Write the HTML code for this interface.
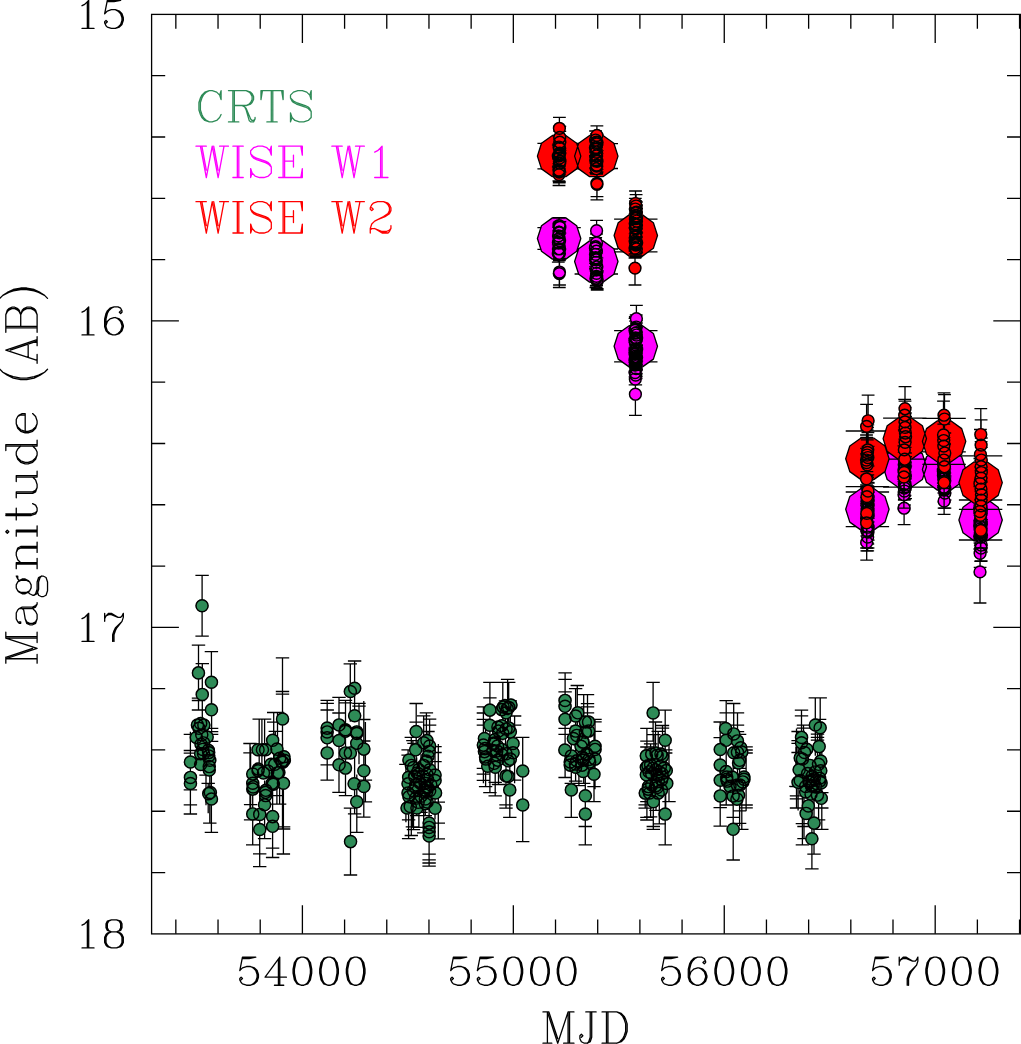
<!DOCTYPE html>
<html><head><meta charset="utf-8"><title>Light curve</title>
<style>html,body{margin:0;padding:0;background:#fff;font-family:"Liberation Sans",sans-serif}svg{display:block}</style></head>
<body>
<svg width="1021" height="1044" viewBox="0 0 1021 1044">
<rect x="0" y="0" width="1021" height="1044" fill="#fff"/>
<path d="M202.1 575.4L202.1 636.2M195.4 575.4L208.8 575.4M198.5 645.2L198.5 703.2M191.8 645.2L205.2 645.2M211.4 651.6L211.4 709.6M204.7 651.6L218.1 651.6M202.3 663.7L202.3 721.7M195.6 663.7L209.0 663.7M190.4 734.3L190.4 792.3M183.7 734.3L197.1 734.3M190.4 750.5L190.4 808.5M183.7 750.5L197.1 750.5M190.4 753.2L190.4 811.2M183.7 753.2L197.1 753.2M206.0 775.2L206.0 805.2M199.3 775.2L212.7 775.2M208.2 783.3L208.2 813.3M201.5 783.3L214.9 783.3M261.9 719.2L261.9 777.2M255.2 719.2L268.6 719.2M259.2 719.2L259.2 777.2M252.5 719.2L265.9 719.2M264.6 719.2L264.6 777.2M257.9 719.2L271.3 719.2M273.7 712.5L273.7 770.5M267.0 712.5L280.4 712.5M277.5 712.5L277.5 770.5M270.8 712.5L284.2 712.5M250.0 743.5L250.0 801.5M243.3 743.5L256.7 743.5M250.0 752.9L250.0 810.9M243.3 752.9L256.7 752.9M273.7 722.2L273.7 780.2M267.0 722.2L280.4 722.2M275.3 731.3L275.3 789.3M268.6 731.3L282.0 731.3M282.5 657.8L282.5 779.8M275.8 657.8L289.2 657.8M282.5 691.5L282.5 821.5M275.8 691.5L289.2 691.5M282.5 694.2L282.5 828.2M275.8 694.2L289.2 694.2M354.6 661.0L354.6 719.0M347.9 661.0L361.3 661.0M350.3 663.8L350.3 721.8M343.6 663.8L357.0 663.8M327.2 700.4L327.2 758.4M320.5 700.4L333.9 700.4M327.2 703.3L327.2 761.3M320.5 703.3L333.9 703.3M327.2 710.0L327.2 768.0M320.5 710.0L333.9 710.0M339.0 697.4L339.0 755.4M332.3 697.4L345.7 697.4M339.0 713.0L339.0 771.0M332.3 713.0L345.7 713.0M345.5 700.4L345.5 758.4M338.8 700.4L352.2 700.4M345.5 702.8L345.5 760.8M338.8 702.8L352.2 702.8M359.0 703.3L359.0 761.3M352.3 703.3L365.7 703.3M359.0 706.2L359.0 764.2M352.3 706.2L365.7 706.2M363.8 719.5L363.8 777.5M357.1 719.5L370.5 719.5M350.5 808.2L350.5 843.2M343.8 808.2L357.2 808.2M416.2 703.5L416.2 761.5M409.5 703.5L422.9 703.5M416.2 722.1L416.2 780.1M409.5 722.1L422.9 722.1M426.4 712.8L426.4 770.8M419.7 712.8L433.1 712.8M423.7 715.9L423.7 773.9M417.0 715.9L430.4 715.9M429.6 719.1L429.6 777.1M422.9 719.1L436.3 719.1M429.6 725.2L429.6 783.2M422.9 725.2L436.3 725.2M428.0 731.5L428.0 789.5M421.3 731.5L434.7 731.5M411.3 737.4L411.3 795.4M404.6 737.4L418.0 737.4M412.9 740.6L412.9 798.6M406.2 740.6L419.6 740.6M414.0 743.3L414.0 801.3M407.3 743.3L420.7 743.3M408.1 749.8L408.1 807.8M401.4 749.8L414.8 749.8M408.1 755.2L408.1 813.2M401.4 755.2L414.8 755.2M435.0 746.6L435.0 804.6M428.3 746.6L441.7 746.6M435.0 752.5L435.0 810.5M428.3 752.5L441.7 752.5M435.0 761.6L435.0 819.6M428.3 761.6L441.7 761.6M405.9 764.3L405.9 822.3M399.2 764.3L412.6 764.3M489.9 682.4L489.9 740.4M483.2 682.4L496.6 682.4M489.9 697.9L489.9 755.9M483.2 697.9L496.6 697.9M507.6 679.4L507.6 737.4M500.9 679.4L514.3 679.4M502.8 682.4L502.8 740.4M496.1 682.4L509.5 682.4M508.7 682.4L508.7 740.4M502.0 682.4L515.4 682.4M505.5 700.9L505.5 758.9M498.8 700.9L512.2 700.9M510.3 700.9L510.3 758.9M503.6 700.9L517.0 700.9M514.6 716.0L514.6 774.0M507.9 716.0L521.3 716.0M514.6 725.2L514.6 783.2M507.9 725.2L521.3 725.2M483.4 706.9L483.4 764.9M476.7 706.9L490.1 706.9M483.4 713.0L483.4 771.0M476.7 713.0L490.1 713.0M483.4 719.3L483.4 777.3M476.7 719.3L490.1 719.3M483.4 725.2L483.4 783.2M476.7 725.2L490.1 725.2M522.7 737.4L522.7 795.4M516.0 737.4L529.4 737.4M565.1 672.9L565.1 730.9M558.4 672.9L571.8 672.9M565.1 679.4L565.1 737.4M558.4 679.4L571.8 679.4M565.1 691.8L565.1 749.8M558.4 691.8L571.8 691.8M577.3 685.5L577.3 743.5M570.6 685.5L584.0 685.5M575.6 688.6L575.6 746.6M568.9 688.6L582.3 688.6M583.7 694.7L583.7 752.7M577.0 694.7L590.4 694.7M587.5 694.7L587.5 752.7M580.8 694.7L594.2 694.7M587.5 703.6L587.5 761.6M580.8 703.6L594.2 703.6M587.5 706.9L587.5 764.9M580.8 706.9L594.2 706.9M587.5 712.8L587.5 770.8M580.8 712.8L594.2 712.8M595.0 719.3L595.0 777.3M588.3 719.3L601.7 719.3M595.0 721.9L595.0 779.9M588.3 721.9L601.7 721.9M595.0 731.3L595.0 789.3M588.3 731.3L601.7 731.3M653.1 682.4L653.1 740.4M646.4 682.4L659.8 682.4M665.2 710.1L665.2 768.1M658.5 710.1L671.9 710.1M646.9 728.4L646.9 786.4M640.2 728.4L653.6 728.4M646.9 741.1L646.9 799.1M640.2 741.1L653.6 741.1M646.9 747.0L646.9 805.0M640.2 747.0L653.6 747.0M655.5 722.0L655.5 780.0M648.8 722.0L662.2 722.0M662.5 725.5L662.5 783.5M655.8 725.5L669.2 725.5M662.5 728.2L662.5 786.2M655.8 728.2L669.2 728.2M650.6 743.8L650.6 801.8M643.9 743.8L657.3 743.8M665.7 749.9L665.7 807.9M659.0 749.9L672.4 749.9M665.7 753.0L665.7 811.0M659.0 753.0L672.4 753.0M653.9 734.6L653.9 792.6M647.2 734.6L660.6 734.6M658.2 731.4L658.2 789.4M651.5 731.4L664.9 731.4M726.2 700.7L726.2 758.7M719.5 700.7L732.9 700.7M726.2 712.9L726.2 770.9M719.5 712.9L732.9 712.9M733.7 703.5L733.7 761.5M727.0 703.5L740.4 703.5M737.5 712.9L737.5 770.9M730.8 712.9L744.2 712.9M737.5 725.2L737.5 783.2M730.8 725.2L744.2 725.2M737.5 731.7L737.5 789.7M730.8 731.7L744.2 731.7M739.6 734.4L739.6 792.4M732.9 734.4L746.3 734.4M720.2 722.0L720.2 780.0M713.5 722.0L726.9 722.0M720.2 737.6L720.2 795.6M713.5 737.6L726.9 737.6M746.1 746.8L746.1 804.8M739.4 746.8L752.8 746.8M746.1 750.0L746.1 808.0M739.4 750.0L752.8 750.0M746.1 753.0L746.1 811.0M739.4 753.0L752.8 753.0M739.6 768.3L739.6 826.3M732.9 768.3L746.3 768.3M815.3 697.8L815.3 755.8M808.6 697.8L822.0 697.8M820.2 697.8L820.2 755.8M813.5 697.8L826.9 697.8M801.5 710.1L801.5 768.1M794.8 710.1L808.2 710.1M801.5 715.9L801.5 773.9M794.8 715.9L808.2 715.9M803.5 725.2L803.5 783.2M796.8 725.2L810.2 725.2M803.5 728.2L803.5 786.2M796.8 728.2L810.2 728.2M798.1 731.5L798.1 789.5M791.4 731.5L804.8 731.5M798.1 740.6L798.1 798.6M791.4 740.6L804.8 740.6M798.1 743.3L798.1 801.3M791.4 743.3L804.8 743.3M798.1 752.5L798.1 810.5M791.4 752.5L804.8 752.5M817.5 734.2L817.5 792.2M810.8 734.2L824.2 734.2M817.5 737.4L817.5 795.4M810.8 737.4L824.2 737.4M817.5 740.1L817.5 798.1M810.8 740.1L824.2 740.1M819.6 719.3L819.6 777.3M812.9 719.3L826.3 719.3M202.1 636.2L202.1 636.2M195.4 636.2L208.8 636.2M198.5 658.2L198.5 698.2M191.8 698.2L205.2 698.2M198.5 660.5L198.5 700.5M191.8 700.5L205.2 700.5M198.5 670.0L198.5 710.0M191.8 710.0L205.2 710.0M211.6 688.3L211.6 728.3M204.9 728.3L218.3 728.3M211.6 691.6L211.6 731.6M204.9 731.6L218.3 731.6M211.6 694.3L211.6 734.3M204.9 734.3L218.3 734.3M211.6 701.3L211.6 741.3M204.9 741.3L218.3 741.3M190.4 756.0L190.4 814.0M183.7 814.0L197.1 814.0M190.4 746.9L190.4 804.9M183.7 804.9L197.1 804.9M190.4 731.8L190.4 789.8M183.7 789.8L197.1 789.8M211.4 774.4L211.4 832.4M204.7 832.4L218.1 832.4M209.8 765.2L209.8 823.2M203.1 823.2L216.5 823.2M252.7 786.9L252.7 844.9M246.0 844.9L259.4 844.9M259.7 808.7L259.7 866.7M253.0 866.7L266.4 866.7M259.7 795.9L259.7 853.9M253.0 853.9L266.4 853.9M264.6 780.6L264.6 838.6M257.9 838.6L271.3 838.6M272.6 799.5L272.6 857.5M265.9 857.5L279.3 857.5M272.6 790.1L272.6 848.1M265.9 848.1L279.3 848.1M276.9 746.2L276.9 804.2M270.2 804.2L283.6 804.2M276.9 737.6L276.9 795.6M270.2 795.6L283.6 795.6M279.6 746.2L279.6 804.2M272.9 804.2L286.3 804.2M250.6 746.7L250.6 804.7M243.9 804.7L257.3 804.7M250.6 761.8L250.6 819.8M243.9 819.8L257.3 819.8M283.4 779.0L283.4 854.0M276.7 854.0L290.1 854.0M283.6 826.8L283.6 826.8M276.9 826.8L290.3 826.8M283.6 829.0L283.6 829.0M276.9 829.0L290.3 829.0M363.8 701.0L363.8 741.0M357.1 741.0L370.5 741.0M327.2 706.8L327.2 764.8M320.5 764.8L333.9 764.8M327.2 722.1L327.2 780.1M320.5 780.1L333.9 780.1M339.0 734.3L339.0 792.3M332.3 792.3L345.7 792.3M345.5 737.6L345.5 795.6M338.8 795.6L352.2 795.6M354.6 755.9L354.6 813.9M347.9 813.9L361.3 813.9M356.8 774.4L356.8 832.4M350.1 832.4L363.5 832.4M363.8 759.1L363.8 817.1M357.1 817.1L370.5 817.1M365.4 743.8L365.4 801.8M358.7 801.8L372.1 801.8M365.4 722.1L365.4 780.1M358.7 780.1L372.1 780.1M350.5 817.0L350.5 875.0M343.8 875.0L357.2 875.0M408.6 761.9L408.6 819.9M401.9 819.9L415.3 819.9M412.4 768.9L412.4 826.9M405.7 826.9L419.1 826.9M411.3 777.5L411.3 835.5M404.6 835.5L418.0 835.5M408.6 780.7L408.6 838.7M401.9 838.7L415.3 838.7M413.5 771.6L413.5 829.6M406.8 829.6L420.2 829.6M418.9 769.4L418.9 827.4M412.2 827.4L425.6 827.4M429.1 796.1L429.1 854.1M422.4 854.1L435.8 854.1M429.1 801.9L429.1 859.9M422.4 859.9L435.8 859.9M429.1 805.0L429.1 863.0M422.4 863.0L435.8 863.0M429.1 808.2L429.1 866.2M422.4 866.2L435.8 866.2M438.3 744.1L438.3 802.1M431.6 802.1L445.0 802.1M438.3 765.1L438.3 823.1M431.6 823.1L445.0 823.1M438.3 780.9L438.3 838.9M431.6 838.9L445.0 838.9M421.0 754.3L421.0 812.3M414.3 812.3L427.7 812.3M425.3 757.6L425.3 815.6M418.6 815.6L432.0 815.6M416.7 757.6L416.7 815.6M410.0 815.6L423.4 815.6M423.7 774.8L423.7 832.8M417.0 832.8L430.4 832.8M483.4 710.3L483.4 768.3M476.7 768.3L490.1 768.3M483.4 716.2L483.4 774.2M476.7 774.2L490.1 774.2M483.4 722.4L483.4 780.4M476.7 780.4L490.1 780.4M485.6 728.6L485.6 786.6M478.9 786.6L492.3 786.6M489.9 734.6L489.9 792.6M483.2 792.6L496.6 792.6M495.2 737.8L495.2 795.8M488.5 795.8L501.9 795.8M506.0 746.9L506.0 804.9M499.3 804.9L512.7 804.9M506.0 750.2L506.0 808.2M499.3 808.2L512.7 808.2M509.8 759.3L509.8 817.3M503.1 817.3L516.5 817.3M522.7 783.6L522.7 841.6M516.0 841.6L529.4 841.6M514.6 722.2L514.6 780.2M507.9 780.2L521.3 780.2M495.2 724.3L495.2 782.3M488.5 782.3L501.9 782.3M498.5 726.5L498.5 784.5M491.8 784.5L505.2 784.5M565.1 688.4L565.1 728.4M558.4 728.4L571.8 728.4M565.1 694.3L565.1 734.3M558.4 734.3L571.8 734.3M565.1 719.5L565.1 777.5M558.4 777.5L571.8 777.5M571.3 725.4L571.3 783.4M564.6 783.4L578.0 783.4M571.3 759.3L571.3 817.3M564.6 817.3L578.0 817.3M585.3 768.5L585.3 826.5M578.6 826.5L592.0 826.5M585.3 786.8L585.3 844.8M578.6 844.8L592.0 844.8M594.0 728.6L594.0 786.6M587.3 786.6L600.7 786.6M594.0 743.7L594.0 801.7M587.3 801.7L600.7 801.7M583.7 725.4L583.7 783.4M577.0 783.4L590.4 783.4M575.6 723.2L575.6 781.2M568.9 781.2L582.3 781.2M578.9 727.6L578.9 785.6M572.2 785.6L585.6 785.6M646.9 743.7L646.9 801.7M640.2 801.7L653.6 801.7M646.9 759.3L646.9 817.3M640.2 817.3L653.6 817.3M646.9 762.0L646.9 820.0M640.2 820.0L653.6 820.0M653.3 768.5L653.3 826.5M646.6 826.5L660.0 826.5M653.3 771.4L653.3 829.4M646.6 829.4L660.0 829.4M659.3 765.8L659.3 823.8M652.6 823.8L666.0 823.8M665.2 786.8L665.2 844.8M658.5 844.8L671.9 844.8M669.0 743.7L669.0 801.7M662.3 801.7L675.7 801.7M645.2 746.9L645.2 804.9M638.5 804.9L651.9 804.9M645.2 750.2L645.2 808.2M638.5 808.2L651.9 808.2M650.6 758.8L650.6 816.8M643.9 816.8L657.3 816.8M656.0 752.3L656.0 810.3M649.3 810.3L662.7 810.3M720.2 749.7L720.2 807.7M713.5 807.7L726.9 807.7M720.2 768.2L720.2 826.2M713.5 826.2L726.9 826.2M726.2 747.0L726.2 805.0M719.5 805.0L732.9 805.0M733.2 759.4L733.2 817.4M726.5 817.4L739.9 817.4M733.2 802.0L733.2 860.0M726.5 860.0L739.9 860.0M739.6 752.9L739.6 810.9M732.9 810.9L746.3 810.9M739.6 765.3L739.6 823.3M732.9 823.3L746.3 823.3M746.1 747.0L746.1 805.0M739.4 805.0L752.8 805.0M746.1 749.9L746.1 807.9M739.4 807.9L752.8 807.9M741.8 771.3L741.8 829.3M735.1 829.3L748.5 829.3M795.9 746.4L795.9 786.4M789.2 786.4L802.6 786.4M796.5 728.5L796.5 786.5M789.8 786.5L803.2 786.5M796.5 737.9L796.5 795.9M789.8 795.9L803.2 795.9M796.5 740.9L796.5 798.9M789.8 798.9L803.2 798.9M796.5 750.0L796.5 808.0M789.8 808.0L803.2 808.0M802.4 765.6L802.4 823.6M795.7 823.6L809.1 823.6M804.0 768.5L804.0 826.5M797.3 826.5L810.7 826.5M804.0 780.7L804.0 838.7M797.3 838.7L810.7 838.7M802.4 786.9L802.4 844.9M795.7 844.9L809.1 844.9M814.0 796.1L814.0 854.1M807.3 854.1L820.7 854.1M811.9 810.9L811.9 868.9M805.2 868.9L818.6 868.9M821.8 734.7L821.8 792.7M815.1 792.7L828.5 792.7M821.8 750.0L821.8 808.0M815.1 808.0L828.5 808.0M821.8 771.3L821.8 829.3M815.1 829.3L828.5 829.3M818.6 761.9L818.6 819.9M811.9 819.9L825.3 819.9" stroke="#000" stroke-width="1.30" fill="none"/>
<path d="M259.8 790.3a6.0 6.0 0 1 0 12.1 0a6.0 6.0 0 1 0 -12.1 0ZM720.1 771.6a6.0 6.0 0 1 0 12.1 0a6.0 6.0 0 1 0 -12.1 0ZM409.6 787.7a6.0 6.0 0 1 0 12.1 0a6.0 6.0 0 1 0 -12.1 0ZM333.0 764.8a6.0 6.0 0 1 0 12.1 0a6.0 6.0 0 1 0 -12.1 0ZM502.1 776.4a6.0 6.0 0 1 0 12.1 0a6.0 6.0 0 1 0 -12.1 0ZM204.3 792.5a6.0 6.0 0 1 0 12.1 0a6.0 6.0 0 1 0 -12.1 0ZM640.3 755.7a6.0 6.0 0 1 0 12.1 0a6.0 6.0 0 1 0 -12.1 0ZM407.4 790.8a6.0 6.0 0 1 0 12.1 0a6.0 6.0 0 1 0 -12.1 0ZM645.7 773.7a6.0 6.0 0 1 0 12.1 0a6.0 6.0 0 1 0 -12.1 0ZM477.3 745.1a6.0 6.0 0 1 0 12.1 0a6.0 6.0 0 1 0 -12.1 0ZM658.2 768.1a6.0 6.0 0 1 0 12.1 0a6.0 6.0 0 1 0 -12.1 0ZM727.1 829.3a6.0 6.0 0 1 0 12.1 0a6.0 6.0 0 1 0 -12.1 0ZM419.3 803.7a6.0 6.0 0 1 0 12.1 0a6.0 6.0 0 1 0 -12.1 0ZM344.3 752.9a6.0 6.0 0 1 0 12.1 0a6.0 6.0 0 1 0 -12.1 0ZM478.4 751.6a6.0 6.0 0 1 0 12.1 0a6.0 6.0 0 1 0 -12.1 0ZM650.0 753.0a6.0 6.0 0 1 0 12.1 0a6.0 6.0 0 1 0 -12.1 0ZM429.0 775.1a6.0 6.0 0 1 0 12.1 0a6.0 6.0 0 1 0 -12.1 0ZM645.7 754.3a6.0 6.0 0 1 0 12.1 0a6.0 6.0 0 1 0 -12.1 0ZM579.3 795.8a6.0 6.0 0 1 0 12.1 0a6.0 6.0 0 1 0 -12.1 0ZM417.1 776.2a6.0 6.0 0 1 0 12.1 0a6.0 6.0 0 1 0 -12.1 0ZM202.7 793.6a6.0 6.0 0 1 0 12.1 0a6.0 6.0 0 1 0 -12.1 0ZM253.7 814.4a6.0 6.0 0 1 0 12.1 0a6.0 6.0 0 1 0 -12.1 0ZM502.1 760.8a6.0 6.0 0 1 0 12.1 0a6.0 6.0 0 1 0 -12.1 0ZM404.2 806.4a6.0 6.0 0 1 0 12.1 0a6.0 6.0 0 1 0 -12.1 0ZM733.6 760.3a6.0 6.0 0 1 0 12.1 0a6.0 6.0 0 1 0 -12.1 0ZM478.4 738.6a6.0 6.0 0 1 0 12.1 0a6.0 6.0 0 1 0 -12.1 0ZM652.1 793.1a6.0 6.0 0 1 0 12.1 0a6.0 6.0 0 1 0 -12.1 0ZM190.3 737.5a6.0 6.0 0 1 0 12.1 0a6.0 6.0 0 1 0 -12.1 0ZM194.6 723.5a6.0 6.0 0 1 0 12.1 0a6.0 6.0 0 1 0 -12.1 0ZM429.0 780.5a6.0 6.0 0 1 0 12.1 0a6.0 6.0 0 1 0 -12.1 0ZM348.1 783.7a6.0 6.0 0 1 0 12.1 0a6.0 6.0 0 1 0 -12.1 0ZM421.1 802.0a6.0 6.0 0 1 0 12.1 0a6.0 6.0 0 1 0 -12.1 0ZM417.7 742.8a6.0 6.0 0 1 0 12.1 0a6.0 6.0 0 1 0 -12.1 0ZM350.7 731.9a6.0 6.0 0 1 0 12.1 0a6.0 6.0 0 1 0 -12.1 0ZM815.0 782.9a6.0 6.0 0 1 0 12.1 0a6.0 6.0 0 1 0 -12.1 0ZM415.0 783.7a6.0 6.0 0 1 0 12.1 0a6.0 6.0 0 1 0 -12.1 0ZM798.5 752.5a6.0 6.0 0 1 0 12.1 0a6.0 6.0 0 1 0 -12.1 0ZM500.0 729.0a6.0 6.0 0 1 0 12.1 0a6.0 6.0 0 1 0 -12.1 0ZM649.5 785.9a6.0 6.0 0 1 0 12.1 0a6.0 6.0 0 1 0 -12.1 0ZM730.9 799.1a6.0 6.0 0 1 0 12.1 0a6.0 6.0 0 1 0 -12.1 0ZM423.6 769.7a6.0 6.0 0 1 0 12.1 0a6.0 6.0 0 1 0 -12.1 0ZM420.0 761.7a6.0 6.0 0 1 0 12.1 0a6.0 6.0 0 1 0 -12.1 0ZM197.5 753.7a6.0 6.0 0 1 0 12.1 0a6.0 6.0 0 1 0 -12.1 0ZM564.2 761.9a6.0 6.0 0 1 0 12.1 0a6.0 6.0 0 1 0 -12.1 0ZM649.7 769.9a6.0 6.0 0 1 0 12.1 0a6.0 6.0 0 1 0 -12.1 0ZM794.2 780.5a6.0 6.0 0 1 0 12.1 0a6.0 6.0 0 1 0 -12.1 0ZM656.0 773.8a6.0 6.0 0 1 0 12.1 0a6.0 6.0 0 1 0 -12.1 0ZM422.0 756.3a6.0 6.0 0 1 0 12.1 0a6.0 6.0 0 1 0 -12.1 0ZM644.6 765.1a6.0 6.0 0 1 0 12.1 0a6.0 6.0 0 1 0 -12.1 0ZM420.7 791.5a6.0 6.0 0 1 0 12.1 0a6.0 6.0 0 1 0 -12.1 0ZM357.8 786.4a6.0 6.0 0 1 0 12.1 0a6.0 6.0 0 1 0 -12.1 0ZM559.0 700.4a6.0 6.0 0 1 0 12.1 0a6.0 6.0 0 1 0 -12.1 0ZM655.5 780.0a6.0 6.0 0 1 0 12.1 0a6.0 6.0 0 1 0 -12.1 0ZM424.7 784.8a6.0 6.0 0 1 0 12.1 0a6.0 6.0 0 1 0 -12.1 0ZM720.7 779.2a6.0 6.0 0 1 0 12.1 0a6.0 6.0 0 1 0 -12.1 0ZM502.7 707.4a6.0 6.0 0 1 0 12.1 0a6.0 6.0 0 1 0 -12.1 0ZM491.4 746.0a6.0 6.0 0 1 0 12.1 0a6.0 6.0 0 1 0 -12.1 0ZM333.0 724.9a6.0 6.0 0 1 0 12.1 0a6.0 6.0 0 1 0 -12.1 0ZM807.1 785.4a6.0 6.0 0 1 0 12.1 0a6.0 6.0 0 1 0 -12.1 0ZM726.1 777.0a6.0 6.0 0 1 0 12.1 0a6.0 6.0 0 1 0 -12.1 0ZM640.3 767.2a6.0 6.0 0 1 0 12.1 0a6.0 6.0 0 1 0 -12.1 0ZM339.4 768.1a6.0 6.0 0 1 0 12.1 0a6.0 6.0 0 1 0 -12.1 0ZM419.1 789.9a6.0 6.0 0 1 0 12.1 0a6.0 6.0 0 1 0 -12.1 0ZM268.8 764.3a6.0 6.0 0 1 0 12.1 0a6.0 6.0 0 1 0 -12.1 0ZM419.3 787.0a6.0 6.0 0 1 0 12.1 0a6.0 6.0 0 1 0 -12.1 0ZM642.1 789.1a6.0 6.0 0 1 0 12.1 0a6.0 6.0 0 1 0 -12.1 0ZM559.0 706.3a6.0 6.0 0 1 0 12.1 0a6.0 6.0 0 1 0 -12.1 0ZM803.9 765.4a6.0 6.0 0 1 0 12.1 0a6.0 6.0 0 1 0 -12.1 0ZM194.6 764.5a6.0 6.0 0 1 0 12.1 0a6.0 6.0 0 1 0 -12.1 0ZM423.6 790.8a6.0 6.0 0 1 0 12.1 0a6.0 6.0 0 1 0 -12.1 0ZM559.0 719.3a6.0 6.0 0 1 0 12.1 0a6.0 6.0 0 1 0 -12.1 0ZM731.4 752.2a6.0 6.0 0 1 0 12.1 0a6.0 6.0 0 1 0 -12.1 0ZM645.7 754.0a6.0 6.0 0 1 0 12.1 0a6.0 6.0 0 1 0 -12.1 0ZM409.6 749.8a6.0 6.0 0 1 0 12.1 0a6.0 6.0 0 1 0 -12.1 0ZM205.4 799.0a6.0 6.0 0 1 0 12.1 0a6.0 6.0 0 1 0 -12.1 0ZM814.1 727.7a6.0 6.0 0 1 0 12.1 0a6.0 6.0 0 1 0 -12.1 0ZM252.0 770.8a6.0 6.0 0 1 0 12.1 0a6.0 6.0 0 1 0 -12.1 0ZM650.0 785.6a6.0 6.0 0 1 0 12.1 0a6.0 6.0 0 1 0 -12.1 0ZM589.0 759.1a6.0 6.0 0 1 0 12.1 0a6.0 6.0 0 1 0 -12.1 0ZM577.5 758.5a6.0 6.0 0 1 0 12.1 0a6.0 6.0 0 1 0 -12.1 0ZM256.4 749.7a6.0 6.0 0 1 0 12.1 0a6.0 6.0 0 1 0 -12.1 0ZM794.2 757.9a6.0 6.0 0 1 0 12.1 0a6.0 6.0 0 1 0 -12.1 0ZM193.0 728.3a6.0 6.0 0 1 0 12.1 0a6.0 6.0 0 1 0 -12.1 0ZM195.0 744.2a6.0 6.0 0 1 0 12.1 0a6.0 6.0 0 1 0 -12.1 0ZM419.8 786.8a6.0 6.0 0 1 0 12.1 0a6.0 6.0 0 1 0 -12.1 0ZM423.6 746.0a6.0 6.0 0 1 0 12.1 0a6.0 6.0 0 1 0 -12.1 0ZM516.7 804.9a6.0 6.0 0 1 0 12.1 0a6.0 6.0 0 1 0 -12.1 0ZM277.4 783.2a6.0 6.0 0 1 0 12.1 0a6.0 6.0 0 1 0 -12.1 0ZM723.9 786.2a6.0 6.0 0 1 0 12.1 0a6.0 6.0 0 1 0 -12.1 0ZM421.4 779.4a6.0 6.0 0 1 0 12.1 0a6.0 6.0 0 1 0 -12.1 0ZM321.1 737.8a6.0 6.0 0 1 0 12.1 0a6.0 6.0 0 1 0 -12.1 0ZM339.4 729.7a6.0 6.0 0 1 0 12.1 0a6.0 6.0 0 1 0 -12.1 0ZM802.8 781.1a6.0 6.0 0 1 0 12.1 0a6.0 6.0 0 1 0 -12.1 0ZM252.2 769.1a6.0 6.0 0 1 0 12.1 0a6.0 6.0 0 1 0 -12.1 0ZM205.4 682.2a6.0 6.0 0 1 0 12.1 0a6.0 6.0 0 1 0 -12.1 0ZM571.7 712.8a6.0 6.0 0 1 0 12.1 0a6.0 6.0 0 1 0 -12.1 0ZM412.8 774.0a6.0 6.0 0 1 0 12.1 0a6.0 6.0 0 1 0 -12.1 0ZM643.5 793.0a6.0 6.0 0 1 0 12.1 0a6.0 6.0 0 1 0 -12.1 0ZM815.2 798.3a6.0 6.0 0 1 0 12.1 0a6.0 6.0 0 1 0 -12.1 0ZM258.5 804.7a6.0 6.0 0 1 0 12.1 0a6.0 6.0 0 1 0 -12.1 0ZM580.4 754.8a6.0 6.0 0 1 0 12.1 0a6.0 6.0 0 1 0 -12.1 0ZM348.6 715.7a6.0 6.0 0 1 0 12.1 0a6.0 6.0 0 1 0 -12.1 0ZM733.9 785.0a6.0 6.0 0 1 0 12.1 0a6.0 6.0 0 1 0 -12.1 0ZM497.1 707.0a6.0 6.0 0 1 0 12.1 0a6.0 6.0 0 1 0 -12.1 0ZM321.1 752.9a6.0 6.0 0 1 0 12.1 0a6.0 6.0 0 1 0 -12.1 0ZM321.1 731.9a6.0 6.0 0 1 0 12.1 0a6.0 6.0 0 1 0 -12.1 0ZM651.1 755.4a6.0 6.0 0 1 0 12.1 0a6.0 6.0 0 1 0 -12.1 0ZM731.4 785.1a6.0 6.0 0 1 0 12.1 0a6.0 6.0 0 1 0 -12.1 0ZM402.9 796.8a6.0 6.0 0 1 0 12.1 0a6.0 6.0 0 1 0 -12.1 0ZM808.0 823.1a6.0 6.0 0 1 0 12.1 0a6.0 6.0 0 1 0 -12.1 0ZM504.3 731.8a6.0 6.0 0 1 0 12.1 0a6.0 6.0 0 1 0 -12.1 0ZM203.2 766.6a6.0 6.0 0 1 0 12.1 0a6.0 6.0 0 1 0 -12.1 0ZM805.5 786.2a6.0 6.0 0 1 0 12.1 0a6.0 6.0 0 1 0 -12.1 0ZM253.7 829.5a6.0 6.0 0 1 0 12.1 0a6.0 6.0 0 1 0 -12.1 0ZM184.4 762.0a6.0 6.0 0 1 0 12.1 0a6.0 6.0 0 1 0 -12.1 0ZM409.6 784.8a6.0 6.0 0 1 0 12.1 0a6.0 6.0 0 1 0 -12.1 0ZM252.0 749.7a6.0 6.0 0 1 0 12.1 0a6.0 6.0 0 1 0 -12.1 0ZM806.7 780.4a6.0 6.0 0 1 0 12.1 0a6.0 6.0 0 1 0 -12.1 0ZM202.7 755.9a6.0 6.0 0 1 0 12.1 0a6.0 6.0 0 1 0 -12.1 0ZM653.4 771.7a6.0 6.0 0 1 0 12.1 0a6.0 6.0 0 1 0 -12.1 0ZM805.0 794.0a6.0 6.0 0 1 0 12.1 0a6.0 6.0 0 1 0 -12.1 0ZM579.3 732.2a6.0 6.0 0 1 0 12.1 0a6.0 6.0 0 1 0 -12.1 0ZM491.9 727.0a6.0 6.0 0 1 0 12.1 0a6.0 6.0 0 1 0 -12.1 0ZM407.4 767.6a6.0 6.0 0 1 0 12.1 0a6.0 6.0 0 1 0 -12.1 0ZM652.2 781.4a6.0 6.0 0 1 0 12.1 0a6.0 6.0 0 1 0 -12.1 0ZM275.6 761.5a6.0 6.0 0 1 0 12.1 0a6.0 6.0 0 1 0 -12.1 0ZM483.8 725.2a6.0 6.0 0 1 0 12.1 0a6.0 6.0 0 1 0 -12.1 0ZM800.7 749.3a6.0 6.0 0 1 0 12.1 0a6.0 6.0 0 1 0 -12.1 0ZM481.7 766.2a6.0 6.0 0 1 0 12.1 0a6.0 6.0 0 1 0 -12.1 0ZM420.9 740.6a6.0 6.0 0 1 0 12.1 0a6.0 6.0 0 1 0 -12.1 0ZM720.7 777.0a6.0 6.0 0 1 0 12.1 0a6.0 6.0 0 1 0 -12.1 0ZM278.3 760.2a6.0 6.0 0 1 0 12.1 0a6.0 6.0 0 1 0 -12.1 0ZM429.0 808.2a6.0 6.0 0 1 0 12.1 0a6.0 6.0 0 1 0 -12.1 0ZM736.8 781.9a6.0 6.0 0 1 0 12.1 0a6.0 6.0 0 1 0 -12.1 0ZM203.7 760.2a6.0 6.0 0 1 0 12.1 0a6.0 6.0 0 1 0 -12.1 0ZM423.1 751.4a6.0 6.0 0 1 0 12.1 0a6.0 6.0 0 1 0 -12.1 0ZM577.1 741.9a6.0 6.0 0 1 0 12.1 0a6.0 6.0 0 1 0 -12.1 0ZM202.3 750.3a6.0 6.0 0 1 0 12.1 0a6.0 6.0 0 1 0 -12.1 0ZM277.9 756.7a6.0 6.0 0 1 0 12.1 0a6.0 6.0 0 1 0 -12.1 0ZM415.0 796.2a6.0 6.0 0 1 0 12.1 0a6.0 6.0 0 1 0 -12.1 0ZM714.2 795.9a6.0 6.0 0 1 0 12.1 0a6.0 6.0 0 1 0 -12.1 0ZM496.1 754.8a6.0 6.0 0 1 0 12.1 0a6.0 6.0 0 1 0 -12.1 0ZM570.7 735.4a6.0 6.0 0 1 0 12.1 0a6.0 6.0 0 1 0 -12.1 0ZM589.0 749.4a6.0 6.0 0 1 0 12.1 0a6.0 6.0 0 1 0 -12.1 0ZM714.2 749.5a6.0 6.0 0 1 0 12.1 0a6.0 6.0 0 1 0 -12.1 0ZM569.4 764.0a6.0 6.0 0 1 0 12.1 0a6.0 6.0 0 1 0 -12.1 0ZM413.5 782.4a6.0 6.0 0 1 0 12.1 0a6.0 6.0 0 1 0 -12.1 0ZM419.0 783.3a6.0 6.0 0 1 0 12.1 0a6.0 6.0 0 1 0 -12.1 0ZM479.7 759.0a6.0 6.0 0 1 0 12.1 0a6.0 6.0 0 1 0 -12.1 0ZM639.2 793.1a6.0 6.0 0 1 0 12.1 0a6.0 6.0 0 1 0 -12.1 0ZM805.8 838.7a6.0 6.0 0 1 0 12.1 0a6.0 6.0 0 1 0 -12.1 0ZM558.8 750.0a6.0 6.0 0 1 0 12.1 0a6.0 6.0 0 1 0 -12.1 0ZM564.2 765.1a6.0 6.0 0 1 0 12.1 0a6.0 6.0 0 1 0 -12.1 0ZM348.6 688.2a6.0 6.0 0 1 0 12.1 0a6.0 6.0 0 1 0 -12.1 0ZM490.3 754.8a6.0 6.0 0 1 0 12.1 0a6.0 6.0 0 1 0 -12.1 0ZM565.3 755.9a6.0 6.0 0 1 0 12.1 0a6.0 6.0 0 1 0 -12.1 0ZM267.3 784.2a6.0 6.0 0 1 0 12.1 0a6.0 6.0 0 1 0 -12.1 0ZM423.1 831.7a6.0 6.0 0 1 0 12.1 0a6.0 6.0 0 1 0 -12.1 0ZM194.6 753.7a6.0 6.0 0 1 0 12.1 0a6.0 6.0 0 1 0 -12.1 0ZM737.9 777.0a6.0 6.0 0 1 0 12.1 0a6.0 6.0 0 1 0 -12.1 0ZM640.3 755.9a6.0 6.0 0 1 0 12.1 0a6.0 6.0 0 1 0 -12.1 0ZM483.8 710.1a6.0 6.0 0 1 0 12.1 0a6.0 6.0 0 1 0 -12.1 0ZM801.6 773.5a6.0 6.0 0 1 0 12.1 0a6.0 6.0 0 1 0 -12.1 0ZM276.5 719.0a6.0 6.0 0 1 0 12.1 0a6.0 6.0 0 1 0 -12.1 0ZM201.1 737.0a6.0 6.0 0 1 0 12.1 0a6.0 6.0 0 1 0 -12.1 0ZM357.8 770.8a6.0 6.0 0 1 0 12.1 0a6.0 6.0 0 1 0 -12.1 0ZM266.6 816.6a6.0 6.0 0 1 0 12.1 0a6.0 6.0 0 1 0 -12.1 0ZM350.7 743.2a6.0 6.0 0 1 0 12.1 0a6.0 6.0 0 1 0 -12.1 0ZM412.7 769.6a6.0 6.0 0 1 0 12.1 0a6.0 6.0 0 1 0 -12.1 0ZM421.8 787.7a6.0 6.0 0 1 0 12.1 0a6.0 6.0 0 1 0 -12.1 0ZM270.9 749.1a6.0 6.0 0 1 0 12.1 0a6.0 6.0 0 1 0 -12.1 0ZM496.7 733.3a6.0 6.0 0 1 0 12.1 0a6.0 6.0 0 1 0 -12.1 0ZM420.8 774.4a6.0 6.0 0 1 0 12.1 0a6.0 6.0 0 1 0 -12.1 0ZM646.9 768.4a6.0 6.0 0 1 0 12.1 0a6.0 6.0 0 1 0 -12.1 0ZM647.3 801.7a6.0 6.0 0 1 0 12.1 0a6.0 6.0 0 1 0 -12.1 0ZM570.7 760.8a6.0 6.0 0 1 0 12.1 0a6.0 6.0 0 1 0 -12.1 0ZM727.7 752.7a6.0 6.0 0 1 0 12.1 0a6.0 6.0 0 1 0 -12.1 0ZM719.6 728.5a6.0 6.0 0 1 0 12.1 0a6.0 6.0 0 1 0 -12.1 0ZM516.7 771.0a6.0 6.0 0 1 0 12.1 0a6.0 6.0 0 1 0 -12.1 0ZM259.6 749.7a6.0 6.0 0 1 0 12.1 0a6.0 6.0 0 1 0 -12.1 0ZM575.0 746.2a6.0 6.0 0 1 0 12.1 0a6.0 6.0 0 1 0 -12.1 0ZM796.4 759.0a6.0 6.0 0 1 0 12.1 0a6.0 6.0 0 1 0 -12.1 0ZM265.0 764.3a6.0 6.0 0 1 0 12.1 0a6.0 6.0 0 1 0 -12.1 0ZM799.6 786.5a6.0 6.0 0 1 0 12.1 0a6.0 6.0 0 1 0 -12.1 0ZM642.4 786.6a6.0 6.0 0 1 0 12.1 0a6.0 6.0 0 1 0 -12.1 0ZM192.4 672.9a6.0 6.0 0 1 0 12.1 0a6.0 6.0 0 1 0 -12.1 0ZM582.5 731.1a6.0 6.0 0 1 0 12.1 0a6.0 6.0 0 1 0 -12.1 0ZM809.5 786.1a6.0 6.0 0 1 0 12.1 0a6.0 6.0 0 1 0 -12.1 0ZM498.9 705.6a6.0 6.0 0 1 0 12.1 0a6.0 6.0 0 1 0 -12.1 0ZM205.4 709.8a6.0 6.0 0 1 0 12.1 0a6.0 6.0 0 1 0 -12.1 0ZM487.0 750.5a6.0 6.0 0 1 0 12.1 0a6.0 6.0 0 1 0 -12.1 0ZM732.5 795.3a6.0 6.0 0 1 0 12.1 0a6.0 6.0 0 1 0 -12.1 0ZM809.3 787.0a6.0 6.0 0 1 0 12.1 0a6.0 6.0 0 1 0 -12.1 0ZM504.3 759.1a6.0 6.0 0 1 0 12.1 0a6.0 6.0 0 1 0 -12.1 0ZM737.9 779.2a6.0 6.0 0 1 0 12.1 0a6.0 6.0 0 1 0 -12.1 0ZM714.2 765.1a6.0 6.0 0 1 0 12.1 0a6.0 6.0 0 1 0 -12.1 0ZM792.0 782.2a6.0 6.0 0 1 0 12.1 0a6.0 6.0 0 1 0 -12.1 0ZM411.2 772.9a6.0 6.0 0 1 0 12.1 0a6.0 6.0 0 1 0 -12.1 0ZM569.6 716.0a6.0 6.0 0 1 0 12.1 0a6.0 6.0 0 1 0 -12.1 0ZM587.9 774.2a6.0 6.0 0 1 0 12.1 0a6.0 6.0 0 1 0 -12.1 0ZM501.1 708.5a6.0 6.0 0 1 0 12.1 0a6.0 6.0 0 1 0 -12.1 0ZM402.0 783.7a6.0 6.0 0 1 0 12.1 0a6.0 6.0 0 1 0 -12.1 0ZM651.1 774.8a6.0 6.0 0 1 0 12.1 0a6.0 6.0 0 1 0 -12.1 0ZM196.7 749.4a6.0 6.0 0 1 0 12.1 0a6.0 6.0 0 1 0 -12.1 0ZM795.5 737.4a6.0 6.0 0 1 0 12.1 0a6.0 6.0 0 1 0 -12.1 0ZM401.0 808.0a6.0 6.0 0 1 0 12.1 0a6.0 6.0 0 1 0 -12.1 0ZM489.2 767.2a6.0 6.0 0 1 0 12.1 0a6.0 6.0 0 1 0 -12.1 0ZM339.4 752.9a6.0 6.0 0 1 0 12.1 0a6.0 6.0 0 1 0 -12.1 0ZM405.3 765.4a6.0 6.0 0 1 0 12.1 0a6.0 6.0 0 1 0 -12.1 0ZM579.3 721.9a6.0 6.0 0 1 0 12.1 0a6.0 6.0 0 1 0 -12.1 0ZM655.4 789.9a6.0 6.0 0 1 0 12.1 0a6.0 6.0 0 1 0 -12.1 0ZM488.2 763.3a6.0 6.0 0 1 0 12.1 0a6.0 6.0 0 1 0 -12.1 0ZM479.5 757.0a6.0 6.0 0 1 0 12.1 0a6.0 6.0 0 1 0 -12.1 0ZM344.5 841.6a6.0 6.0 0 1 0 12.1 0a6.0 6.0 0 1 0 -12.1 0ZM714.2 780.2a6.0 6.0 0 1 0 12.1 0a6.0 6.0 0 1 0 -12.1 0ZM357.8 749.1a6.0 6.0 0 1 0 12.1 0a6.0 6.0 0 1 0 -12.1 0ZM582.9 759.4a6.0 6.0 0 1 0 12.1 0a6.0 6.0 0 1 0 -12.1 0ZM321.1 728.1a6.0 6.0 0 1 0 12.1 0a6.0 6.0 0 1 0 -12.1 0ZM721.3 781.1a6.0 6.0 0 1 0 12.1 0a6.0 6.0 0 1 0 -12.1 0ZM266.6 826.3a6.0 6.0 0 1 0 12.1 0a6.0 6.0 0 1 0 -12.1 0ZM423.1 823.1a6.0 6.0 0 1 0 12.1 0a6.0 6.0 0 1 0 -12.1 0ZM257.4 772.9a6.0 6.0 0 1 0 12.1 0a6.0 6.0 0 1 0 -12.1 0ZM660.7 783.4a6.0 6.0 0 1 0 12.1 0a6.0 6.0 0 1 0 -12.1 0ZM507.0 743.5a6.0 6.0 0 1 0 12.1 0a6.0 6.0 0 1 0 -12.1 0ZM266.6 740.3a6.0 6.0 0 1 0 12.1 0a6.0 6.0 0 1 0 -12.1 0ZM569.6 767.2a6.0 6.0 0 1 0 12.1 0a6.0 6.0 0 1 0 -12.1 0ZM802.3 805.9a6.0 6.0 0 1 0 12.1 0a6.0 6.0 0 1 0 -12.1 0ZM727.7 733.9a6.0 6.0 0 1 0 12.1 0a6.0 6.0 0 1 0 -12.1 0ZM196.2 694.4a6.0 6.0 0 1 0 12.1 0a6.0 6.0 0 1 0 -12.1 0ZM191.4 725.1a6.0 6.0 0 1 0 12.1 0a6.0 6.0 0 1 0 -12.1 0ZM246.7 774.0a6.0 6.0 0 1 0 12.1 0a6.0 6.0 0 1 0 -12.1 0ZM813.1 746.6a6.0 6.0 0 1 0 12.1 0a6.0 6.0 0 1 0 -12.1 0ZM500.0 775.9a6.0 6.0 0 1 0 12.1 0a6.0 6.0 0 1 0 -12.1 0ZM246.7 783.2a6.0 6.0 0 1 0 12.1 0a6.0 6.0 0 1 0 -12.1 0ZM402.6 777.3a6.0 6.0 0 1 0 12.1 0a6.0 6.0 0 1 0 -12.1 0ZM488.6 739.7a6.0 6.0 0 1 0 12.1 0a6.0 6.0 0 1 0 -12.1 0ZM495.7 725.7a6.0 6.0 0 1 0 12.1 0a6.0 6.0 0 1 0 -12.1 0ZM576.2 757.1a6.0 6.0 0 1 0 12.1 0a6.0 6.0 0 1 0 -12.1 0ZM732.5 763.0a6.0 6.0 0 1 0 12.1 0a6.0 6.0 0 1 0 -12.1 0ZM567.4 738.6a6.0 6.0 0 1 0 12.1 0a6.0 6.0 0 1 0 -12.1 0ZM276.8 762.2a6.0 6.0 0 1 0 12.1 0a6.0 6.0 0 1 0 -12.1 0ZM576.1 765.1a6.0 6.0 0 1 0 12.1 0a6.0 6.0 0 1 0 -12.1 0ZM731.4 740.9a6.0 6.0 0 1 0 12.1 0a6.0 6.0 0 1 0 -12.1 0ZM500.0 712.8a6.0 6.0 0 1 0 12.1 0a6.0 6.0 0 1 0 -12.1 0ZM795.5 742.8a6.0 6.0 0 1 0 12.1 0a6.0 6.0 0 1 0 -12.1 0ZM582.5 721.9a6.0 6.0 0 1 0 12.1 0a6.0 6.0 0 1 0 -12.1 0ZM271.4 772.9a6.0 6.0 0 1 0 12.1 0a6.0 6.0 0 1 0 -12.1 0ZM197.8 725.1a6.0 6.0 0 1 0 12.1 0a6.0 6.0 0 1 0 -12.1 0ZM273.6 758.3a6.0 6.0 0 1 0 12.1 0a6.0 6.0 0 1 0 -12.1 0ZM247.1 786.9a6.0 6.0 0 1 0 12.1 0a6.0 6.0 0 1 0 -12.1 0ZM246.7 789.1a6.0 6.0 0 1 0 12.1 0a6.0 6.0 0 1 0 -12.1 0ZM642.0 765.8a6.0 6.0 0 1 0 12.1 0a6.0 6.0 0 1 0 -12.1 0ZM203.2 769.9a6.0 6.0 0 1 0 12.1 0a6.0 6.0 0 1 0 -12.1 0ZM803.3 782.2a6.0 6.0 0 1 0 12.1 0a6.0 6.0 0 1 0 -12.1 0ZM656.4 776.9a6.0 6.0 0 1 0 12.1 0a6.0 6.0 0 1 0 -12.1 0ZM490.7 750.9a6.0 6.0 0 1 0 12.1 0a6.0 6.0 0 1 0 -12.1 0ZM814.7 761.1a6.0 6.0 0 1 0 12.1 0a6.0 6.0 0 1 0 -12.1 0ZM656.4 756.5a6.0 6.0 0 1 0 12.1 0a6.0 6.0 0 1 0 -12.1 0ZM259.6 795.6a6.0 6.0 0 1 0 12.1 0a6.0 6.0 0 1 0 -12.1 0ZM565.3 789.9a6.0 6.0 0 1 0 12.1 0a6.0 6.0 0 1 0 -12.1 0ZM727.1 795.9a6.0 6.0 0 1 0 12.1 0a6.0 6.0 0 1 0 -12.1 0ZM408.5 776.2a6.0 6.0 0 1 0 12.1 0a6.0 6.0 0 1 0 -12.1 0ZM806.1 776.2a6.0 6.0 0 1 0 12.1 0a6.0 6.0 0 1 0 -12.1 0ZM478.9 748.6a6.0 6.0 0 1 0 12.1 0a6.0 6.0 0 1 0 -12.1 0ZM659.1 814.1a6.0 6.0 0 1 0 12.1 0a6.0 6.0 0 1 0 -12.1 0ZM350.7 733.5a6.0 6.0 0 1 0 12.1 0a6.0 6.0 0 1 0 -12.1 0ZM643.1 771.9a6.0 6.0 0 1 0 12.1 0a6.0 6.0 0 1 0 -12.1 0ZM410.9 808.0a6.0 6.0 0 1 0 12.1 0a6.0 6.0 0 1 0 -12.1 0ZM651.1 787.5a6.0 6.0 0 1 0 12.1 0a6.0 6.0 0 1 0 -12.1 0ZM196.0 605.7a6.0 6.0 0 1 0 12.1 0a6.0 6.0 0 1 0 -12.1 0ZM735.7 752.0a6.0 6.0 0 1 0 12.1 0a6.0 6.0 0 1 0 -12.1 0ZM409.6 798.3a6.0 6.0 0 1 0 12.1 0a6.0 6.0 0 1 0 -12.1 0ZM579.3 814.1a6.0 6.0 0 1 0 12.1 0a6.0 6.0 0 1 0 -12.1 0ZM429.5 792.9a6.0 6.0 0 1 0 12.1 0a6.0 6.0 0 1 0 -12.1 0ZM793.1 769.7a6.0 6.0 0 1 0 12.1 0a6.0 6.0 0 1 0 -12.1 0ZM487.4 744.1a6.0 6.0 0 1 0 12.1 0a6.0 6.0 0 1 0 -12.1 0ZM645.8 785.0a6.0 6.0 0 1 0 12.1 0a6.0 6.0 0 1 0 -12.1 0ZM423.1 827.4a6.0 6.0 0 1 0 12.1 0a6.0 6.0 0 1 0 -12.1 0ZM266.1 783.2a6.0 6.0 0 1 0 12.1 0a6.0 6.0 0 1 0 -12.1 0ZM808.2 778.5a6.0 6.0 0 1 0 12.1 0a6.0 6.0 0 1 0 -12.1 0ZM659.1 740.2a6.0 6.0 0 1 0 12.1 0a6.0 6.0 0 1 0 -12.1 0ZM809.3 725.0a6.0 6.0 0 1 0 12.1 0a6.0 6.0 0 1 0 -12.1 0ZM583.6 761.9a6.0 6.0 0 1 0 12.1 0a6.0 6.0 0 1 0 -12.1 0ZM491.7 760.1a6.0 6.0 0 1 0 12.1 0a6.0 6.0 0 1 0 -12.1 0ZM495.7 749.4a6.0 6.0 0 1 0 12.1 0a6.0 6.0 0 1 0 -12.1 0ZM809.3 771.9a6.0 6.0 0 1 0 12.1 0a6.0 6.0 0 1 0 -12.1 0ZM503.7 789.9a6.0 6.0 0 1 0 12.1 0a6.0 6.0 0 1 0 -12.1 0ZM412.1 802.3a6.0 6.0 0 1 0 12.1 0a6.0 6.0 0 1 0 -12.1 0ZM184.4 783.5a6.0 6.0 0 1 0 12.1 0a6.0 6.0 0 1 0 -12.1 0ZM492.5 731.0a6.0 6.0 0 1 0 12.1 0a6.0 6.0 0 1 0 -12.1 0ZM800.1 813.4a6.0 6.0 0 1 0 12.1 0a6.0 6.0 0 1 0 -12.1 0ZM576.7 742.1a6.0 6.0 0 1 0 12.1 0a6.0 6.0 0 1 0 -12.1 0ZM418.2 791.9a6.0 6.0 0 1 0 12.1 0a6.0 6.0 0 1 0 -12.1 0ZM495.7 709.6a6.0 6.0 0 1 0 12.1 0a6.0 6.0 0 1 0 -12.1 0ZM720.1 740.3a6.0 6.0 0 1 0 12.1 0a6.0 6.0 0 1 0 -12.1 0ZM502.7 727.9a6.0 6.0 0 1 0 12.1 0a6.0 6.0 0 1 0 -12.1 0ZM402.0 792.9a6.0 6.0 0 1 0 12.1 0a6.0 6.0 0 1 0 -12.1 0ZM504.9 705.0a6.0 6.0 0 1 0 12.1 0a6.0 6.0 0 1 0 -12.1 0ZM577.1 771.5a6.0 6.0 0 1 0 12.1 0a6.0 6.0 0 1 0 -12.1 0ZM813.6 781.1a6.0 6.0 0 1 0 12.1 0a6.0 6.0 0 1 0 -12.1 0ZM402.9 760.0a6.0 6.0 0 1 0 12.1 0a6.0 6.0 0 1 0 -12.1 0ZM202.6 752.6a6.0 6.0 0 1 0 12.1 0a6.0 6.0 0 1 0 -12.1 0ZM423.1 836.0a6.0 6.0 0 1 0 12.1 0a6.0 6.0 0 1 0 -12.1 0ZM656.4 756.2a6.0 6.0 0 1 0 12.1 0a6.0 6.0 0 1 0 -12.1 0ZM417.7 765.4a6.0 6.0 0 1 0 12.1 0a6.0 6.0 0 1 0 -12.1 0ZM640.3 774.8a6.0 6.0 0 1 0 12.1 0a6.0 6.0 0 1 0 -12.1 0ZM272.8 772.5a6.0 6.0 0 1 0 12.1 0a6.0 6.0 0 1 0 -12.1 0ZM500.0 753.7a6.0 6.0 0 1 0 12.1 0a6.0 6.0 0 1 0 -12.1 0ZM246.7 813.9a6.0 6.0 0 1 0 12.1 0a6.0 6.0 0 1 0 -12.1 0ZM569.6 731.1a6.0 6.0 0 1 0 12.1 0a6.0 6.0 0 1 0 -12.1 0ZM654.9 754.0a6.0 6.0 0 1 0 12.1 0a6.0 6.0 0 1 0 -12.1 0ZM184.4 777.4a6.0 6.0 0 1 0 12.1 0a6.0 6.0 0 1 0 -12.1 0ZM408.9 777.0a6.0 6.0 0 1 0 12.1 0a6.0 6.0 0 1 0 -12.1 0ZM410.1 731.5a6.0 6.0 0 1 0 12.1 0a6.0 6.0 0 1 0 -12.1 0ZM654.3 766.2a6.0 6.0 0 1 0 12.1 0a6.0 6.0 0 1 0 -12.1 0ZM197.6 742.9a6.0 6.0 0 1 0 12.1 0a6.0 6.0 0 1 0 -12.1 0ZM419.3 798.9a6.0 6.0 0 1 0 12.1 0a6.0 6.0 0 1 0 -12.1 0ZM195.7 734.8a6.0 6.0 0 1 0 12.1 0a6.0 6.0 0 1 0 -12.1 0ZM261.8 771.1a6.0 6.0 0 1 0 12.1 0a6.0 6.0 0 1 0 -12.1 0ZM420.4 761.1a6.0 6.0 0 1 0 12.1 0a6.0 6.0 0 1 0 -12.1 0ZM734.7 747.8a6.0 6.0 0 1 0 12.1 0a6.0 6.0 0 1 0 -12.1 0ZM507.0 752.7a6.0 6.0 0 1 0 12.1 0a6.0 6.0 0 1 0 -12.1 0ZM577.1 760.2a6.0 6.0 0 1 0 12.1 0a6.0 6.0 0 1 0 -12.1 0ZM344.3 691.5a6.0 6.0 0 1 0 12.1 0a6.0 6.0 0 1 0 -12.1 0ZM350.7 801.8a6.0 6.0 0 1 0 12.1 0a6.0 6.0 0 1 0 -12.1 0ZM259.6 792.3a6.0 6.0 0 1 0 12.1 0a6.0 6.0 0 1 0 -12.1 0ZM589.0 746.2a6.0 6.0 0 1 0 12.1 0a6.0 6.0 0 1 0 -12.1 0ZM799.6 791.9a6.0 6.0 0 1 0 12.1 0a6.0 6.0 0 1 0 -12.1 0ZM813.6 778.3a6.0 6.0 0 1 0 12.1 0a6.0 6.0 0 1 0 -12.1 0ZM812.5 764.3a6.0 6.0 0 1 0 12.1 0a6.0 6.0 0 1 0 -12.1 0ZM811.4 795.1a6.0 6.0 0 1 0 12.1 0a6.0 6.0 0 1 0 -12.1 0ZM339.4 731.3a6.0 6.0 0 1 0 12.1 0a6.0 6.0 0 1 0 -12.1 0ZM333.0 740.5a6.0 6.0 0 1 0 12.1 0a6.0 6.0 0 1 0 -12.1 0ZM814.7 770.8a6.0 6.0 0 1 0 12.1 0a6.0 6.0 0 1 0 -12.1 0ZM660.2 770.5a6.0 6.0 0 1 0 12.1 0a6.0 6.0 0 1 0 -12.1 0ZM580.5 753.5a6.0 6.0 0 1 0 12.1 0a6.0 6.0 0 1 0 -12.1 0ZM647.1 712.9a6.0 6.0 0 1 0 12.1 0a6.0 6.0 0 1 0 -12.1 0ZM488.1 743.0a6.0 6.0 0 1 0 12.1 0a6.0 6.0 0 1 0 -12.1 0Z" fill="#2e8b57" stroke="#2e8b57" stroke-width="0.6"/>
<path d="M259.8 790.3a6.0 6.0 0 1 0 12.1 0a6.0 6.0 0 1 0 -12.1 0ZM720.1 771.6a6.0 6.0 0 1 0 12.1 0a6.0 6.0 0 1 0 -12.1 0ZM409.6 787.7a6.0 6.0 0 1 0 12.1 0a6.0 6.0 0 1 0 -12.1 0ZM333.0 764.8a6.0 6.0 0 1 0 12.1 0a6.0 6.0 0 1 0 -12.1 0ZM502.1 776.4a6.0 6.0 0 1 0 12.1 0a6.0 6.0 0 1 0 -12.1 0ZM204.3 792.5a6.0 6.0 0 1 0 12.1 0a6.0 6.0 0 1 0 -12.1 0ZM640.3 755.7a6.0 6.0 0 1 0 12.1 0a6.0 6.0 0 1 0 -12.1 0ZM407.4 790.8a6.0 6.0 0 1 0 12.1 0a6.0 6.0 0 1 0 -12.1 0ZM645.7 773.7a6.0 6.0 0 1 0 12.1 0a6.0 6.0 0 1 0 -12.1 0ZM477.3 745.1a6.0 6.0 0 1 0 12.1 0a6.0 6.0 0 1 0 -12.1 0ZM658.2 768.1a6.0 6.0 0 1 0 12.1 0a6.0 6.0 0 1 0 -12.1 0ZM727.1 829.3a6.0 6.0 0 1 0 12.1 0a6.0 6.0 0 1 0 -12.1 0ZM419.3 803.7a6.0 6.0 0 1 0 12.1 0a6.0 6.0 0 1 0 -12.1 0ZM344.3 752.9a6.0 6.0 0 1 0 12.1 0a6.0 6.0 0 1 0 -12.1 0ZM478.4 751.6a6.0 6.0 0 1 0 12.1 0a6.0 6.0 0 1 0 -12.1 0ZM650.0 753.0a6.0 6.0 0 1 0 12.1 0a6.0 6.0 0 1 0 -12.1 0ZM429.0 775.1a6.0 6.0 0 1 0 12.1 0a6.0 6.0 0 1 0 -12.1 0ZM645.7 754.3a6.0 6.0 0 1 0 12.1 0a6.0 6.0 0 1 0 -12.1 0ZM579.3 795.8a6.0 6.0 0 1 0 12.1 0a6.0 6.0 0 1 0 -12.1 0ZM417.1 776.2a6.0 6.0 0 1 0 12.1 0a6.0 6.0 0 1 0 -12.1 0ZM202.7 793.6a6.0 6.0 0 1 0 12.1 0a6.0 6.0 0 1 0 -12.1 0ZM253.7 814.4a6.0 6.0 0 1 0 12.1 0a6.0 6.0 0 1 0 -12.1 0ZM502.1 760.8a6.0 6.0 0 1 0 12.1 0a6.0 6.0 0 1 0 -12.1 0ZM404.2 806.4a6.0 6.0 0 1 0 12.1 0a6.0 6.0 0 1 0 -12.1 0ZM733.6 760.3a6.0 6.0 0 1 0 12.1 0a6.0 6.0 0 1 0 -12.1 0ZM478.4 738.6a6.0 6.0 0 1 0 12.1 0a6.0 6.0 0 1 0 -12.1 0ZM652.1 793.1a6.0 6.0 0 1 0 12.1 0a6.0 6.0 0 1 0 -12.1 0ZM190.3 737.5a6.0 6.0 0 1 0 12.1 0a6.0 6.0 0 1 0 -12.1 0ZM194.6 723.5a6.0 6.0 0 1 0 12.1 0a6.0 6.0 0 1 0 -12.1 0ZM429.0 780.5a6.0 6.0 0 1 0 12.1 0a6.0 6.0 0 1 0 -12.1 0ZM348.1 783.7a6.0 6.0 0 1 0 12.1 0a6.0 6.0 0 1 0 -12.1 0ZM421.1 802.0a6.0 6.0 0 1 0 12.1 0a6.0 6.0 0 1 0 -12.1 0ZM417.7 742.8a6.0 6.0 0 1 0 12.1 0a6.0 6.0 0 1 0 -12.1 0ZM350.7 731.9a6.0 6.0 0 1 0 12.1 0a6.0 6.0 0 1 0 -12.1 0ZM815.0 782.9a6.0 6.0 0 1 0 12.1 0a6.0 6.0 0 1 0 -12.1 0ZM415.0 783.7a6.0 6.0 0 1 0 12.1 0a6.0 6.0 0 1 0 -12.1 0ZM798.5 752.5a6.0 6.0 0 1 0 12.1 0a6.0 6.0 0 1 0 -12.1 0ZM500.0 729.0a6.0 6.0 0 1 0 12.1 0a6.0 6.0 0 1 0 -12.1 0ZM649.5 785.9a6.0 6.0 0 1 0 12.1 0a6.0 6.0 0 1 0 -12.1 0ZM730.9 799.1a6.0 6.0 0 1 0 12.1 0a6.0 6.0 0 1 0 -12.1 0ZM423.6 769.7a6.0 6.0 0 1 0 12.1 0a6.0 6.0 0 1 0 -12.1 0ZM420.0 761.7a6.0 6.0 0 1 0 12.1 0a6.0 6.0 0 1 0 -12.1 0ZM197.5 753.7a6.0 6.0 0 1 0 12.1 0a6.0 6.0 0 1 0 -12.1 0ZM564.2 761.9a6.0 6.0 0 1 0 12.1 0a6.0 6.0 0 1 0 -12.1 0ZM649.7 769.9a6.0 6.0 0 1 0 12.1 0a6.0 6.0 0 1 0 -12.1 0ZM794.2 780.5a6.0 6.0 0 1 0 12.1 0a6.0 6.0 0 1 0 -12.1 0ZM656.0 773.8a6.0 6.0 0 1 0 12.1 0a6.0 6.0 0 1 0 -12.1 0ZM422.0 756.3a6.0 6.0 0 1 0 12.1 0a6.0 6.0 0 1 0 -12.1 0ZM644.6 765.1a6.0 6.0 0 1 0 12.1 0a6.0 6.0 0 1 0 -12.1 0ZM420.7 791.5a6.0 6.0 0 1 0 12.1 0a6.0 6.0 0 1 0 -12.1 0ZM357.8 786.4a6.0 6.0 0 1 0 12.1 0a6.0 6.0 0 1 0 -12.1 0ZM559.0 700.4a6.0 6.0 0 1 0 12.1 0a6.0 6.0 0 1 0 -12.1 0ZM655.5 780.0a6.0 6.0 0 1 0 12.1 0a6.0 6.0 0 1 0 -12.1 0ZM424.7 784.8a6.0 6.0 0 1 0 12.1 0a6.0 6.0 0 1 0 -12.1 0ZM720.7 779.2a6.0 6.0 0 1 0 12.1 0a6.0 6.0 0 1 0 -12.1 0ZM502.7 707.4a6.0 6.0 0 1 0 12.1 0a6.0 6.0 0 1 0 -12.1 0ZM491.4 746.0a6.0 6.0 0 1 0 12.1 0a6.0 6.0 0 1 0 -12.1 0ZM333.0 724.9a6.0 6.0 0 1 0 12.1 0a6.0 6.0 0 1 0 -12.1 0ZM807.1 785.4a6.0 6.0 0 1 0 12.1 0a6.0 6.0 0 1 0 -12.1 0ZM726.1 777.0a6.0 6.0 0 1 0 12.1 0a6.0 6.0 0 1 0 -12.1 0ZM640.3 767.2a6.0 6.0 0 1 0 12.1 0a6.0 6.0 0 1 0 -12.1 0ZM339.4 768.1a6.0 6.0 0 1 0 12.1 0a6.0 6.0 0 1 0 -12.1 0ZM419.1 789.9a6.0 6.0 0 1 0 12.1 0a6.0 6.0 0 1 0 -12.1 0ZM268.8 764.3a6.0 6.0 0 1 0 12.1 0a6.0 6.0 0 1 0 -12.1 0ZM419.3 787.0a6.0 6.0 0 1 0 12.1 0a6.0 6.0 0 1 0 -12.1 0ZM642.1 789.1a6.0 6.0 0 1 0 12.1 0a6.0 6.0 0 1 0 -12.1 0ZM559.0 706.3a6.0 6.0 0 1 0 12.1 0a6.0 6.0 0 1 0 -12.1 0ZM803.9 765.4a6.0 6.0 0 1 0 12.1 0a6.0 6.0 0 1 0 -12.1 0ZM194.6 764.5a6.0 6.0 0 1 0 12.1 0a6.0 6.0 0 1 0 -12.1 0ZM423.6 790.8a6.0 6.0 0 1 0 12.1 0a6.0 6.0 0 1 0 -12.1 0ZM559.0 719.3a6.0 6.0 0 1 0 12.1 0a6.0 6.0 0 1 0 -12.1 0ZM731.4 752.2a6.0 6.0 0 1 0 12.1 0a6.0 6.0 0 1 0 -12.1 0ZM645.7 754.0a6.0 6.0 0 1 0 12.1 0a6.0 6.0 0 1 0 -12.1 0ZM409.6 749.8a6.0 6.0 0 1 0 12.1 0a6.0 6.0 0 1 0 -12.1 0ZM205.4 799.0a6.0 6.0 0 1 0 12.1 0a6.0 6.0 0 1 0 -12.1 0ZM814.1 727.7a6.0 6.0 0 1 0 12.1 0a6.0 6.0 0 1 0 -12.1 0ZM252.0 770.8a6.0 6.0 0 1 0 12.1 0a6.0 6.0 0 1 0 -12.1 0ZM650.0 785.6a6.0 6.0 0 1 0 12.1 0a6.0 6.0 0 1 0 -12.1 0ZM589.0 759.1a6.0 6.0 0 1 0 12.1 0a6.0 6.0 0 1 0 -12.1 0ZM577.5 758.5a6.0 6.0 0 1 0 12.1 0a6.0 6.0 0 1 0 -12.1 0ZM256.4 749.7a6.0 6.0 0 1 0 12.1 0a6.0 6.0 0 1 0 -12.1 0ZM794.2 757.9a6.0 6.0 0 1 0 12.1 0a6.0 6.0 0 1 0 -12.1 0ZM193.0 728.3a6.0 6.0 0 1 0 12.1 0a6.0 6.0 0 1 0 -12.1 0ZM195.0 744.2a6.0 6.0 0 1 0 12.1 0a6.0 6.0 0 1 0 -12.1 0ZM419.8 786.8a6.0 6.0 0 1 0 12.1 0a6.0 6.0 0 1 0 -12.1 0ZM423.6 746.0a6.0 6.0 0 1 0 12.1 0a6.0 6.0 0 1 0 -12.1 0ZM516.7 804.9a6.0 6.0 0 1 0 12.1 0a6.0 6.0 0 1 0 -12.1 0ZM277.4 783.2a6.0 6.0 0 1 0 12.1 0a6.0 6.0 0 1 0 -12.1 0ZM723.9 786.2a6.0 6.0 0 1 0 12.1 0a6.0 6.0 0 1 0 -12.1 0ZM421.4 779.4a6.0 6.0 0 1 0 12.1 0a6.0 6.0 0 1 0 -12.1 0ZM321.1 737.8a6.0 6.0 0 1 0 12.1 0a6.0 6.0 0 1 0 -12.1 0ZM339.4 729.7a6.0 6.0 0 1 0 12.1 0a6.0 6.0 0 1 0 -12.1 0ZM802.8 781.1a6.0 6.0 0 1 0 12.1 0a6.0 6.0 0 1 0 -12.1 0ZM252.2 769.1a6.0 6.0 0 1 0 12.1 0a6.0 6.0 0 1 0 -12.1 0ZM205.4 682.2a6.0 6.0 0 1 0 12.1 0a6.0 6.0 0 1 0 -12.1 0ZM571.7 712.8a6.0 6.0 0 1 0 12.1 0a6.0 6.0 0 1 0 -12.1 0ZM412.8 774.0a6.0 6.0 0 1 0 12.1 0a6.0 6.0 0 1 0 -12.1 0ZM643.5 793.0a6.0 6.0 0 1 0 12.1 0a6.0 6.0 0 1 0 -12.1 0ZM815.2 798.3a6.0 6.0 0 1 0 12.1 0a6.0 6.0 0 1 0 -12.1 0ZM258.5 804.7a6.0 6.0 0 1 0 12.1 0a6.0 6.0 0 1 0 -12.1 0ZM580.4 754.8a6.0 6.0 0 1 0 12.1 0a6.0 6.0 0 1 0 -12.1 0ZM348.6 715.7a6.0 6.0 0 1 0 12.1 0a6.0 6.0 0 1 0 -12.1 0ZM733.9 785.0a6.0 6.0 0 1 0 12.1 0a6.0 6.0 0 1 0 -12.1 0ZM497.1 707.0a6.0 6.0 0 1 0 12.1 0a6.0 6.0 0 1 0 -12.1 0ZM321.1 752.9a6.0 6.0 0 1 0 12.1 0a6.0 6.0 0 1 0 -12.1 0ZM321.1 731.9a6.0 6.0 0 1 0 12.1 0a6.0 6.0 0 1 0 -12.1 0ZM651.1 755.4a6.0 6.0 0 1 0 12.1 0a6.0 6.0 0 1 0 -12.1 0ZM731.4 785.1a6.0 6.0 0 1 0 12.1 0a6.0 6.0 0 1 0 -12.1 0ZM402.9 796.8a6.0 6.0 0 1 0 12.1 0a6.0 6.0 0 1 0 -12.1 0ZM808.0 823.1a6.0 6.0 0 1 0 12.1 0a6.0 6.0 0 1 0 -12.1 0ZM504.3 731.8a6.0 6.0 0 1 0 12.1 0a6.0 6.0 0 1 0 -12.1 0ZM203.2 766.6a6.0 6.0 0 1 0 12.1 0a6.0 6.0 0 1 0 -12.1 0ZM805.5 786.2a6.0 6.0 0 1 0 12.1 0a6.0 6.0 0 1 0 -12.1 0ZM253.7 829.5a6.0 6.0 0 1 0 12.1 0a6.0 6.0 0 1 0 -12.1 0ZM184.4 762.0a6.0 6.0 0 1 0 12.1 0a6.0 6.0 0 1 0 -12.1 0ZM409.6 784.8a6.0 6.0 0 1 0 12.1 0a6.0 6.0 0 1 0 -12.1 0ZM252.0 749.7a6.0 6.0 0 1 0 12.1 0a6.0 6.0 0 1 0 -12.1 0ZM806.7 780.4a6.0 6.0 0 1 0 12.1 0a6.0 6.0 0 1 0 -12.1 0ZM202.7 755.9a6.0 6.0 0 1 0 12.1 0a6.0 6.0 0 1 0 -12.1 0ZM653.4 771.7a6.0 6.0 0 1 0 12.1 0a6.0 6.0 0 1 0 -12.1 0ZM805.0 794.0a6.0 6.0 0 1 0 12.1 0a6.0 6.0 0 1 0 -12.1 0ZM579.3 732.2a6.0 6.0 0 1 0 12.1 0a6.0 6.0 0 1 0 -12.1 0ZM491.9 727.0a6.0 6.0 0 1 0 12.1 0a6.0 6.0 0 1 0 -12.1 0ZM407.4 767.6a6.0 6.0 0 1 0 12.1 0a6.0 6.0 0 1 0 -12.1 0ZM652.2 781.4a6.0 6.0 0 1 0 12.1 0a6.0 6.0 0 1 0 -12.1 0ZM275.6 761.5a6.0 6.0 0 1 0 12.1 0a6.0 6.0 0 1 0 -12.1 0ZM483.8 725.2a6.0 6.0 0 1 0 12.1 0a6.0 6.0 0 1 0 -12.1 0ZM800.7 749.3a6.0 6.0 0 1 0 12.1 0a6.0 6.0 0 1 0 -12.1 0ZM481.7 766.2a6.0 6.0 0 1 0 12.1 0a6.0 6.0 0 1 0 -12.1 0ZM420.9 740.6a6.0 6.0 0 1 0 12.1 0a6.0 6.0 0 1 0 -12.1 0ZM720.7 777.0a6.0 6.0 0 1 0 12.1 0a6.0 6.0 0 1 0 -12.1 0ZM278.3 760.2a6.0 6.0 0 1 0 12.1 0a6.0 6.0 0 1 0 -12.1 0ZM429.0 808.2a6.0 6.0 0 1 0 12.1 0a6.0 6.0 0 1 0 -12.1 0ZM736.8 781.9a6.0 6.0 0 1 0 12.1 0a6.0 6.0 0 1 0 -12.1 0ZM203.7 760.2a6.0 6.0 0 1 0 12.1 0a6.0 6.0 0 1 0 -12.1 0ZM423.1 751.4a6.0 6.0 0 1 0 12.1 0a6.0 6.0 0 1 0 -12.1 0ZM577.1 741.9a6.0 6.0 0 1 0 12.1 0a6.0 6.0 0 1 0 -12.1 0ZM202.3 750.3a6.0 6.0 0 1 0 12.1 0a6.0 6.0 0 1 0 -12.1 0ZM277.9 756.7a6.0 6.0 0 1 0 12.1 0a6.0 6.0 0 1 0 -12.1 0ZM415.0 796.2a6.0 6.0 0 1 0 12.1 0a6.0 6.0 0 1 0 -12.1 0ZM714.2 795.9a6.0 6.0 0 1 0 12.1 0a6.0 6.0 0 1 0 -12.1 0ZM496.1 754.8a6.0 6.0 0 1 0 12.1 0a6.0 6.0 0 1 0 -12.1 0ZM570.7 735.4a6.0 6.0 0 1 0 12.1 0a6.0 6.0 0 1 0 -12.1 0ZM589.0 749.4a6.0 6.0 0 1 0 12.1 0a6.0 6.0 0 1 0 -12.1 0ZM714.2 749.5a6.0 6.0 0 1 0 12.1 0a6.0 6.0 0 1 0 -12.1 0ZM569.4 764.0a6.0 6.0 0 1 0 12.1 0a6.0 6.0 0 1 0 -12.1 0ZM413.5 782.4a6.0 6.0 0 1 0 12.1 0a6.0 6.0 0 1 0 -12.1 0ZM419.0 783.3a6.0 6.0 0 1 0 12.1 0a6.0 6.0 0 1 0 -12.1 0ZM479.7 759.0a6.0 6.0 0 1 0 12.1 0a6.0 6.0 0 1 0 -12.1 0ZM639.2 793.1a6.0 6.0 0 1 0 12.1 0a6.0 6.0 0 1 0 -12.1 0ZM805.8 838.7a6.0 6.0 0 1 0 12.1 0a6.0 6.0 0 1 0 -12.1 0ZM558.8 750.0a6.0 6.0 0 1 0 12.1 0a6.0 6.0 0 1 0 -12.1 0ZM564.2 765.1a6.0 6.0 0 1 0 12.1 0a6.0 6.0 0 1 0 -12.1 0ZM348.6 688.2a6.0 6.0 0 1 0 12.1 0a6.0 6.0 0 1 0 -12.1 0ZM490.3 754.8a6.0 6.0 0 1 0 12.1 0a6.0 6.0 0 1 0 -12.1 0ZM565.3 755.9a6.0 6.0 0 1 0 12.1 0a6.0 6.0 0 1 0 -12.1 0ZM267.3 784.2a6.0 6.0 0 1 0 12.1 0a6.0 6.0 0 1 0 -12.1 0ZM423.1 831.7a6.0 6.0 0 1 0 12.1 0a6.0 6.0 0 1 0 -12.1 0ZM194.6 753.7a6.0 6.0 0 1 0 12.1 0a6.0 6.0 0 1 0 -12.1 0ZM737.9 777.0a6.0 6.0 0 1 0 12.1 0a6.0 6.0 0 1 0 -12.1 0ZM640.3 755.9a6.0 6.0 0 1 0 12.1 0a6.0 6.0 0 1 0 -12.1 0ZM483.8 710.1a6.0 6.0 0 1 0 12.1 0a6.0 6.0 0 1 0 -12.1 0ZM801.6 773.5a6.0 6.0 0 1 0 12.1 0a6.0 6.0 0 1 0 -12.1 0ZM276.5 719.0a6.0 6.0 0 1 0 12.1 0a6.0 6.0 0 1 0 -12.1 0ZM201.1 737.0a6.0 6.0 0 1 0 12.1 0a6.0 6.0 0 1 0 -12.1 0ZM357.8 770.8a6.0 6.0 0 1 0 12.1 0a6.0 6.0 0 1 0 -12.1 0ZM266.6 816.6a6.0 6.0 0 1 0 12.1 0a6.0 6.0 0 1 0 -12.1 0ZM350.7 743.2a6.0 6.0 0 1 0 12.1 0a6.0 6.0 0 1 0 -12.1 0ZM412.7 769.6a6.0 6.0 0 1 0 12.1 0a6.0 6.0 0 1 0 -12.1 0ZM421.8 787.7a6.0 6.0 0 1 0 12.1 0a6.0 6.0 0 1 0 -12.1 0ZM270.9 749.1a6.0 6.0 0 1 0 12.1 0a6.0 6.0 0 1 0 -12.1 0ZM496.7 733.3a6.0 6.0 0 1 0 12.1 0a6.0 6.0 0 1 0 -12.1 0ZM420.8 774.4a6.0 6.0 0 1 0 12.1 0a6.0 6.0 0 1 0 -12.1 0ZM646.9 768.4a6.0 6.0 0 1 0 12.1 0a6.0 6.0 0 1 0 -12.1 0ZM647.3 801.7a6.0 6.0 0 1 0 12.1 0a6.0 6.0 0 1 0 -12.1 0ZM570.7 760.8a6.0 6.0 0 1 0 12.1 0a6.0 6.0 0 1 0 -12.1 0ZM727.7 752.7a6.0 6.0 0 1 0 12.1 0a6.0 6.0 0 1 0 -12.1 0ZM719.6 728.5a6.0 6.0 0 1 0 12.1 0a6.0 6.0 0 1 0 -12.1 0ZM516.7 771.0a6.0 6.0 0 1 0 12.1 0a6.0 6.0 0 1 0 -12.1 0ZM259.6 749.7a6.0 6.0 0 1 0 12.1 0a6.0 6.0 0 1 0 -12.1 0ZM575.0 746.2a6.0 6.0 0 1 0 12.1 0a6.0 6.0 0 1 0 -12.1 0ZM796.4 759.0a6.0 6.0 0 1 0 12.1 0a6.0 6.0 0 1 0 -12.1 0ZM265.0 764.3a6.0 6.0 0 1 0 12.1 0a6.0 6.0 0 1 0 -12.1 0ZM799.6 786.5a6.0 6.0 0 1 0 12.1 0a6.0 6.0 0 1 0 -12.1 0ZM642.4 786.6a6.0 6.0 0 1 0 12.1 0a6.0 6.0 0 1 0 -12.1 0ZM192.4 672.9a6.0 6.0 0 1 0 12.1 0a6.0 6.0 0 1 0 -12.1 0ZM582.5 731.1a6.0 6.0 0 1 0 12.1 0a6.0 6.0 0 1 0 -12.1 0ZM809.5 786.1a6.0 6.0 0 1 0 12.1 0a6.0 6.0 0 1 0 -12.1 0ZM498.9 705.6a6.0 6.0 0 1 0 12.1 0a6.0 6.0 0 1 0 -12.1 0ZM205.4 709.8a6.0 6.0 0 1 0 12.1 0a6.0 6.0 0 1 0 -12.1 0ZM487.0 750.5a6.0 6.0 0 1 0 12.1 0a6.0 6.0 0 1 0 -12.1 0ZM732.5 795.3a6.0 6.0 0 1 0 12.1 0a6.0 6.0 0 1 0 -12.1 0ZM809.3 787.0a6.0 6.0 0 1 0 12.1 0a6.0 6.0 0 1 0 -12.1 0ZM504.3 759.1a6.0 6.0 0 1 0 12.1 0a6.0 6.0 0 1 0 -12.1 0ZM737.9 779.2a6.0 6.0 0 1 0 12.1 0a6.0 6.0 0 1 0 -12.1 0ZM714.2 765.1a6.0 6.0 0 1 0 12.1 0a6.0 6.0 0 1 0 -12.1 0ZM792.0 782.2a6.0 6.0 0 1 0 12.1 0a6.0 6.0 0 1 0 -12.1 0ZM411.2 772.9a6.0 6.0 0 1 0 12.1 0a6.0 6.0 0 1 0 -12.1 0ZM569.6 716.0a6.0 6.0 0 1 0 12.1 0a6.0 6.0 0 1 0 -12.1 0ZM587.9 774.2a6.0 6.0 0 1 0 12.1 0a6.0 6.0 0 1 0 -12.1 0ZM501.1 708.5a6.0 6.0 0 1 0 12.1 0a6.0 6.0 0 1 0 -12.1 0ZM402.0 783.7a6.0 6.0 0 1 0 12.1 0a6.0 6.0 0 1 0 -12.1 0ZM651.1 774.8a6.0 6.0 0 1 0 12.1 0a6.0 6.0 0 1 0 -12.1 0ZM196.7 749.4a6.0 6.0 0 1 0 12.1 0a6.0 6.0 0 1 0 -12.1 0ZM795.5 737.4a6.0 6.0 0 1 0 12.1 0a6.0 6.0 0 1 0 -12.1 0ZM401.0 808.0a6.0 6.0 0 1 0 12.1 0a6.0 6.0 0 1 0 -12.1 0ZM489.2 767.2a6.0 6.0 0 1 0 12.1 0a6.0 6.0 0 1 0 -12.1 0ZM339.4 752.9a6.0 6.0 0 1 0 12.1 0a6.0 6.0 0 1 0 -12.1 0ZM405.3 765.4a6.0 6.0 0 1 0 12.1 0a6.0 6.0 0 1 0 -12.1 0ZM579.3 721.9a6.0 6.0 0 1 0 12.1 0a6.0 6.0 0 1 0 -12.1 0ZM655.4 789.9a6.0 6.0 0 1 0 12.1 0a6.0 6.0 0 1 0 -12.1 0ZM488.2 763.3a6.0 6.0 0 1 0 12.1 0a6.0 6.0 0 1 0 -12.1 0ZM479.5 757.0a6.0 6.0 0 1 0 12.1 0a6.0 6.0 0 1 0 -12.1 0ZM344.5 841.6a6.0 6.0 0 1 0 12.1 0a6.0 6.0 0 1 0 -12.1 0ZM714.2 780.2a6.0 6.0 0 1 0 12.1 0a6.0 6.0 0 1 0 -12.1 0ZM357.8 749.1a6.0 6.0 0 1 0 12.1 0a6.0 6.0 0 1 0 -12.1 0ZM582.9 759.4a6.0 6.0 0 1 0 12.1 0a6.0 6.0 0 1 0 -12.1 0ZM321.1 728.1a6.0 6.0 0 1 0 12.1 0a6.0 6.0 0 1 0 -12.1 0ZM721.3 781.1a6.0 6.0 0 1 0 12.1 0a6.0 6.0 0 1 0 -12.1 0ZM266.6 826.3a6.0 6.0 0 1 0 12.1 0a6.0 6.0 0 1 0 -12.1 0ZM423.1 823.1a6.0 6.0 0 1 0 12.1 0a6.0 6.0 0 1 0 -12.1 0ZM257.4 772.9a6.0 6.0 0 1 0 12.1 0a6.0 6.0 0 1 0 -12.1 0ZM660.7 783.4a6.0 6.0 0 1 0 12.1 0a6.0 6.0 0 1 0 -12.1 0ZM507.0 743.5a6.0 6.0 0 1 0 12.1 0a6.0 6.0 0 1 0 -12.1 0ZM266.6 740.3a6.0 6.0 0 1 0 12.1 0a6.0 6.0 0 1 0 -12.1 0ZM569.6 767.2a6.0 6.0 0 1 0 12.1 0a6.0 6.0 0 1 0 -12.1 0ZM802.3 805.9a6.0 6.0 0 1 0 12.1 0a6.0 6.0 0 1 0 -12.1 0ZM727.7 733.9a6.0 6.0 0 1 0 12.1 0a6.0 6.0 0 1 0 -12.1 0ZM196.2 694.4a6.0 6.0 0 1 0 12.1 0a6.0 6.0 0 1 0 -12.1 0ZM191.4 725.1a6.0 6.0 0 1 0 12.1 0a6.0 6.0 0 1 0 -12.1 0ZM246.7 774.0a6.0 6.0 0 1 0 12.1 0a6.0 6.0 0 1 0 -12.1 0ZM813.1 746.6a6.0 6.0 0 1 0 12.1 0a6.0 6.0 0 1 0 -12.1 0ZM500.0 775.9a6.0 6.0 0 1 0 12.1 0a6.0 6.0 0 1 0 -12.1 0ZM246.7 783.2a6.0 6.0 0 1 0 12.1 0a6.0 6.0 0 1 0 -12.1 0ZM402.6 777.3a6.0 6.0 0 1 0 12.1 0a6.0 6.0 0 1 0 -12.1 0ZM488.6 739.7a6.0 6.0 0 1 0 12.1 0a6.0 6.0 0 1 0 -12.1 0ZM495.7 725.7a6.0 6.0 0 1 0 12.1 0a6.0 6.0 0 1 0 -12.1 0ZM576.2 757.1a6.0 6.0 0 1 0 12.1 0a6.0 6.0 0 1 0 -12.1 0ZM732.5 763.0a6.0 6.0 0 1 0 12.1 0a6.0 6.0 0 1 0 -12.1 0ZM567.4 738.6a6.0 6.0 0 1 0 12.1 0a6.0 6.0 0 1 0 -12.1 0ZM276.8 762.2a6.0 6.0 0 1 0 12.1 0a6.0 6.0 0 1 0 -12.1 0ZM576.1 765.1a6.0 6.0 0 1 0 12.1 0a6.0 6.0 0 1 0 -12.1 0ZM731.4 740.9a6.0 6.0 0 1 0 12.1 0a6.0 6.0 0 1 0 -12.1 0ZM500.0 712.8a6.0 6.0 0 1 0 12.1 0a6.0 6.0 0 1 0 -12.1 0ZM795.5 742.8a6.0 6.0 0 1 0 12.1 0a6.0 6.0 0 1 0 -12.1 0ZM582.5 721.9a6.0 6.0 0 1 0 12.1 0a6.0 6.0 0 1 0 -12.1 0ZM271.4 772.9a6.0 6.0 0 1 0 12.1 0a6.0 6.0 0 1 0 -12.1 0ZM197.8 725.1a6.0 6.0 0 1 0 12.1 0a6.0 6.0 0 1 0 -12.1 0ZM273.6 758.3a6.0 6.0 0 1 0 12.1 0a6.0 6.0 0 1 0 -12.1 0ZM247.1 786.9a6.0 6.0 0 1 0 12.1 0a6.0 6.0 0 1 0 -12.1 0ZM246.7 789.1a6.0 6.0 0 1 0 12.1 0a6.0 6.0 0 1 0 -12.1 0ZM642.0 765.8a6.0 6.0 0 1 0 12.1 0a6.0 6.0 0 1 0 -12.1 0ZM203.2 769.9a6.0 6.0 0 1 0 12.1 0a6.0 6.0 0 1 0 -12.1 0ZM803.3 782.2a6.0 6.0 0 1 0 12.1 0a6.0 6.0 0 1 0 -12.1 0ZM656.4 776.9a6.0 6.0 0 1 0 12.1 0a6.0 6.0 0 1 0 -12.1 0ZM490.7 750.9a6.0 6.0 0 1 0 12.1 0a6.0 6.0 0 1 0 -12.1 0ZM814.7 761.1a6.0 6.0 0 1 0 12.1 0a6.0 6.0 0 1 0 -12.1 0ZM656.4 756.5a6.0 6.0 0 1 0 12.1 0a6.0 6.0 0 1 0 -12.1 0ZM259.6 795.6a6.0 6.0 0 1 0 12.1 0a6.0 6.0 0 1 0 -12.1 0ZM565.3 789.9a6.0 6.0 0 1 0 12.1 0a6.0 6.0 0 1 0 -12.1 0ZM727.1 795.9a6.0 6.0 0 1 0 12.1 0a6.0 6.0 0 1 0 -12.1 0ZM408.5 776.2a6.0 6.0 0 1 0 12.1 0a6.0 6.0 0 1 0 -12.1 0ZM806.1 776.2a6.0 6.0 0 1 0 12.1 0a6.0 6.0 0 1 0 -12.1 0ZM478.9 748.6a6.0 6.0 0 1 0 12.1 0a6.0 6.0 0 1 0 -12.1 0ZM659.1 814.1a6.0 6.0 0 1 0 12.1 0a6.0 6.0 0 1 0 -12.1 0ZM350.7 733.5a6.0 6.0 0 1 0 12.1 0a6.0 6.0 0 1 0 -12.1 0ZM643.1 771.9a6.0 6.0 0 1 0 12.1 0a6.0 6.0 0 1 0 -12.1 0ZM410.9 808.0a6.0 6.0 0 1 0 12.1 0a6.0 6.0 0 1 0 -12.1 0ZM651.1 787.5a6.0 6.0 0 1 0 12.1 0a6.0 6.0 0 1 0 -12.1 0ZM196.0 605.7a6.0 6.0 0 1 0 12.1 0a6.0 6.0 0 1 0 -12.1 0ZM735.7 752.0a6.0 6.0 0 1 0 12.1 0a6.0 6.0 0 1 0 -12.1 0ZM409.6 798.3a6.0 6.0 0 1 0 12.1 0a6.0 6.0 0 1 0 -12.1 0ZM579.3 814.1a6.0 6.0 0 1 0 12.1 0a6.0 6.0 0 1 0 -12.1 0ZM429.5 792.9a6.0 6.0 0 1 0 12.1 0a6.0 6.0 0 1 0 -12.1 0ZM793.1 769.7a6.0 6.0 0 1 0 12.1 0a6.0 6.0 0 1 0 -12.1 0ZM487.4 744.1a6.0 6.0 0 1 0 12.1 0a6.0 6.0 0 1 0 -12.1 0ZM645.8 785.0a6.0 6.0 0 1 0 12.1 0a6.0 6.0 0 1 0 -12.1 0ZM423.1 827.4a6.0 6.0 0 1 0 12.1 0a6.0 6.0 0 1 0 -12.1 0ZM266.1 783.2a6.0 6.0 0 1 0 12.1 0a6.0 6.0 0 1 0 -12.1 0ZM808.2 778.5a6.0 6.0 0 1 0 12.1 0a6.0 6.0 0 1 0 -12.1 0ZM659.1 740.2a6.0 6.0 0 1 0 12.1 0a6.0 6.0 0 1 0 -12.1 0ZM809.3 725.0a6.0 6.0 0 1 0 12.1 0a6.0 6.0 0 1 0 -12.1 0ZM583.6 761.9a6.0 6.0 0 1 0 12.1 0a6.0 6.0 0 1 0 -12.1 0ZM491.7 760.1a6.0 6.0 0 1 0 12.1 0a6.0 6.0 0 1 0 -12.1 0ZM495.7 749.4a6.0 6.0 0 1 0 12.1 0a6.0 6.0 0 1 0 -12.1 0ZM809.3 771.9a6.0 6.0 0 1 0 12.1 0a6.0 6.0 0 1 0 -12.1 0ZM503.7 789.9a6.0 6.0 0 1 0 12.1 0a6.0 6.0 0 1 0 -12.1 0ZM412.1 802.3a6.0 6.0 0 1 0 12.1 0a6.0 6.0 0 1 0 -12.1 0ZM184.4 783.5a6.0 6.0 0 1 0 12.1 0a6.0 6.0 0 1 0 -12.1 0ZM492.5 731.0a6.0 6.0 0 1 0 12.1 0a6.0 6.0 0 1 0 -12.1 0ZM800.1 813.4a6.0 6.0 0 1 0 12.1 0a6.0 6.0 0 1 0 -12.1 0ZM576.7 742.1a6.0 6.0 0 1 0 12.1 0a6.0 6.0 0 1 0 -12.1 0ZM418.2 791.9a6.0 6.0 0 1 0 12.1 0a6.0 6.0 0 1 0 -12.1 0ZM495.7 709.6a6.0 6.0 0 1 0 12.1 0a6.0 6.0 0 1 0 -12.1 0ZM720.1 740.3a6.0 6.0 0 1 0 12.1 0a6.0 6.0 0 1 0 -12.1 0ZM502.7 727.9a6.0 6.0 0 1 0 12.1 0a6.0 6.0 0 1 0 -12.1 0ZM402.0 792.9a6.0 6.0 0 1 0 12.1 0a6.0 6.0 0 1 0 -12.1 0ZM504.9 705.0a6.0 6.0 0 1 0 12.1 0a6.0 6.0 0 1 0 -12.1 0ZM577.1 771.5a6.0 6.0 0 1 0 12.1 0a6.0 6.0 0 1 0 -12.1 0ZM813.6 781.1a6.0 6.0 0 1 0 12.1 0a6.0 6.0 0 1 0 -12.1 0ZM402.9 760.0a6.0 6.0 0 1 0 12.1 0a6.0 6.0 0 1 0 -12.1 0ZM202.6 752.6a6.0 6.0 0 1 0 12.1 0a6.0 6.0 0 1 0 -12.1 0ZM423.1 836.0a6.0 6.0 0 1 0 12.1 0a6.0 6.0 0 1 0 -12.1 0ZM656.4 756.2a6.0 6.0 0 1 0 12.1 0a6.0 6.0 0 1 0 -12.1 0ZM417.7 765.4a6.0 6.0 0 1 0 12.1 0a6.0 6.0 0 1 0 -12.1 0ZM640.3 774.8a6.0 6.0 0 1 0 12.1 0a6.0 6.0 0 1 0 -12.1 0ZM272.8 772.5a6.0 6.0 0 1 0 12.1 0a6.0 6.0 0 1 0 -12.1 0ZM500.0 753.7a6.0 6.0 0 1 0 12.1 0a6.0 6.0 0 1 0 -12.1 0ZM246.7 813.9a6.0 6.0 0 1 0 12.1 0a6.0 6.0 0 1 0 -12.1 0ZM569.6 731.1a6.0 6.0 0 1 0 12.1 0a6.0 6.0 0 1 0 -12.1 0ZM654.9 754.0a6.0 6.0 0 1 0 12.1 0a6.0 6.0 0 1 0 -12.1 0ZM184.4 777.4a6.0 6.0 0 1 0 12.1 0a6.0 6.0 0 1 0 -12.1 0ZM408.9 777.0a6.0 6.0 0 1 0 12.1 0a6.0 6.0 0 1 0 -12.1 0ZM410.1 731.5a6.0 6.0 0 1 0 12.1 0a6.0 6.0 0 1 0 -12.1 0ZM654.3 766.2a6.0 6.0 0 1 0 12.1 0a6.0 6.0 0 1 0 -12.1 0ZM197.6 742.9a6.0 6.0 0 1 0 12.1 0a6.0 6.0 0 1 0 -12.1 0ZM419.3 798.9a6.0 6.0 0 1 0 12.1 0a6.0 6.0 0 1 0 -12.1 0ZM195.7 734.8a6.0 6.0 0 1 0 12.1 0a6.0 6.0 0 1 0 -12.1 0ZM261.8 771.1a6.0 6.0 0 1 0 12.1 0a6.0 6.0 0 1 0 -12.1 0ZM420.4 761.1a6.0 6.0 0 1 0 12.1 0a6.0 6.0 0 1 0 -12.1 0ZM734.7 747.8a6.0 6.0 0 1 0 12.1 0a6.0 6.0 0 1 0 -12.1 0ZM507.0 752.7a6.0 6.0 0 1 0 12.1 0a6.0 6.0 0 1 0 -12.1 0ZM577.1 760.2a6.0 6.0 0 1 0 12.1 0a6.0 6.0 0 1 0 -12.1 0ZM344.3 691.5a6.0 6.0 0 1 0 12.1 0a6.0 6.0 0 1 0 -12.1 0ZM350.7 801.8a6.0 6.0 0 1 0 12.1 0a6.0 6.0 0 1 0 -12.1 0ZM259.6 792.3a6.0 6.0 0 1 0 12.1 0a6.0 6.0 0 1 0 -12.1 0ZM589.0 746.2a6.0 6.0 0 1 0 12.1 0a6.0 6.0 0 1 0 -12.1 0ZM799.6 791.9a6.0 6.0 0 1 0 12.1 0a6.0 6.0 0 1 0 -12.1 0ZM813.6 778.3a6.0 6.0 0 1 0 12.1 0a6.0 6.0 0 1 0 -12.1 0ZM812.5 764.3a6.0 6.0 0 1 0 12.1 0a6.0 6.0 0 1 0 -12.1 0ZM811.4 795.1a6.0 6.0 0 1 0 12.1 0a6.0 6.0 0 1 0 -12.1 0ZM339.4 731.3a6.0 6.0 0 1 0 12.1 0a6.0 6.0 0 1 0 -12.1 0ZM333.0 740.5a6.0 6.0 0 1 0 12.1 0a6.0 6.0 0 1 0 -12.1 0ZM814.7 770.8a6.0 6.0 0 1 0 12.1 0a6.0 6.0 0 1 0 -12.1 0ZM660.2 770.5a6.0 6.0 0 1 0 12.1 0a6.0 6.0 0 1 0 -12.1 0ZM580.5 753.5a6.0 6.0 0 1 0 12.1 0a6.0 6.0 0 1 0 -12.1 0ZM647.1 712.9a6.0 6.0 0 1 0 12.1 0a6.0 6.0 0 1 0 -12.1 0ZM488.1 743.0a6.0 6.0 0 1 0 12.1 0a6.0 6.0 0 1 0 -12.1 0Z" fill="none" stroke="#000" stroke-width="1.45"/>
<path d="M559.1 227.6L559.1 249.4M537.4 227.6L580.8 227.6M537.4 249.4L580.8 249.4M596.3 249.0L596.3 274.0M574.6 249.0L618.0 249.0M574.6 274.0L618.0 274.0M635.8 330.7L635.8 361.9M614.1 330.7L657.5 330.7M614.1 361.9L657.5 361.9M867.4 492.0L867.4 526.6M845.7 492.0L889.1 492.0M845.7 526.6L889.1 526.6M904.8 446.2L904.8 487.2M883.1 446.2L926.5 446.2M883.1 487.2L926.5 487.2M944.1 451.8L944.1 487.2M922.4 451.8L965.8 451.8M922.4 487.2L965.8 487.2M980.6 500.0L980.6 540.0M958.9 500.0L1002.3 500.0M958.9 540.0L1002.3 540.0" stroke="#000" stroke-width="1.30" fill="none"/>
<path d="M580.8 238.5L576.7 251.3L565.8 259.1L552.4 259.1L541.5 251.3L537.4 238.5L541.5 225.7L552.4 217.9L565.8 217.9L576.7 225.7ZM618.0 261.5L613.9 274.3L603.0 282.1L589.6 282.1L578.7 274.3L574.6 261.5L578.7 248.7L589.6 240.9L603.0 240.9L613.9 248.7ZM657.5 346.3L653.4 359.1L642.5 366.9L629.1 366.9L618.2 359.1L614.1 346.3L618.2 333.5L629.1 325.7L642.5 325.7L653.4 333.5ZM889.1 509.3L885.0 522.1L874.1 529.9L860.7 529.9L849.8 522.1L845.7 509.3L849.8 496.5L860.7 488.7L874.1 488.7L885.0 496.5ZM926.5 466.7L922.4 479.5L911.5 487.3L898.1 487.3L887.2 479.5L883.1 466.7L887.2 453.9L898.1 446.1L911.5 446.1L922.4 453.9ZM965.8 469.5L961.7 482.3L950.8 490.1L937.4 490.1L926.5 482.3L922.4 469.5L926.5 456.7L937.4 448.9L950.8 448.9L961.7 456.7ZM1002.3 520.0L998.2 532.8L987.3 540.6L973.9 540.6L963.0 532.8L958.9 520.0L963.0 507.2L973.9 499.4L987.3 499.4L998.2 507.2Z" fill="#ff00ff" stroke="#000" stroke-width="1.30" stroke-linejoin="round"/>
<path d="M559.0 217.9L559.0 233.1M552.6 217.9L565.4 217.9M552.6 233.1L565.4 233.1M559.2 217.7L559.2 234.1M552.8 217.7L565.6 217.7M552.8 234.1L565.6 234.1M559.9 221.6L559.9 233.1M553.5 221.6L566.3 221.6M553.5 233.1L566.3 233.1M559.0 223.9L559.0 240.2M552.6 223.9L565.4 223.9M552.6 240.2L565.4 240.2M559.1 222.8L559.1 241.5M552.7 222.8L565.5 222.8M552.7 241.5L565.5 241.5M559.3 225.1L559.3 240.4M552.9 225.1L565.7 225.1M552.9 240.4L565.7 240.4M558.5 227.2L558.5 244.6M552.1 227.2L564.9 227.2M552.1 244.6L564.9 244.6M559.1 230.3L559.1 247.0M552.7 230.3L565.5 230.3M552.7 247.0L565.5 247.0M559.3 233.5L559.3 244.2M552.9 233.5L565.7 233.5M552.9 244.2L565.7 244.2M559.6 231.9L559.6 249.5M553.2 231.9L566.0 231.9M553.2 249.5L566.0 249.5M558.4 234.5L558.4 250.4M552.0 234.5L564.8 234.5M552.0 250.4L564.8 250.4M558.7 236.5L558.7 249.5M552.3 236.5L565.1 236.5M552.3 249.5L565.1 249.5M558.4 243.8L558.4 254.1M552.0 243.8L564.8 243.8M552.0 254.1L564.8 254.1M559.7 239.6L559.7 258.3M553.3 239.6L566.1 239.6M553.3 258.3L566.1 258.3M559.4 246.0L559.4 260.7M553.0 246.0L565.8 246.0M553.0 260.7L565.8 260.7M558.3 244.9L558.3 262.1M551.9 244.9L564.7 244.9M551.9 262.1L564.7 262.1M559.5 259.0L559.5 285.0M553.1 259.0L565.9 259.0M553.1 285.0L565.9 285.0M559.3 259.7L559.3 287.5M552.9 259.7L565.7 259.7M552.9 287.5L565.7 287.5M596.6 220.4L596.6 241.0M590.2 220.4L603.0 220.4M590.2 241.0L603.0 241.0M596.5 234.0L596.5 252.0M590.1 234.0L602.9 234.0M590.1 252.0L602.9 252.0M595.7 237.7L595.7 255.7M589.3 237.7L602.1 237.7M589.3 255.7L602.1 255.7M595.4 239.2L595.4 257.2M589.0 239.2L601.8 239.2M589.0 257.2L601.8 257.2M596.4 242.2L596.4 260.2M590.0 242.2L602.8 242.2M590.0 260.2L602.8 260.2M595.5 245.4L595.5 263.4M589.1 245.4L601.9 245.4M589.1 263.4L601.9 263.4M595.7 248.7L595.7 266.7M589.3 248.7L602.1 248.7M589.3 266.7L602.1 266.7M595.8 249.0L595.8 267.0M589.4 249.0L602.2 249.0M589.4 267.0L602.2 267.0M595.5 250.6L595.5 268.6M589.1 250.6L601.9 250.6M589.1 268.6L601.9 268.6M596.2 250.9L596.2 268.9M589.8 250.9L602.6 250.9M589.8 268.9L602.6 268.9M596.2 253.3L596.2 271.3M589.8 253.3L602.6 253.3M589.8 271.3L602.6 271.3M596.9 257.8L596.9 275.8M590.5 257.8L603.3 257.8M590.5 275.8L603.3 275.8M596.3 261.1L596.3 279.1M589.9 261.1L602.7 261.1M589.9 279.1L602.7 279.1M596.6 264.4L596.6 282.4M590.2 264.4L603.0 264.4M590.2 282.4L603.0 282.4M596.3 267.4L596.3 285.4M589.9 267.4L602.7 267.4M589.9 285.4L602.7 285.4M596.6 267.4L596.6 285.4M590.2 267.4L603.0 267.4M590.2 285.4L603.0 285.4M596.2 269.0L596.2 287.0M589.8 269.0L602.6 269.0M589.8 287.0L602.6 287.0M595.9 269.6L595.9 287.6M589.5 269.6L602.3 269.6M589.5 287.6L602.3 287.6M597.2 270.7L597.2 288.7M590.8 270.7L603.6 270.7M590.8 288.7L603.6 288.7M597.2 272.0L597.2 290.0M590.8 272.0L603.6 272.0M590.8 290.0L603.6 290.0M636.4 305.4L636.4 332.0M630.0 305.4L642.8 305.4M630.0 332.0L642.8 332.0M636.2 315.0L636.2 339.0M629.8 315.0L642.6 315.0M629.8 339.0L642.6 339.0M635.5 316.7L635.5 340.7M629.1 316.7L641.9 316.7M629.1 340.7L641.9 340.7M635.3 316.7L635.3 340.7M628.9 316.7L641.7 316.7M628.9 340.7L641.7 340.7M635.4 317.4L635.4 341.4M629.0 317.4L641.8 317.4M629.0 341.4L641.8 341.4M635.0 318.4L635.0 342.4M628.6 318.4L641.4 318.4M628.6 342.4L641.4 342.4M636.3 320.7L636.3 344.7M629.9 320.7L642.7 320.7M629.9 344.7L642.7 344.7M635.6 321.2L635.6 345.2M629.2 321.2L642.0 321.2M629.2 345.2L642.0 345.2M636.4 323.0L636.4 347.0M630.0 323.0L642.8 323.0M630.0 347.0L642.8 347.0M635.6 325.8L635.6 349.8M629.2 325.8L642.0 325.8M629.2 349.8L642.0 349.8M636.6 326.2L636.6 350.2M630.2 326.2L643.0 326.2M630.2 350.2L643.0 350.2M636.4 327.6L636.4 351.6M630.0 327.6L642.8 327.6M630.0 351.6L642.8 351.6M634.9 328.3L634.9 352.3M628.5 328.3L641.3 328.3M628.5 352.3L641.3 352.3M635.3 330.6L635.3 354.6M628.9 330.6L641.7 330.6M628.9 354.6L641.7 354.6M636.5 336.6L636.5 360.6M630.1 336.6L642.9 336.6M630.1 360.6L642.9 360.6M635.7 336.8L635.7 360.8M629.3 336.8L642.1 336.8M629.3 360.8L642.1 360.8M636.7 337.2L636.7 361.2M630.3 337.2L643.1 337.2M630.3 361.2L643.1 361.2M635.6 337.2L635.6 361.2M629.2 337.2L642.0 337.2M629.2 361.2L642.0 361.2M635.0 338.4L635.0 362.4M628.6 338.4L641.4 338.4M628.6 362.4L641.4 362.4M636.0 340.5L636.0 364.5M629.6 340.5L642.4 340.5M629.6 364.5L642.4 364.5M636.3 340.9L636.3 364.9M629.9 340.9L642.7 340.9M629.9 364.9L642.7 364.9M635.4 342.1L635.4 366.1M629.0 342.1L641.8 342.1M629.0 366.1L641.8 366.1M635.1 342.3L635.1 366.3M628.7 342.3L641.5 342.3M628.7 366.3L641.5 366.3M635.5 344.2L635.5 368.2M629.1 344.2L641.9 344.2M629.1 368.2L641.9 368.2M636.6 345.4L636.6 369.4M630.2 345.4L643.0 345.4M630.2 369.4L643.0 369.4M636.3 346.6L636.3 370.6M629.9 346.6L642.7 346.6M629.9 370.6L642.7 370.6M635.1 347.4L635.1 371.4M628.7 347.4L641.5 347.4M628.7 371.4L641.5 371.4M635.3 347.5L635.3 371.5M628.9 347.5L641.7 347.5M628.9 371.5L641.7 371.5M635.1 347.7L635.1 371.7M628.7 347.7L641.5 347.7M628.7 371.7L641.5 371.7M635.0 348.2L635.0 372.2M628.6 348.2L641.4 348.2M628.6 372.2L641.4 372.2M636.3 349.4L636.3 373.4M629.9 349.4L642.7 349.4M629.9 373.4L642.7 373.4M635.2 349.4L635.2 373.4M628.8 349.4L641.6 349.4M628.8 373.4L641.6 373.4M635.9 350.3L635.9 374.3M629.5 350.3L642.3 350.3M629.5 374.3L642.3 374.3M635.7 351.7L635.7 375.7M629.3 351.7L642.1 351.7M629.3 375.7L642.1 375.7M635.2 352.6L635.2 376.6M628.8 352.6L641.6 352.6M628.8 376.6L641.6 376.6M636.2 352.7L636.2 376.7M629.8 352.7L642.6 352.7M629.8 376.7L642.6 376.7M635.1 353.0L635.1 377.0M628.7 353.0L641.5 353.0M628.7 377.0L641.5 377.0M636.1 358.5L636.1 378.5M629.7 358.5L642.5 358.5M629.7 378.5L642.5 378.5M635.1 360.1L635.1 384.9M628.7 360.1L641.5 360.1M628.7 384.9L641.5 384.9M635.7 365.1L635.7 384.9M629.3 365.1L642.1 365.1M629.3 384.9L642.1 384.9M635.3 373.1L635.3 384.9M628.9 373.1L641.7 373.1M628.9 384.9L641.7 384.9M635.4 373.0L635.4 415.4M629.0 373.0L641.8 373.0M629.0 415.4L641.8 415.4M868.2 483.0L868.2 511.0M861.8 483.0L874.6 483.0M861.8 511.0L874.6 511.0M867.9 488.0L867.9 518.0M861.5 488.0L874.3 488.0M861.5 518.0L874.3 518.0M867.0 493.0L867.0 525.0M860.6 493.0L873.4 493.0M860.6 525.0L873.4 525.0M868.1 501.0L868.1 529.0M861.7 501.0L874.5 501.0M861.7 529.0L874.5 529.0M866.9 506.0L866.9 536.0M860.5 506.0L873.3 506.0M860.5 536.0L873.3 536.0M867.2 511.0L867.2 543.0M860.8 511.0L873.6 511.0M860.8 543.0L873.6 543.0M868.0 516.2L868.0 548.0M861.6 516.2L874.4 516.2M861.6 548.0L874.4 548.0M867.7 523.2L867.7 550.8M861.3 523.2L874.1 523.2M861.3 550.8L874.1 550.8M866.7 524.6L866.7 560.2M860.3 524.6L873.1 524.6M860.3 560.2L873.1 560.2M905.7 438.0L905.7 466.0M899.3 438.0L912.1 438.0M899.3 466.0L912.1 466.0M904.3 445.0L904.3 475.0M897.9 445.0L910.7 445.0M897.9 475.0L910.7 475.0M904.4 452.0L904.4 484.0M898.0 452.0L910.8 452.0M898.0 484.0L910.8 484.0M905.3 462.0L905.3 490.0M898.9 462.0L911.7 462.0M898.9 490.0L911.7 490.0M904.5 469.0L904.5 499.0M898.1 469.0L910.9 469.0M898.1 499.0L910.9 499.0M904.4 477.0L904.4 505.0M898.0 477.0L910.8 477.0M898.0 505.0L910.8 505.0M904.0 479.7L904.0 509.7M897.6 479.7L910.4 479.7M897.6 509.7L910.4 509.7M904.1 491.8L904.1 524.6M897.7 491.8L910.5 491.8M897.7 524.6L910.5 524.6M944.2 441.0L944.2 469.0M937.8 441.0L950.6 441.0M937.8 469.0L950.6 469.0M943.6 448.0L943.6 478.0M937.2 448.0L950.0 448.0M937.2 478.0L950.0 478.0M944.3 455.0L944.3 487.0M937.9 455.0L950.7 455.0M937.9 487.0L950.7 487.0M943.9 465.0L943.9 493.0M937.5 465.0L950.3 465.0M937.5 493.0L950.3 493.0M944.0 472.0L944.0 502.0M937.6 472.0L950.4 472.0M937.6 502.0L950.4 502.0M944.9 477.9L944.9 508.1M938.5 477.9L951.3 477.9M938.5 508.1L951.3 508.1M944.1 487.7L944.1 514.3M937.7 487.7L950.5 487.7M937.7 514.3L950.5 514.3M980.7 491.0L980.7 519.0M974.3 491.0L987.1 491.0M974.3 519.0L987.1 519.0M981.3 498.0L981.3 528.0M974.9 498.0L987.7 498.0M974.9 528.0L987.7 528.0M980.0 505.0L980.0 537.0M973.6 505.0L986.4 505.0M973.6 537.0L986.4 537.0M980.0 515.0L980.0 543.0M973.6 515.0L986.4 515.0M973.6 543.0L986.4 543.0M981.3 522.0L981.3 552.0M974.9 522.0L987.7 522.0M974.9 552.0L987.7 552.0M981.2 529.0L981.2 561.0M974.8 529.0L987.6 529.0M974.8 561.0L987.6 561.0M980.1 539.3L980.1 567.3M973.7 539.3L986.5 539.3M973.7 567.3L986.5 567.3M980.0 540.8L980.0 603.0M973.6 540.8L986.4 540.8M973.6 603.0L986.4 603.0M867.8 486.0L867.8 512.0M861.4 486.0L874.2 486.0M861.4 512.0L874.2 512.0M868.2 487.0L868.2 513.0M861.8 487.0L874.6 487.0M861.8 513.0L874.6 513.0M866.9 488.5L866.9 514.5M860.5 488.5L873.3 488.5M860.5 514.5L873.3 514.5M868.2 492.3L868.2 518.3M861.8 492.3L874.6 492.3M861.8 518.3L874.6 518.3M868.1 495.9L868.1 521.9M861.7 495.9L874.5 495.9M861.7 521.9L874.5 521.9M867.6 499.1L867.6 525.1M861.2 499.1L874.0 499.1M861.2 525.1L874.0 525.1M867.3 502.2L867.3 528.2M860.9 502.2L873.7 502.2M860.9 528.2L873.7 528.2M866.7 505.2L866.7 531.2M860.3 505.2L873.1 505.2M860.3 531.2L873.1 531.2M866.6 505.5L866.6 531.5M860.2 505.5L873.0 505.5M860.2 531.5L873.0 531.5M868.2 514.2L868.2 540.2M861.8 514.2L874.6 514.2M861.8 540.2L874.6 540.2M866.9 517.4L866.9 543.4M860.5 517.4L873.3 517.4M860.5 543.4L873.3 543.4M867.8 518.0L867.8 544.0M861.4 518.0L874.2 518.0M861.4 544.0L874.2 544.0M867.0 518.0L867.0 544.0M860.6 518.0L873.4 518.0M860.6 544.0L873.4 544.0M905.4 442.0L905.4 466.0M899.0 442.0L911.8 442.0M899.0 466.0L911.8 466.0M905.0 443.4L905.0 467.4M898.6 443.4L911.4 443.4M898.6 467.4L911.4 467.4M904.4 447.3L904.4 471.3M898.0 447.3L910.8 447.3M898.0 471.3L910.8 471.3M904.2 452.7L904.2 476.7M897.8 452.7L910.6 452.7M897.8 476.7L910.6 476.7M905.2 454.8L905.2 478.8M898.8 454.8L911.6 454.8M898.8 478.8L911.6 478.8M904.0 457.7L904.0 481.7M897.6 457.7L910.4 457.7M897.6 481.7L910.4 481.7M904.3 459.7L904.3 483.7M897.9 459.7L910.7 459.7M897.9 483.7L910.7 483.7M904.9 462.3L904.9 486.3M898.5 462.3L911.3 462.3M898.5 486.3L911.3 486.3M905.4 463.9L905.4 487.9M899.0 463.9L911.8 463.9M899.0 487.9L911.8 487.9M905.0 471.5L905.0 495.5M898.6 471.5L911.4 471.5M898.6 495.5L911.4 495.5M904.4 472.5L904.4 496.5M898.0 472.5L910.8 472.5M898.0 496.5L910.8 496.5M905.6 474.6L905.6 498.6M899.2 474.6L912.0 474.6M899.2 498.6L912.0 498.6M904.3 476.0L904.3 500.0M897.9 476.0L910.7 476.0M897.9 500.0L910.7 500.0M943.2 445.0L943.2 469.0M936.8 445.0L949.6 445.0M936.8 469.0L949.6 469.0M943.7 452.8L943.7 476.8M937.3 452.8L950.1 452.8M937.3 476.8L950.1 476.8M944.0 454.9L944.0 478.9M937.6 454.9L950.4 454.9M937.6 478.9L950.4 478.9M943.3 459.2L943.3 483.2M936.9 459.2L949.7 459.2M936.9 483.2L949.7 483.2M943.5 461.7L943.5 485.7M937.1 461.7L949.9 461.7M937.1 485.7L949.9 485.7M943.9 462.2L943.9 486.2M937.5 462.2L950.3 462.2M937.5 486.2L950.3 486.2M944.2 463.1L944.2 487.1M937.8 463.1L950.6 463.1M937.8 487.1L950.6 487.1M943.4 463.5L943.4 487.5M937.0 463.5L949.8 463.5M937.0 487.5L949.8 487.5M943.9 465.5L943.9 489.5M937.5 465.5L950.3 465.5M937.5 489.5L950.3 489.5M944.8 468.8L944.8 492.8M938.4 468.8L951.2 468.8M938.4 492.8L951.2 492.8M945.0 476.0L945.0 500.0M938.6 476.0L951.4 476.0M938.6 500.0L951.4 500.0M944.4 477.3L944.4 501.3M938.0 477.3L950.8 477.3M938.0 501.3L950.8 501.3M944.4 478.0L944.4 502.0M938.0 478.0L950.8 478.0M938.0 502.0L950.8 502.0M980.8 494.0L980.8 520.0M974.4 494.0L987.2 494.0M974.4 520.0L987.2 520.0M980.0 494.5L980.0 520.5M973.6 494.5L986.4 494.5M973.6 520.5L986.4 520.5M979.8 494.8L979.8 520.8M973.4 494.8L986.2 494.8M973.4 520.8L986.2 520.8M979.7 494.9L979.7 520.9M973.3 494.9L986.1 494.9M973.3 520.9L986.1 520.9M981.3 496.5L981.3 522.5M974.9 496.5L987.7 496.5M974.9 522.5L987.7 522.5M981.0 508.5L981.0 534.5M974.6 508.5L987.4 508.5M974.6 534.5L987.4 534.5M981.4 511.0L981.4 537.0M975.0 511.0L987.8 511.0M975.0 537.0L987.8 537.0M979.7 513.1L979.7 539.1M973.3 513.1L986.1 513.1M973.3 539.1L986.1 539.1M980.8 517.8L980.8 543.8M974.4 517.8L987.2 517.8M974.4 543.8L987.2 543.8M980.6 519.2L980.6 545.2M974.2 519.2L987.0 519.2M974.2 545.2L987.0 545.2M981.0 519.7L981.0 545.7M974.6 519.7L987.4 519.7M974.6 545.7L987.4 545.7M980.3 519.9L980.3 545.9M973.9 519.9L986.7 519.9M973.9 545.9L986.7 545.9M981.5 521.9L981.5 547.9M975.1 521.9L987.9 521.9M975.1 547.9L987.9 547.9M979.8 523.0L979.8 549.0M973.4 523.0L986.2 523.0M973.4 549.0L986.2 549.0M980.7 524.3L980.7 550.3M974.3 524.3L987.1 524.3M974.3 550.3L987.1 550.3M981.0 535.0L981.0 561.0M974.6 535.0L987.4 535.0M974.6 561.0L987.4 561.0" stroke="#000" stroke-width="1.30" fill="none"/>
<path d="M553.1 225.5a5.9 5.9 0 1 0 11.8 0a5.9 5.9 0 1 0 -11.8 0ZM553.3 225.9a5.9 5.9 0 1 0 11.8 0a5.9 5.9 0 1 0 -11.8 0ZM554.0 227.3a5.9 5.9 0 1 0 11.8 0a5.9 5.9 0 1 0 -11.8 0ZM553.1 232.1a5.9 5.9 0 1 0 11.8 0a5.9 5.9 0 1 0 -11.8 0ZM553.2 232.2a5.9 5.9 0 1 0 11.8 0a5.9 5.9 0 1 0 -11.8 0ZM553.4 232.8a5.9 5.9 0 1 0 11.8 0a5.9 5.9 0 1 0 -11.8 0ZM552.6 235.9a5.9 5.9 0 1 0 11.8 0a5.9 5.9 0 1 0 -11.8 0ZM553.2 238.7a5.9 5.9 0 1 0 11.8 0a5.9 5.9 0 1 0 -11.8 0ZM553.4 238.8a5.9 5.9 0 1 0 11.8 0a5.9 5.9 0 1 0 -11.8 0ZM553.7 240.7a5.9 5.9 0 1 0 11.8 0a5.9 5.9 0 1 0 -11.8 0ZM552.5 242.4a5.9 5.9 0 1 0 11.8 0a5.9 5.9 0 1 0 -11.8 0ZM552.8 243.0a5.9 5.9 0 1 0 11.8 0a5.9 5.9 0 1 0 -11.8 0ZM552.5 248.9a5.9 5.9 0 1 0 11.8 0a5.9 5.9 0 1 0 -11.8 0ZM553.8 248.9a5.9 5.9 0 1 0 11.8 0a5.9 5.9 0 1 0 -11.8 0ZM553.5 253.4a5.9 5.9 0 1 0 11.8 0a5.9 5.9 0 1 0 -11.8 0ZM552.4 253.5a5.9 5.9 0 1 0 11.8 0a5.9 5.9 0 1 0 -11.8 0ZM553.6 272.0a5.9 5.9 0 1 0 11.8 0a5.9 5.9 0 1 0 -11.8 0ZM553.4 273.6a5.9 5.9 0 1 0 11.8 0a5.9 5.9 0 1 0 -11.8 0ZM590.7 230.7a5.9 5.9 0 1 0 11.8 0a5.9 5.9 0 1 0 -11.8 0ZM590.6 243.0a5.9 5.9 0 1 0 11.8 0a5.9 5.9 0 1 0 -11.8 0ZM589.8 246.7a5.9 5.9 0 1 0 11.8 0a5.9 5.9 0 1 0 -11.8 0ZM589.5 248.2a5.9 5.9 0 1 0 11.8 0a5.9 5.9 0 1 0 -11.8 0ZM590.5 251.2a5.9 5.9 0 1 0 11.8 0a5.9 5.9 0 1 0 -11.8 0ZM589.6 254.4a5.9 5.9 0 1 0 11.8 0a5.9 5.9 0 1 0 -11.8 0ZM589.8 257.7a5.9 5.9 0 1 0 11.8 0a5.9 5.9 0 1 0 -11.8 0ZM589.9 258.0a5.9 5.9 0 1 0 11.8 0a5.9 5.9 0 1 0 -11.8 0ZM589.6 259.6a5.9 5.9 0 1 0 11.8 0a5.9 5.9 0 1 0 -11.8 0ZM590.3 259.9a5.9 5.9 0 1 0 11.8 0a5.9 5.9 0 1 0 -11.8 0ZM590.3 262.3a5.9 5.9 0 1 0 11.8 0a5.9 5.9 0 1 0 -11.8 0ZM591.0 266.8a5.9 5.9 0 1 0 11.8 0a5.9 5.9 0 1 0 -11.8 0ZM590.4 270.1a5.9 5.9 0 1 0 11.8 0a5.9 5.9 0 1 0 -11.8 0ZM590.7 273.4a5.9 5.9 0 1 0 11.8 0a5.9 5.9 0 1 0 -11.8 0ZM590.4 276.4a5.9 5.9 0 1 0 11.8 0a5.9 5.9 0 1 0 -11.8 0ZM590.7 276.4a5.9 5.9 0 1 0 11.8 0a5.9 5.9 0 1 0 -11.8 0ZM590.3 278.0a5.9 5.9 0 1 0 11.8 0a5.9 5.9 0 1 0 -11.8 0ZM590.0 278.6a5.9 5.9 0 1 0 11.8 0a5.9 5.9 0 1 0 -11.8 0ZM591.3 279.7a5.9 5.9 0 1 0 11.8 0a5.9 5.9 0 1 0 -11.8 0ZM591.3 281.0a5.9 5.9 0 1 0 11.8 0a5.9 5.9 0 1 0 -11.8 0ZM630.5 318.7a5.9 5.9 0 1 0 11.8 0a5.9 5.9 0 1 0 -11.8 0ZM630.3 327.0a5.9 5.9 0 1 0 11.8 0a5.9 5.9 0 1 0 -11.8 0ZM629.6 328.7a5.9 5.9 0 1 0 11.8 0a5.9 5.9 0 1 0 -11.8 0ZM629.4 328.7a5.9 5.9 0 1 0 11.8 0a5.9 5.9 0 1 0 -11.8 0ZM629.5 329.4a5.9 5.9 0 1 0 11.8 0a5.9 5.9 0 1 0 -11.8 0ZM629.1 330.4a5.9 5.9 0 1 0 11.8 0a5.9 5.9 0 1 0 -11.8 0ZM630.4 332.7a5.9 5.9 0 1 0 11.8 0a5.9 5.9 0 1 0 -11.8 0ZM629.7 333.2a5.9 5.9 0 1 0 11.8 0a5.9 5.9 0 1 0 -11.8 0ZM630.5 335.0a5.9 5.9 0 1 0 11.8 0a5.9 5.9 0 1 0 -11.8 0ZM629.7 337.8a5.9 5.9 0 1 0 11.8 0a5.9 5.9 0 1 0 -11.8 0ZM630.7 338.2a5.9 5.9 0 1 0 11.8 0a5.9 5.9 0 1 0 -11.8 0ZM630.5 339.6a5.9 5.9 0 1 0 11.8 0a5.9 5.9 0 1 0 -11.8 0ZM629.0 340.3a5.9 5.9 0 1 0 11.8 0a5.9 5.9 0 1 0 -11.8 0ZM629.4 342.6a5.9 5.9 0 1 0 11.8 0a5.9 5.9 0 1 0 -11.8 0ZM630.6 348.6a5.9 5.9 0 1 0 11.8 0a5.9 5.9 0 1 0 -11.8 0ZM629.8 348.8a5.9 5.9 0 1 0 11.8 0a5.9 5.9 0 1 0 -11.8 0ZM630.8 349.2a5.9 5.9 0 1 0 11.8 0a5.9 5.9 0 1 0 -11.8 0ZM629.7 349.2a5.9 5.9 0 1 0 11.8 0a5.9 5.9 0 1 0 -11.8 0ZM629.1 350.4a5.9 5.9 0 1 0 11.8 0a5.9 5.9 0 1 0 -11.8 0ZM630.1 352.5a5.9 5.9 0 1 0 11.8 0a5.9 5.9 0 1 0 -11.8 0ZM630.4 352.9a5.9 5.9 0 1 0 11.8 0a5.9 5.9 0 1 0 -11.8 0ZM629.5 354.1a5.9 5.9 0 1 0 11.8 0a5.9 5.9 0 1 0 -11.8 0ZM629.2 354.3a5.9 5.9 0 1 0 11.8 0a5.9 5.9 0 1 0 -11.8 0ZM629.6 356.2a5.9 5.9 0 1 0 11.8 0a5.9 5.9 0 1 0 -11.8 0ZM630.7 357.4a5.9 5.9 0 1 0 11.8 0a5.9 5.9 0 1 0 -11.8 0ZM630.4 358.6a5.9 5.9 0 1 0 11.8 0a5.9 5.9 0 1 0 -11.8 0ZM629.2 359.4a5.9 5.9 0 1 0 11.8 0a5.9 5.9 0 1 0 -11.8 0ZM629.4 359.5a5.9 5.9 0 1 0 11.8 0a5.9 5.9 0 1 0 -11.8 0ZM629.2 359.7a5.9 5.9 0 1 0 11.8 0a5.9 5.9 0 1 0 -11.8 0ZM629.1 360.2a5.9 5.9 0 1 0 11.8 0a5.9 5.9 0 1 0 -11.8 0ZM630.4 361.4a5.9 5.9 0 1 0 11.8 0a5.9 5.9 0 1 0 -11.8 0ZM629.3 361.4a5.9 5.9 0 1 0 11.8 0a5.9 5.9 0 1 0 -11.8 0ZM630.0 362.3a5.9 5.9 0 1 0 11.8 0a5.9 5.9 0 1 0 -11.8 0ZM629.8 363.7a5.9 5.9 0 1 0 11.8 0a5.9 5.9 0 1 0 -11.8 0ZM629.3 364.6a5.9 5.9 0 1 0 11.8 0a5.9 5.9 0 1 0 -11.8 0ZM630.3 364.7a5.9 5.9 0 1 0 11.8 0a5.9 5.9 0 1 0 -11.8 0ZM629.2 365.0a5.9 5.9 0 1 0 11.8 0a5.9 5.9 0 1 0 -11.8 0ZM630.2 368.5a5.9 5.9 0 1 0 11.8 0a5.9 5.9 0 1 0 -11.8 0ZM629.2 372.5a5.9 5.9 0 1 0 11.8 0a5.9 5.9 0 1 0 -11.8 0ZM629.8 375.0a5.9 5.9 0 1 0 11.8 0a5.9 5.9 0 1 0 -11.8 0ZM629.4 379.0a5.9 5.9 0 1 0 11.8 0a5.9 5.9 0 1 0 -11.8 0ZM629.5 394.2a5.9 5.9 0 1 0 11.8 0a5.9 5.9 0 1 0 -11.8 0ZM862.3 497.0a5.9 5.9 0 1 0 11.8 0a5.9 5.9 0 1 0 -11.8 0ZM862.0 503.0a5.9 5.9 0 1 0 11.8 0a5.9 5.9 0 1 0 -11.8 0ZM861.1 509.0a5.9 5.9 0 1 0 11.8 0a5.9 5.9 0 1 0 -11.8 0ZM862.2 515.0a5.9 5.9 0 1 0 11.8 0a5.9 5.9 0 1 0 -11.8 0ZM861.0 521.0a5.9 5.9 0 1 0 11.8 0a5.9 5.9 0 1 0 -11.8 0ZM861.3 527.0a5.9 5.9 0 1 0 11.8 0a5.9 5.9 0 1 0 -11.8 0ZM862.1 532.1a5.9 5.9 0 1 0 11.8 0a5.9 5.9 0 1 0 -11.8 0ZM861.8 537.0a5.9 5.9 0 1 0 11.8 0a5.9 5.9 0 1 0 -11.8 0ZM860.8 542.4a5.9 5.9 0 1 0 11.8 0a5.9 5.9 0 1 0 -11.8 0ZM899.8 452.0a5.9 5.9 0 1 0 11.8 0a5.9 5.9 0 1 0 -11.8 0ZM898.4 460.0a5.9 5.9 0 1 0 11.8 0a5.9 5.9 0 1 0 -11.8 0ZM898.5 468.0a5.9 5.9 0 1 0 11.8 0a5.9 5.9 0 1 0 -11.8 0ZM899.4 476.0a5.9 5.9 0 1 0 11.8 0a5.9 5.9 0 1 0 -11.8 0ZM898.6 484.0a5.9 5.9 0 1 0 11.8 0a5.9 5.9 0 1 0 -11.8 0ZM898.5 491.0a5.9 5.9 0 1 0 11.8 0a5.9 5.9 0 1 0 -11.8 0ZM898.1 494.7a5.9 5.9 0 1 0 11.8 0a5.9 5.9 0 1 0 -11.8 0ZM898.2 508.2a5.9 5.9 0 1 0 11.8 0a5.9 5.9 0 1 0 -11.8 0ZM938.3 455.0a5.9 5.9 0 1 0 11.8 0a5.9 5.9 0 1 0 -11.8 0ZM937.7 463.0a5.9 5.9 0 1 0 11.8 0a5.9 5.9 0 1 0 -11.8 0ZM938.4 471.0a5.9 5.9 0 1 0 11.8 0a5.9 5.9 0 1 0 -11.8 0ZM938.0 479.0a5.9 5.9 0 1 0 11.8 0a5.9 5.9 0 1 0 -11.8 0ZM938.1 487.0a5.9 5.9 0 1 0 11.8 0a5.9 5.9 0 1 0 -11.8 0ZM939.0 493.0a5.9 5.9 0 1 0 11.8 0a5.9 5.9 0 1 0 -11.8 0ZM938.2 501.0a5.9 5.9 0 1 0 11.8 0a5.9 5.9 0 1 0 -11.8 0ZM974.8 505.0a5.9 5.9 0 1 0 11.8 0a5.9 5.9 0 1 0 -11.8 0ZM975.4 513.0a5.9 5.9 0 1 0 11.8 0a5.9 5.9 0 1 0 -11.8 0ZM974.1 521.0a5.9 5.9 0 1 0 11.8 0a5.9 5.9 0 1 0 -11.8 0ZM974.1 529.0a5.9 5.9 0 1 0 11.8 0a5.9 5.9 0 1 0 -11.8 0ZM975.4 537.0a5.9 5.9 0 1 0 11.8 0a5.9 5.9 0 1 0 -11.8 0ZM975.3 545.0a5.9 5.9 0 1 0 11.8 0a5.9 5.9 0 1 0 -11.8 0ZM974.2 553.3a5.9 5.9 0 1 0 11.8 0a5.9 5.9 0 1 0 -11.8 0ZM974.1 571.9a5.9 5.9 0 1 0 11.8 0a5.9 5.9 0 1 0 -11.8 0ZM861.9 499.0a5.9 5.9 0 1 0 11.8 0a5.9 5.9 0 1 0 -11.8 0ZM862.3 500.0a5.9 5.9 0 1 0 11.8 0a5.9 5.9 0 1 0 -11.8 0ZM861.0 501.5a5.9 5.9 0 1 0 11.8 0a5.9 5.9 0 1 0 -11.8 0ZM862.3 505.3a5.9 5.9 0 1 0 11.8 0a5.9 5.9 0 1 0 -11.8 0ZM862.2 508.9a5.9 5.9 0 1 0 11.8 0a5.9 5.9 0 1 0 -11.8 0ZM861.7 512.1a5.9 5.9 0 1 0 11.8 0a5.9 5.9 0 1 0 -11.8 0ZM861.4 515.2a5.9 5.9 0 1 0 11.8 0a5.9 5.9 0 1 0 -11.8 0ZM860.8 518.2a5.9 5.9 0 1 0 11.8 0a5.9 5.9 0 1 0 -11.8 0ZM860.7 518.5a5.9 5.9 0 1 0 11.8 0a5.9 5.9 0 1 0 -11.8 0ZM862.3 527.2a5.9 5.9 0 1 0 11.8 0a5.9 5.9 0 1 0 -11.8 0ZM861.0 530.4a5.9 5.9 0 1 0 11.8 0a5.9 5.9 0 1 0 -11.8 0ZM861.9 531.0a5.9 5.9 0 1 0 11.8 0a5.9 5.9 0 1 0 -11.8 0ZM861.1 531.0a5.9 5.9 0 1 0 11.8 0a5.9 5.9 0 1 0 -11.8 0ZM899.5 454.0a5.9 5.9 0 1 0 11.8 0a5.9 5.9 0 1 0 -11.8 0ZM899.1 455.4a5.9 5.9 0 1 0 11.8 0a5.9 5.9 0 1 0 -11.8 0ZM898.5 459.3a5.9 5.9 0 1 0 11.8 0a5.9 5.9 0 1 0 -11.8 0ZM898.3 464.7a5.9 5.9 0 1 0 11.8 0a5.9 5.9 0 1 0 -11.8 0ZM899.3 466.8a5.9 5.9 0 1 0 11.8 0a5.9 5.9 0 1 0 -11.8 0ZM898.1 469.7a5.9 5.9 0 1 0 11.8 0a5.9 5.9 0 1 0 -11.8 0ZM898.4 471.7a5.9 5.9 0 1 0 11.8 0a5.9 5.9 0 1 0 -11.8 0ZM899.0 474.3a5.9 5.9 0 1 0 11.8 0a5.9 5.9 0 1 0 -11.8 0ZM899.5 475.9a5.9 5.9 0 1 0 11.8 0a5.9 5.9 0 1 0 -11.8 0ZM899.1 483.5a5.9 5.9 0 1 0 11.8 0a5.9 5.9 0 1 0 -11.8 0ZM898.5 484.5a5.9 5.9 0 1 0 11.8 0a5.9 5.9 0 1 0 -11.8 0ZM899.7 486.6a5.9 5.9 0 1 0 11.8 0a5.9 5.9 0 1 0 -11.8 0ZM898.4 488.0a5.9 5.9 0 1 0 11.8 0a5.9 5.9 0 1 0 -11.8 0ZM937.3 457.0a5.9 5.9 0 1 0 11.8 0a5.9 5.9 0 1 0 -11.8 0ZM937.8 464.8a5.9 5.9 0 1 0 11.8 0a5.9 5.9 0 1 0 -11.8 0ZM938.1 466.9a5.9 5.9 0 1 0 11.8 0a5.9 5.9 0 1 0 -11.8 0ZM937.4 471.2a5.9 5.9 0 1 0 11.8 0a5.9 5.9 0 1 0 -11.8 0ZM937.6 473.7a5.9 5.9 0 1 0 11.8 0a5.9 5.9 0 1 0 -11.8 0ZM938.0 474.2a5.9 5.9 0 1 0 11.8 0a5.9 5.9 0 1 0 -11.8 0ZM938.3 475.1a5.9 5.9 0 1 0 11.8 0a5.9 5.9 0 1 0 -11.8 0ZM937.5 475.5a5.9 5.9 0 1 0 11.8 0a5.9 5.9 0 1 0 -11.8 0ZM938.0 477.5a5.9 5.9 0 1 0 11.8 0a5.9 5.9 0 1 0 -11.8 0ZM938.9 480.8a5.9 5.9 0 1 0 11.8 0a5.9 5.9 0 1 0 -11.8 0ZM939.1 488.0a5.9 5.9 0 1 0 11.8 0a5.9 5.9 0 1 0 -11.8 0ZM938.5 489.3a5.9 5.9 0 1 0 11.8 0a5.9 5.9 0 1 0 -11.8 0ZM938.5 490.0a5.9 5.9 0 1 0 11.8 0a5.9 5.9 0 1 0 -11.8 0ZM974.9 507.0a5.9 5.9 0 1 0 11.8 0a5.9 5.9 0 1 0 -11.8 0ZM974.1 507.5a5.9 5.9 0 1 0 11.8 0a5.9 5.9 0 1 0 -11.8 0ZM973.9 507.8a5.9 5.9 0 1 0 11.8 0a5.9 5.9 0 1 0 -11.8 0ZM973.8 507.9a5.9 5.9 0 1 0 11.8 0a5.9 5.9 0 1 0 -11.8 0ZM975.4 509.5a5.9 5.9 0 1 0 11.8 0a5.9 5.9 0 1 0 -11.8 0ZM975.1 521.5a5.9 5.9 0 1 0 11.8 0a5.9 5.9 0 1 0 -11.8 0ZM975.5 524.0a5.9 5.9 0 1 0 11.8 0a5.9 5.9 0 1 0 -11.8 0ZM973.8 526.1a5.9 5.9 0 1 0 11.8 0a5.9 5.9 0 1 0 -11.8 0ZM974.9 530.8a5.9 5.9 0 1 0 11.8 0a5.9 5.9 0 1 0 -11.8 0ZM974.7 532.2a5.9 5.9 0 1 0 11.8 0a5.9 5.9 0 1 0 -11.8 0ZM975.1 532.7a5.9 5.9 0 1 0 11.8 0a5.9 5.9 0 1 0 -11.8 0ZM974.4 532.9a5.9 5.9 0 1 0 11.8 0a5.9 5.9 0 1 0 -11.8 0ZM975.6 534.9a5.9 5.9 0 1 0 11.8 0a5.9 5.9 0 1 0 -11.8 0ZM973.9 536.0a5.9 5.9 0 1 0 11.8 0a5.9 5.9 0 1 0 -11.8 0ZM974.8 537.3a5.9 5.9 0 1 0 11.8 0a5.9 5.9 0 1 0 -11.8 0ZM975.1 548.0a5.9 5.9 0 1 0 11.8 0a5.9 5.9 0 1 0 -11.8 0Z" fill="#ff00ff" stroke="#ff00ff" stroke-width="0.6"/>
<path d="M553.1 225.5a5.9 5.9 0 1 0 11.8 0a5.9 5.9 0 1 0 -11.8 0ZM553.3 225.9a5.9 5.9 0 1 0 11.8 0a5.9 5.9 0 1 0 -11.8 0ZM554.0 227.3a5.9 5.9 0 1 0 11.8 0a5.9 5.9 0 1 0 -11.8 0ZM553.1 232.1a5.9 5.9 0 1 0 11.8 0a5.9 5.9 0 1 0 -11.8 0ZM553.2 232.2a5.9 5.9 0 1 0 11.8 0a5.9 5.9 0 1 0 -11.8 0ZM553.4 232.8a5.9 5.9 0 1 0 11.8 0a5.9 5.9 0 1 0 -11.8 0ZM552.6 235.9a5.9 5.9 0 1 0 11.8 0a5.9 5.9 0 1 0 -11.8 0ZM553.2 238.7a5.9 5.9 0 1 0 11.8 0a5.9 5.9 0 1 0 -11.8 0ZM553.4 238.8a5.9 5.9 0 1 0 11.8 0a5.9 5.9 0 1 0 -11.8 0ZM553.7 240.7a5.9 5.9 0 1 0 11.8 0a5.9 5.9 0 1 0 -11.8 0ZM552.5 242.4a5.9 5.9 0 1 0 11.8 0a5.9 5.9 0 1 0 -11.8 0ZM552.8 243.0a5.9 5.9 0 1 0 11.8 0a5.9 5.9 0 1 0 -11.8 0ZM552.5 248.9a5.9 5.9 0 1 0 11.8 0a5.9 5.9 0 1 0 -11.8 0ZM553.8 248.9a5.9 5.9 0 1 0 11.8 0a5.9 5.9 0 1 0 -11.8 0ZM553.5 253.4a5.9 5.9 0 1 0 11.8 0a5.9 5.9 0 1 0 -11.8 0ZM552.4 253.5a5.9 5.9 0 1 0 11.8 0a5.9 5.9 0 1 0 -11.8 0ZM553.6 272.0a5.9 5.9 0 1 0 11.8 0a5.9 5.9 0 1 0 -11.8 0ZM553.4 273.6a5.9 5.9 0 1 0 11.8 0a5.9 5.9 0 1 0 -11.8 0ZM590.7 230.7a5.9 5.9 0 1 0 11.8 0a5.9 5.9 0 1 0 -11.8 0ZM590.6 243.0a5.9 5.9 0 1 0 11.8 0a5.9 5.9 0 1 0 -11.8 0ZM589.8 246.7a5.9 5.9 0 1 0 11.8 0a5.9 5.9 0 1 0 -11.8 0ZM589.5 248.2a5.9 5.9 0 1 0 11.8 0a5.9 5.9 0 1 0 -11.8 0ZM590.5 251.2a5.9 5.9 0 1 0 11.8 0a5.9 5.9 0 1 0 -11.8 0ZM589.6 254.4a5.9 5.9 0 1 0 11.8 0a5.9 5.9 0 1 0 -11.8 0ZM589.8 257.7a5.9 5.9 0 1 0 11.8 0a5.9 5.9 0 1 0 -11.8 0ZM589.9 258.0a5.9 5.9 0 1 0 11.8 0a5.9 5.9 0 1 0 -11.8 0ZM589.6 259.6a5.9 5.9 0 1 0 11.8 0a5.9 5.9 0 1 0 -11.8 0ZM590.3 259.9a5.9 5.9 0 1 0 11.8 0a5.9 5.9 0 1 0 -11.8 0ZM590.3 262.3a5.9 5.9 0 1 0 11.8 0a5.9 5.9 0 1 0 -11.8 0ZM591.0 266.8a5.9 5.9 0 1 0 11.8 0a5.9 5.9 0 1 0 -11.8 0ZM590.4 270.1a5.9 5.9 0 1 0 11.8 0a5.9 5.9 0 1 0 -11.8 0ZM590.7 273.4a5.9 5.9 0 1 0 11.8 0a5.9 5.9 0 1 0 -11.8 0ZM590.4 276.4a5.9 5.9 0 1 0 11.8 0a5.9 5.9 0 1 0 -11.8 0ZM590.7 276.4a5.9 5.9 0 1 0 11.8 0a5.9 5.9 0 1 0 -11.8 0ZM590.3 278.0a5.9 5.9 0 1 0 11.8 0a5.9 5.9 0 1 0 -11.8 0ZM590.0 278.6a5.9 5.9 0 1 0 11.8 0a5.9 5.9 0 1 0 -11.8 0ZM591.3 279.7a5.9 5.9 0 1 0 11.8 0a5.9 5.9 0 1 0 -11.8 0ZM591.3 281.0a5.9 5.9 0 1 0 11.8 0a5.9 5.9 0 1 0 -11.8 0ZM630.5 318.7a5.9 5.9 0 1 0 11.8 0a5.9 5.9 0 1 0 -11.8 0ZM630.3 327.0a5.9 5.9 0 1 0 11.8 0a5.9 5.9 0 1 0 -11.8 0ZM629.6 328.7a5.9 5.9 0 1 0 11.8 0a5.9 5.9 0 1 0 -11.8 0ZM629.4 328.7a5.9 5.9 0 1 0 11.8 0a5.9 5.9 0 1 0 -11.8 0ZM629.5 329.4a5.9 5.9 0 1 0 11.8 0a5.9 5.9 0 1 0 -11.8 0ZM629.1 330.4a5.9 5.9 0 1 0 11.8 0a5.9 5.9 0 1 0 -11.8 0ZM630.4 332.7a5.9 5.9 0 1 0 11.8 0a5.9 5.9 0 1 0 -11.8 0ZM629.7 333.2a5.9 5.9 0 1 0 11.8 0a5.9 5.9 0 1 0 -11.8 0ZM630.5 335.0a5.9 5.9 0 1 0 11.8 0a5.9 5.9 0 1 0 -11.8 0ZM629.7 337.8a5.9 5.9 0 1 0 11.8 0a5.9 5.9 0 1 0 -11.8 0ZM630.7 338.2a5.9 5.9 0 1 0 11.8 0a5.9 5.9 0 1 0 -11.8 0ZM630.5 339.6a5.9 5.9 0 1 0 11.8 0a5.9 5.9 0 1 0 -11.8 0ZM629.0 340.3a5.9 5.9 0 1 0 11.8 0a5.9 5.9 0 1 0 -11.8 0ZM629.4 342.6a5.9 5.9 0 1 0 11.8 0a5.9 5.9 0 1 0 -11.8 0ZM630.6 348.6a5.9 5.9 0 1 0 11.8 0a5.9 5.9 0 1 0 -11.8 0ZM629.8 348.8a5.9 5.9 0 1 0 11.8 0a5.9 5.9 0 1 0 -11.8 0ZM630.8 349.2a5.9 5.9 0 1 0 11.8 0a5.9 5.9 0 1 0 -11.8 0ZM629.7 349.2a5.9 5.9 0 1 0 11.8 0a5.9 5.9 0 1 0 -11.8 0ZM629.1 350.4a5.9 5.9 0 1 0 11.8 0a5.9 5.9 0 1 0 -11.8 0ZM630.1 352.5a5.9 5.9 0 1 0 11.8 0a5.9 5.9 0 1 0 -11.8 0ZM630.4 352.9a5.9 5.9 0 1 0 11.8 0a5.9 5.9 0 1 0 -11.8 0ZM629.5 354.1a5.9 5.9 0 1 0 11.8 0a5.9 5.9 0 1 0 -11.8 0ZM629.2 354.3a5.9 5.9 0 1 0 11.8 0a5.9 5.9 0 1 0 -11.8 0ZM629.6 356.2a5.9 5.9 0 1 0 11.8 0a5.9 5.9 0 1 0 -11.8 0ZM630.7 357.4a5.9 5.9 0 1 0 11.8 0a5.9 5.9 0 1 0 -11.8 0ZM630.4 358.6a5.9 5.9 0 1 0 11.8 0a5.9 5.9 0 1 0 -11.8 0ZM629.2 359.4a5.9 5.9 0 1 0 11.8 0a5.9 5.9 0 1 0 -11.8 0ZM629.4 359.5a5.9 5.9 0 1 0 11.8 0a5.9 5.9 0 1 0 -11.8 0ZM629.2 359.7a5.9 5.9 0 1 0 11.8 0a5.9 5.9 0 1 0 -11.8 0ZM629.1 360.2a5.9 5.9 0 1 0 11.8 0a5.9 5.9 0 1 0 -11.8 0ZM630.4 361.4a5.9 5.9 0 1 0 11.8 0a5.9 5.9 0 1 0 -11.8 0ZM629.3 361.4a5.9 5.9 0 1 0 11.8 0a5.9 5.9 0 1 0 -11.8 0ZM630.0 362.3a5.9 5.9 0 1 0 11.8 0a5.9 5.9 0 1 0 -11.8 0ZM629.8 363.7a5.9 5.9 0 1 0 11.8 0a5.9 5.9 0 1 0 -11.8 0ZM629.3 364.6a5.9 5.9 0 1 0 11.8 0a5.9 5.9 0 1 0 -11.8 0ZM630.3 364.7a5.9 5.9 0 1 0 11.8 0a5.9 5.9 0 1 0 -11.8 0ZM629.2 365.0a5.9 5.9 0 1 0 11.8 0a5.9 5.9 0 1 0 -11.8 0ZM630.2 368.5a5.9 5.9 0 1 0 11.8 0a5.9 5.9 0 1 0 -11.8 0ZM629.2 372.5a5.9 5.9 0 1 0 11.8 0a5.9 5.9 0 1 0 -11.8 0ZM629.8 375.0a5.9 5.9 0 1 0 11.8 0a5.9 5.9 0 1 0 -11.8 0ZM629.4 379.0a5.9 5.9 0 1 0 11.8 0a5.9 5.9 0 1 0 -11.8 0ZM629.5 394.2a5.9 5.9 0 1 0 11.8 0a5.9 5.9 0 1 0 -11.8 0ZM862.3 497.0a5.9 5.9 0 1 0 11.8 0a5.9 5.9 0 1 0 -11.8 0ZM862.0 503.0a5.9 5.9 0 1 0 11.8 0a5.9 5.9 0 1 0 -11.8 0ZM861.1 509.0a5.9 5.9 0 1 0 11.8 0a5.9 5.9 0 1 0 -11.8 0ZM862.2 515.0a5.9 5.9 0 1 0 11.8 0a5.9 5.9 0 1 0 -11.8 0ZM861.0 521.0a5.9 5.9 0 1 0 11.8 0a5.9 5.9 0 1 0 -11.8 0ZM861.3 527.0a5.9 5.9 0 1 0 11.8 0a5.9 5.9 0 1 0 -11.8 0ZM862.1 532.1a5.9 5.9 0 1 0 11.8 0a5.9 5.9 0 1 0 -11.8 0ZM861.8 537.0a5.9 5.9 0 1 0 11.8 0a5.9 5.9 0 1 0 -11.8 0ZM860.8 542.4a5.9 5.9 0 1 0 11.8 0a5.9 5.9 0 1 0 -11.8 0ZM899.8 452.0a5.9 5.9 0 1 0 11.8 0a5.9 5.9 0 1 0 -11.8 0ZM898.4 460.0a5.9 5.9 0 1 0 11.8 0a5.9 5.9 0 1 0 -11.8 0ZM898.5 468.0a5.9 5.9 0 1 0 11.8 0a5.9 5.9 0 1 0 -11.8 0ZM899.4 476.0a5.9 5.9 0 1 0 11.8 0a5.9 5.9 0 1 0 -11.8 0ZM898.6 484.0a5.9 5.9 0 1 0 11.8 0a5.9 5.9 0 1 0 -11.8 0ZM898.5 491.0a5.9 5.9 0 1 0 11.8 0a5.9 5.9 0 1 0 -11.8 0ZM898.1 494.7a5.9 5.9 0 1 0 11.8 0a5.9 5.9 0 1 0 -11.8 0ZM898.2 508.2a5.9 5.9 0 1 0 11.8 0a5.9 5.9 0 1 0 -11.8 0ZM938.3 455.0a5.9 5.9 0 1 0 11.8 0a5.9 5.9 0 1 0 -11.8 0ZM937.7 463.0a5.9 5.9 0 1 0 11.8 0a5.9 5.9 0 1 0 -11.8 0ZM938.4 471.0a5.9 5.9 0 1 0 11.8 0a5.9 5.9 0 1 0 -11.8 0ZM938.0 479.0a5.9 5.9 0 1 0 11.8 0a5.9 5.9 0 1 0 -11.8 0ZM938.1 487.0a5.9 5.9 0 1 0 11.8 0a5.9 5.9 0 1 0 -11.8 0ZM939.0 493.0a5.9 5.9 0 1 0 11.8 0a5.9 5.9 0 1 0 -11.8 0ZM938.2 501.0a5.9 5.9 0 1 0 11.8 0a5.9 5.9 0 1 0 -11.8 0ZM974.8 505.0a5.9 5.9 0 1 0 11.8 0a5.9 5.9 0 1 0 -11.8 0ZM975.4 513.0a5.9 5.9 0 1 0 11.8 0a5.9 5.9 0 1 0 -11.8 0ZM974.1 521.0a5.9 5.9 0 1 0 11.8 0a5.9 5.9 0 1 0 -11.8 0ZM974.1 529.0a5.9 5.9 0 1 0 11.8 0a5.9 5.9 0 1 0 -11.8 0ZM975.4 537.0a5.9 5.9 0 1 0 11.8 0a5.9 5.9 0 1 0 -11.8 0ZM975.3 545.0a5.9 5.9 0 1 0 11.8 0a5.9 5.9 0 1 0 -11.8 0ZM974.2 553.3a5.9 5.9 0 1 0 11.8 0a5.9 5.9 0 1 0 -11.8 0ZM974.1 571.9a5.9 5.9 0 1 0 11.8 0a5.9 5.9 0 1 0 -11.8 0ZM861.9 499.0a5.9 5.9 0 1 0 11.8 0a5.9 5.9 0 1 0 -11.8 0ZM862.3 500.0a5.9 5.9 0 1 0 11.8 0a5.9 5.9 0 1 0 -11.8 0ZM861.0 501.5a5.9 5.9 0 1 0 11.8 0a5.9 5.9 0 1 0 -11.8 0ZM862.3 505.3a5.9 5.9 0 1 0 11.8 0a5.9 5.9 0 1 0 -11.8 0ZM862.2 508.9a5.9 5.9 0 1 0 11.8 0a5.9 5.9 0 1 0 -11.8 0ZM861.7 512.1a5.9 5.9 0 1 0 11.8 0a5.9 5.9 0 1 0 -11.8 0ZM861.4 515.2a5.9 5.9 0 1 0 11.8 0a5.9 5.9 0 1 0 -11.8 0ZM860.8 518.2a5.9 5.9 0 1 0 11.8 0a5.9 5.9 0 1 0 -11.8 0ZM860.7 518.5a5.9 5.9 0 1 0 11.8 0a5.9 5.9 0 1 0 -11.8 0ZM862.3 527.2a5.9 5.9 0 1 0 11.8 0a5.9 5.9 0 1 0 -11.8 0ZM861.0 530.4a5.9 5.9 0 1 0 11.8 0a5.9 5.9 0 1 0 -11.8 0ZM861.9 531.0a5.9 5.9 0 1 0 11.8 0a5.9 5.9 0 1 0 -11.8 0ZM861.1 531.0a5.9 5.9 0 1 0 11.8 0a5.9 5.9 0 1 0 -11.8 0ZM899.5 454.0a5.9 5.9 0 1 0 11.8 0a5.9 5.9 0 1 0 -11.8 0ZM899.1 455.4a5.9 5.9 0 1 0 11.8 0a5.9 5.9 0 1 0 -11.8 0ZM898.5 459.3a5.9 5.9 0 1 0 11.8 0a5.9 5.9 0 1 0 -11.8 0ZM898.3 464.7a5.9 5.9 0 1 0 11.8 0a5.9 5.9 0 1 0 -11.8 0ZM899.3 466.8a5.9 5.9 0 1 0 11.8 0a5.9 5.9 0 1 0 -11.8 0ZM898.1 469.7a5.9 5.9 0 1 0 11.8 0a5.9 5.9 0 1 0 -11.8 0ZM898.4 471.7a5.9 5.9 0 1 0 11.8 0a5.9 5.9 0 1 0 -11.8 0ZM899.0 474.3a5.9 5.9 0 1 0 11.8 0a5.9 5.9 0 1 0 -11.8 0ZM899.5 475.9a5.9 5.9 0 1 0 11.8 0a5.9 5.9 0 1 0 -11.8 0ZM899.1 483.5a5.9 5.9 0 1 0 11.8 0a5.9 5.9 0 1 0 -11.8 0ZM898.5 484.5a5.9 5.9 0 1 0 11.8 0a5.9 5.9 0 1 0 -11.8 0ZM899.7 486.6a5.9 5.9 0 1 0 11.8 0a5.9 5.9 0 1 0 -11.8 0ZM898.4 488.0a5.9 5.9 0 1 0 11.8 0a5.9 5.9 0 1 0 -11.8 0ZM937.3 457.0a5.9 5.9 0 1 0 11.8 0a5.9 5.9 0 1 0 -11.8 0ZM937.8 464.8a5.9 5.9 0 1 0 11.8 0a5.9 5.9 0 1 0 -11.8 0ZM938.1 466.9a5.9 5.9 0 1 0 11.8 0a5.9 5.9 0 1 0 -11.8 0ZM937.4 471.2a5.9 5.9 0 1 0 11.8 0a5.9 5.9 0 1 0 -11.8 0ZM937.6 473.7a5.9 5.9 0 1 0 11.8 0a5.9 5.9 0 1 0 -11.8 0ZM938.0 474.2a5.9 5.9 0 1 0 11.8 0a5.9 5.9 0 1 0 -11.8 0ZM938.3 475.1a5.9 5.9 0 1 0 11.8 0a5.9 5.9 0 1 0 -11.8 0ZM937.5 475.5a5.9 5.9 0 1 0 11.8 0a5.9 5.9 0 1 0 -11.8 0ZM938.0 477.5a5.9 5.9 0 1 0 11.8 0a5.9 5.9 0 1 0 -11.8 0ZM938.9 480.8a5.9 5.9 0 1 0 11.8 0a5.9 5.9 0 1 0 -11.8 0ZM939.1 488.0a5.9 5.9 0 1 0 11.8 0a5.9 5.9 0 1 0 -11.8 0ZM938.5 489.3a5.9 5.9 0 1 0 11.8 0a5.9 5.9 0 1 0 -11.8 0ZM938.5 490.0a5.9 5.9 0 1 0 11.8 0a5.9 5.9 0 1 0 -11.8 0ZM974.9 507.0a5.9 5.9 0 1 0 11.8 0a5.9 5.9 0 1 0 -11.8 0ZM974.1 507.5a5.9 5.9 0 1 0 11.8 0a5.9 5.9 0 1 0 -11.8 0ZM973.9 507.8a5.9 5.9 0 1 0 11.8 0a5.9 5.9 0 1 0 -11.8 0ZM973.8 507.9a5.9 5.9 0 1 0 11.8 0a5.9 5.9 0 1 0 -11.8 0ZM975.4 509.5a5.9 5.9 0 1 0 11.8 0a5.9 5.9 0 1 0 -11.8 0ZM975.1 521.5a5.9 5.9 0 1 0 11.8 0a5.9 5.9 0 1 0 -11.8 0ZM975.5 524.0a5.9 5.9 0 1 0 11.8 0a5.9 5.9 0 1 0 -11.8 0ZM973.8 526.1a5.9 5.9 0 1 0 11.8 0a5.9 5.9 0 1 0 -11.8 0ZM974.9 530.8a5.9 5.9 0 1 0 11.8 0a5.9 5.9 0 1 0 -11.8 0ZM974.7 532.2a5.9 5.9 0 1 0 11.8 0a5.9 5.9 0 1 0 -11.8 0ZM975.1 532.7a5.9 5.9 0 1 0 11.8 0a5.9 5.9 0 1 0 -11.8 0ZM974.4 532.9a5.9 5.9 0 1 0 11.8 0a5.9 5.9 0 1 0 -11.8 0ZM975.6 534.9a5.9 5.9 0 1 0 11.8 0a5.9 5.9 0 1 0 -11.8 0ZM973.9 536.0a5.9 5.9 0 1 0 11.8 0a5.9 5.9 0 1 0 -11.8 0ZM974.8 537.3a5.9 5.9 0 1 0 11.8 0a5.9 5.9 0 1 0 -11.8 0ZM975.1 548.0a5.9 5.9 0 1 0 11.8 0a5.9 5.9 0 1 0 -11.8 0Z" fill="none" stroke="#000" stroke-width="1.45"/>
<path d="M559.1 143.4L559.1 168.8M537.4 143.4L580.8 143.4M537.4 168.8L580.8 168.8M596.3 143.7L596.3 168.5M574.6 143.7L618.0 143.7M574.6 168.5L618.0 168.5M635.8 219.2L635.8 251.8M614.1 219.2L657.5 219.2M614.1 251.8L657.5 251.8M867.4 431.0L867.4 486.6M845.7 431.0L889.1 431.0M845.7 486.6L889.1 486.6M904.8 418.1L904.8 459.1M883.1 418.1L926.5 418.1M883.1 459.1L926.5 459.1M944.1 418.4L944.1 464.4M922.4 418.4L965.8 418.4M922.4 464.4L965.8 464.4M980.6 455.8L980.6 509.4M958.9 455.8L1002.3 455.8M958.9 509.4L1002.3 509.4" stroke="#000" stroke-width="1.30" fill="none"/>
<path d="M580.8 156.1L576.7 168.9L565.8 176.7L552.4 176.7L541.5 168.9L537.4 156.1L541.5 143.3L552.4 135.5L565.8 135.5L576.7 143.3ZM618.0 156.1L613.9 168.9L603.0 176.7L589.6 176.7L578.7 168.9L574.6 156.1L578.7 143.3L589.6 135.5L603.0 135.5L613.9 143.3ZM657.5 235.5L653.4 248.3L642.5 256.1L629.1 256.1L618.2 248.3L614.1 235.5L618.2 222.7L629.1 214.9L642.5 214.9L653.4 222.7ZM889.1 458.8L885.0 471.6L874.1 479.4L860.7 479.4L849.8 471.6L845.7 458.8L849.8 446.0L860.7 438.2L874.1 438.2L885.0 446.0ZM926.5 438.6L922.4 451.4L911.5 459.2L898.1 459.2L887.2 451.4L883.1 438.6L887.2 425.8L898.1 418.0L911.5 418.0L922.4 425.8ZM965.8 441.4L961.7 454.2L950.8 462.0L937.4 462.0L926.5 454.2L922.4 441.4L926.5 428.6L937.4 420.8L950.8 420.8L961.7 428.6ZM1002.3 482.6L998.2 495.4L987.3 503.2L973.9 503.2L963.0 495.4L958.9 482.6L963.0 469.8L973.9 462.0L987.3 462.0L998.2 469.8Z" fill="#ff0000" stroke="#000" stroke-width="1.30" stroke-linejoin="round"/>
<path d="M981.3 438.0L981.3 482.0M974.9 438.0L987.7 438.0M974.9 482.0L987.7 482.0M981.0 456.0L981.0 500.0M974.6 456.0L987.4 456.0M974.6 500.0L987.4 500.0M981.0 467.0L981.0 511.0M974.6 467.0L987.4 467.0M974.6 511.0L987.4 511.0M981.1 478.0L981.1 522.0M974.7 478.0L987.5 478.0M974.7 522.0L987.5 522.0M944.8 433.0L944.8 473.0M938.4 433.0L951.2 433.0M938.4 473.0L951.2 473.0M943.8 440.0L943.8 480.0M937.4 440.0L950.2 440.0M937.4 480.0L950.2 480.0M559.4 117.4L559.4 139.2M553.0 117.4L565.8 117.4M553.0 139.2L565.8 139.2M559.8 126.4L559.8 148.2M553.4 126.4L566.2 126.4M553.4 148.2L566.2 148.2M559.8 131.3L559.8 153.1M553.4 131.3L566.2 131.3M553.4 153.1L566.2 153.1M559.0 136.1L559.0 157.9M552.6 136.1L565.4 136.1M552.6 157.9L565.4 157.9M559.6 137.6L559.6 159.4M553.2 137.6L566.0 137.6M553.2 159.4L566.0 159.4M559.8 142.1L559.8 163.9M553.4 142.1L566.2 142.1M553.4 163.9L566.2 163.9M559.2 143.3L559.2 165.1M552.8 143.3L565.6 143.3M552.8 165.1L565.6 165.1M559.3 143.6L559.3 165.4M552.9 143.6L565.7 143.6M552.9 165.4L565.7 165.4M558.9 143.8L558.9 165.6M552.5 143.8L565.3 143.8M552.5 165.6L565.3 165.6M559.2 144.8L559.2 166.6M552.8 144.8L565.6 144.8M552.8 166.6L565.6 166.6M559.3 145.0L559.3 166.8M552.9 145.0L565.7 145.0M552.9 166.8L565.7 166.8M558.3 145.2L558.3 167.0M551.9 145.2L564.7 145.2M551.9 167.0L564.7 167.0M559.4 147.1L559.4 168.9M553.0 147.1L565.8 147.1M553.0 168.9L565.8 168.9M560.0 150.3L560.0 172.1M553.6 150.3L566.4 150.3M553.6 172.1L566.4 172.1M559.8 150.4L559.8 172.2M553.4 150.4L566.2 150.4M553.4 172.2L566.2 172.2M559.5 152.3L559.5 174.1M553.1 152.3L565.9 152.3M553.1 174.1L565.9 174.1M558.9 159.2L558.9 181.0M552.5 159.2L565.3 159.2M552.5 181.0L565.3 181.0M559.5 160.1L559.5 181.9M553.1 160.1L565.9 160.1M553.1 181.9L565.9 181.9M559.2 161.1L559.2 182.9M552.8 161.1L565.6 161.1M552.8 182.9L565.6 182.9M559.0 163.7L559.0 185.5M552.6 163.7L565.4 163.7M552.6 185.5L565.4 185.5M596.9 125.8L596.9 145.0M590.5 125.8L603.3 125.8M590.5 145.0L603.3 145.0M595.6 131.0L595.6 149.0M589.2 131.0L602.0 131.0M589.2 149.0L602.0 149.0M596.8 134.0L596.8 154.0M590.4 134.0L603.2 134.0M590.4 154.0L603.2 154.0M595.5 139.0L595.5 157.0M589.1 139.0L601.9 139.0M589.1 157.0L601.9 157.0M596.5 142.5L596.5 161.5M590.1 142.5L602.9 142.5M590.1 161.5L602.9 161.5M596.3 146.0L596.3 166.0M589.9 146.0L602.7 146.0M589.9 166.0L602.7 166.0M595.8 149.4L595.8 172.6M589.4 149.4L602.2 149.4M589.4 172.6L602.2 172.6M596.7 156.5L596.7 173.5M590.3 156.5L603.1 156.5M590.3 173.5L603.1 173.5M596.3 163.7L596.3 173.7M589.9 163.7L602.7 163.7M589.9 173.7L602.7 173.7M596.5 134.0L596.5 150.0M590.1 134.0L602.9 134.0M590.1 150.0L602.9 150.0M597.1 134.6L597.1 150.6M590.7 134.6L603.5 134.6M590.7 150.6L603.5 150.6M595.9 139.3L595.9 155.3M589.5 139.3L602.3 139.3M589.5 155.3L602.3 155.3M595.4 139.7L595.4 155.7M589.0 139.7L601.8 139.7M589.0 155.7L601.8 155.7M595.9 141.4L595.9 157.4M589.5 141.4L602.3 141.4M589.5 157.4L602.3 157.4M596.6 147.7L596.6 163.7M590.2 147.7L603.0 147.7M590.2 163.7L603.0 163.7M595.8 151.6L595.8 167.6M589.4 151.6L602.2 151.6M589.4 167.6L602.2 167.6M595.7 152.5L595.7 168.5M589.3 152.5L602.1 152.5M589.3 168.5L602.1 168.5M597.0 153.3L597.0 169.3M590.6 153.3L603.4 153.3M590.6 169.3L603.4 169.3M596.6 158.0L596.6 174.0M590.2 158.0L603.0 158.0M590.2 174.0L603.0 174.0M596.9 166.8L596.9 199.8M590.5 166.8L603.3 166.8M590.5 199.8L603.3 199.8M597.0 172.0L597.0 196.6M590.6 172.0L603.4 172.0M590.6 196.6L603.4 196.6M635.5 191.0L635.5 216.0M629.1 191.0L641.9 191.0M629.1 216.0L641.9 216.0M636.1 194.7L636.1 217.3M629.7 194.7L642.5 194.7M629.7 217.3L642.5 217.3M635.3 198.4L635.3 219.6M628.9 198.4L641.7 198.4M628.9 219.6L641.7 219.6M635.7 201.0L635.7 225.0M629.3 201.0L642.1 201.0M629.3 225.0L642.1 225.0M636.4 205.0L636.4 229.0M630.0 205.0L642.8 205.0M630.0 229.0L642.8 229.0M636.5 209.0L636.5 233.0M630.1 209.0L642.9 209.0M630.1 233.0L642.9 233.0M636.5 213.0L636.5 237.0M630.1 213.0L642.9 213.0M630.1 237.0L642.9 237.0M635.6 217.0L635.6 241.0M629.2 217.0L642.0 217.0M629.2 241.0L642.0 241.0M635.9 221.0L635.9 245.0M629.5 221.0L642.3 221.0M629.5 245.0L642.3 245.0M635.5 225.0L635.5 249.0M629.1 225.0L641.9 225.0M629.1 249.0L641.9 249.0M635.1 228.0L635.1 254.0M628.7 228.0L641.5 228.0M628.7 254.0L641.5 254.0M635.8 233.0L635.8 257.0M629.4 233.0L642.2 233.0M629.4 257.0L642.2 257.0M636.4 242.0L636.4 256.0M630.0 242.0L642.8 242.0M630.0 256.0L642.8 256.0M636.4 202.0L636.4 222.0M630.0 202.0L642.8 202.0M630.0 222.0L642.8 222.0M636.2 205.7L636.2 225.7M629.8 205.7L642.6 205.7M629.8 225.7L642.6 225.7M636.6 208.1L636.6 228.1M630.2 208.1L643.0 208.1M630.2 228.1L643.0 228.1M635.4 208.7L635.4 228.7M629.0 208.7L641.8 208.7M629.0 228.7L641.8 228.7M635.2 213.6L635.2 233.6M628.8 213.6L641.6 213.6M628.8 233.6L641.6 233.6M635.7 214.0L635.7 234.0M629.3 214.0L642.1 214.0M629.3 234.0L642.1 234.0M635.4 214.1L635.4 234.1M629.0 214.1L641.8 214.1M629.0 234.1L641.8 234.1M635.3 217.7L635.3 237.7M628.9 217.7L641.7 217.7M628.9 237.7L641.7 237.7M635.6 217.8L635.6 237.8M629.2 217.8L642.0 217.8M629.2 237.8L642.0 237.8M636.0 218.2L636.0 238.2M629.6 218.2L642.4 218.2M629.6 238.2L642.4 238.2M635.8 225.4L635.8 245.4M629.4 225.4L642.2 225.4M629.4 245.4L642.2 245.4M635.5 227.1L635.5 247.1M629.1 227.1L641.9 227.1M629.1 247.1L641.9 247.1M636.4 232.0L636.4 252.0M630.0 232.0L642.8 232.0M630.0 252.0L642.8 252.0M636.7 232.8L636.7 252.8M630.3 232.8L643.1 232.8M630.3 252.8L643.1 252.8M635.7 233.9L635.7 253.9M629.3 233.9L642.1 233.9M629.3 253.9L642.1 253.9M635.0 238.0L635.0 258.0M628.6 238.0L641.4 238.0M628.6 258.0L641.4 258.0M635.0 251.2L635.0 285.0M628.6 251.2L641.4 251.2M628.6 285.0L641.4 285.0M868.1 395.2L868.1 446.4M861.7 395.2L874.5 395.2M861.7 446.4L874.5 446.4M866.6 404.4L866.6 448.4M860.2 404.4L873.0 404.4M860.2 448.4L873.0 448.4M867.8 424.8L867.8 474.8M861.4 424.8L874.2 424.8M861.4 474.8L874.2 474.8M867.5 427.5L867.5 477.5M861.1 427.5L873.9 427.5M861.1 477.5L873.9 477.5M867.1 430.0L867.1 480.0M860.7 430.0L873.5 430.0M860.7 480.0L873.5 480.0M867.9 432.5L867.9 482.5M861.5 432.5L874.3 432.5M861.5 482.5L874.3 482.5M866.5 435.0L866.5 485.0M860.1 435.0L872.9 435.0M860.1 485.0L872.9 485.0M866.7 437.5L866.7 487.5M860.3 437.5L873.1 437.5M860.3 487.5L873.1 487.5M867.3 439.8L867.3 489.8M860.9 439.8L873.7 439.8M860.9 489.8L873.7 489.8M866.5 453.8L866.5 503.8M860.1 453.8L872.9 453.8M860.1 503.8L872.9 503.8M868.0 466.0L868.0 516.0M861.6 466.0L874.4 466.0M861.6 516.0L874.4 516.0M866.9 471.6L866.9 521.6M860.5 471.6L873.3 471.6M860.5 521.6L873.3 521.6M866.8 476.0L866.8 550.8M860.4 476.0L873.2 476.0M860.4 550.8L873.2 550.8M866.6 497.6L866.6 548.0M860.2 497.6L873.0 497.6M860.2 548.0L873.0 548.0M905.0 386.6L905.0 430.8M898.6 386.6L911.4 386.6M898.6 430.8L911.4 430.8M904.7 399.3L904.7 431.1M898.3 399.3L911.1 399.3M898.3 431.1L911.1 431.1M905.0 401.2L905.0 442.4M898.6 401.2L911.4 401.2M898.6 442.4L911.4 442.4M905.1 407.4L905.1 447.4M898.7 407.4L911.5 407.4M898.7 447.4L911.5 447.4M905.4 413.0L905.4 453.0M899.0 413.0L911.8 413.0M899.0 453.0L911.8 453.0M905.6 416.7L905.6 456.7M899.2 416.7L912.0 416.7M899.2 456.7L912.0 456.7M905.1 422.3L905.1 462.3M898.7 422.3L911.5 422.3M898.7 462.3L911.5 462.3M904.3 429.8L904.3 469.8M897.9 429.8L910.7 429.8M897.9 469.8L910.7 469.8M904.8 439.2L904.8 479.2M898.4 439.2L911.2 439.2M898.4 479.2L911.2 479.2M904.2 452.3L904.2 492.3M897.8 452.3L910.6 452.3M897.8 492.3L910.6 492.3M903.9 445.8L903.9 508.2M897.5 445.8L910.3 445.8M897.5 508.2L910.3 508.2M944.0 392.8L944.0 437.6M937.6 392.8L950.4 392.8M937.6 437.6L950.4 437.6M944.5 394.6L944.5 443.4M938.1 394.6L950.9 394.6M938.1 443.4L950.9 443.4M943.5 401.2L943.5 468.6M937.1 401.2L949.9 401.2M937.1 468.6L949.9 468.6M943.7 418.5L943.7 462.5M937.3 418.5L950.1 418.5M937.3 462.5L950.1 462.5M943.8 424.1L943.8 468.1M937.4 424.1L950.2 424.1M937.4 468.1L950.2 468.1M944.5 444.7L944.5 488.7M938.1 444.7L950.9 444.7M938.1 488.7L950.9 488.7M944.1 457.1L944.1 508.1M937.7 457.1L950.5 457.1M937.7 508.1L950.5 508.1M980.8 408.7L980.8 460.3M974.4 408.7L987.2 408.7M974.4 460.3L987.2 460.3M981.1 419.9L981.1 470.3M974.7 419.9L987.5 419.9M974.7 470.3L987.5 470.3M980.4 429.5L980.4 479.5M974.0 429.5L986.8 429.5M974.0 479.5L986.8 479.5M981.1 441.7L981.1 491.7M974.7 441.7L987.5 441.7M974.7 491.7L987.5 491.7M981.3 447.3L981.3 497.3M974.9 447.3L987.7 447.3M974.9 497.3L987.7 497.3M979.9 458.5L979.9 508.5M973.5 458.5L986.3 458.5M973.5 508.5L986.3 508.5M981.4 469.7L981.4 519.7M975.0 469.7L987.8 469.7M975.0 519.7L987.8 519.7M981.0 480.9L981.0 530.9M974.6 480.9L987.4 480.9M974.6 530.9L987.4 530.9M979.9 486.5L979.9 536.5M973.5 486.5L986.3 486.5M973.5 536.5L986.3 536.5M980.5 482.6L980.5 548.0M974.1 482.6L986.9 482.6M974.1 548.0L986.9 548.0M980.8 499.3L980.8 561.3M974.4 499.3L987.2 499.3M974.4 561.3L987.2 561.3" stroke="#000" stroke-width="1.30" fill="none"/>
<path d="M975.4 460.0a5.9 5.9 0 1 0 11.8 0a5.9 5.9 0 1 0 -11.8 0ZM975.1 478.0a5.9 5.9 0 1 0 11.8 0a5.9 5.9 0 1 0 -11.8 0ZM975.1 489.0a5.9 5.9 0 1 0 11.8 0a5.9 5.9 0 1 0 -11.8 0ZM975.2 500.0a5.9 5.9 0 1 0 11.8 0a5.9 5.9 0 1 0 -11.8 0ZM938.9 453.0a5.9 5.9 0 1 0 11.8 0a5.9 5.9 0 1 0 -11.8 0ZM937.9 460.0a5.9 5.9 0 1 0 11.8 0a5.9 5.9 0 1 0 -11.8 0ZM553.5 128.3a5.9 5.9 0 1 0 11.8 0a5.9 5.9 0 1 0 -11.8 0ZM553.9 137.3a5.9 5.9 0 1 0 11.8 0a5.9 5.9 0 1 0 -11.8 0ZM553.9 142.2a5.9 5.9 0 1 0 11.8 0a5.9 5.9 0 1 0 -11.8 0ZM553.1 147.0a5.9 5.9 0 1 0 11.8 0a5.9 5.9 0 1 0 -11.8 0ZM553.7 148.5a5.9 5.9 0 1 0 11.8 0a5.9 5.9 0 1 0 -11.8 0ZM553.9 153.0a5.9 5.9 0 1 0 11.8 0a5.9 5.9 0 1 0 -11.8 0ZM553.3 154.2a5.9 5.9 0 1 0 11.8 0a5.9 5.9 0 1 0 -11.8 0ZM553.4 154.5a5.9 5.9 0 1 0 11.8 0a5.9 5.9 0 1 0 -11.8 0ZM553.0 154.7a5.9 5.9 0 1 0 11.8 0a5.9 5.9 0 1 0 -11.8 0ZM553.3 155.7a5.9 5.9 0 1 0 11.8 0a5.9 5.9 0 1 0 -11.8 0ZM553.4 155.9a5.9 5.9 0 1 0 11.8 0a5.9 5.9 0 1 0 -11.8 0ZM552.4 156.1a5.9 5.9 0 1 0 11.8 0a5.9 5.9 0 1 0 -11.8 0ZM553.5 158.0a5.9 5.9 0 1 0 11.8 0a5.9 5.9 0 1 0 -11.8 0ZM554.1 161.2a5.9 5.9 0 1 0 11.8 0a5.9 5.9 0 1 0 -11.8 0ZM553.9 161.3a5.9 5.9 0 1 0 11.8 0a5.9 5.9 0 1 0 -11.8 0ZM553.6 163.2a5.9 5.9 0 1 0 11.8 0a5.9 5.9 0 1 0 -11.8 0ZM553.0 170.1a5.9 5.9 0 1 0 11.8 0a5.9 5.9 0 1 0 -11.8 0ZM553.6 171.0a5.9 5.9 0 1 0 11.8 0a5.9 5.9 0 1 0 -11.8 0ZM553.3 172.0a5.9 5.9 0 1 0 11.8 0a5.9 5.9 0 1 0 -11.8 0ZM553.1 174.6a5.9 5.9 0 1 0 11.8 0a5.9 5.9 0 1 0 -11.8 0ZM591.0 135.4a5.9 5.9 0 1 0 11.8 0a5.9 5.9 0 1 0 -11.8 0ZM589.7 140.0a5.9 5.9 0 1 0 11.8 0a5.9 5.9 0 1 0 -11.8 0ZM590.9 144.0a5.9 5.9 0 1 0 11.8 0a5.9 5.9 0 1 0 -11.8 0ZM589.6 148.0a5.9 5.9 0 1 0 11.8 0a5.9 5.9 0 1 0 -11.8 0ZM590.6 152.0a5.9 5.9 0 1 0 11.8 0a5.9 5.9 0 1 0 -11.8 0ZM590.4 156.0a5.9 5.9 0 1 0 11.8 0a5.9 5.9 0 1 0 -11.8 0ZM589.9 161.0a5.9 5.9 0 1 0 11.8 0a5.9 5.9 0 1 0 -11.8 0ZM590.8 165.0a5.9 5.9 0 1 0 11.8 0a5.9 5.9 0 1 0 -11.8 0ZM590.4 168.7a5.9 5.9 0 1 0 11.8 0a5.9 5.9 0 1 0 -11.8 0ZM590.6 142.0a5.9 5.9 0 1 0 11.8 0a5.9 5.9 0 1 0 -11.8 0ZM591.2 142.6a5.9 5.9 0 1 0 11.8 0a5.9 5.9 0 1 0 -11.8 0ZM590.0 147.3a5.9 5.9 0 1 0 11.8 0a5.9 5.9 0 1 0 -11.8 0ZM589.5 147.7a5.9 5.9 0 1 0 11.8 0a5.9 5.9 0 1 0 -11.8 0ZM590.0 149.4a5.9 5.9 0 1 0 11.8 0a5.9 5.9 0 1 0 -11.8 0ZM590.7 155.7a5.9 5.9 0 1 0 11.8 0a5.9 5.9 0 1 0 -11.8 0ZM589.9 159.6a5.9 5.9 0 1 0 11.8 0a5.9 5.9 0 1 0 -11.8 0ZM589.8 160.5a5.9 5.9 0 1 0 11.8 0a5.9 5.9 0 1 0 -11.8 0ZM591.1 161.3a5.9 5.9 0 1 0 11.8 0a5.9 5.9 0 1 0 -11.8 0ZM590.7 166.0a5.9 5.9 0 1 0 11.8 0a5.9 5.9 0 1 0 -11.8 0ZM591.0 183.3a5.9 5.9 0 1 0 11.8 0a5.9 5.9 0 1 0 -11.8 0ZM591.1 184.3a5.9 5.9 0 1 0 11.8 0a5.9 5.9 0 1 0 -11.8 0ZM629.6 203.5a5.9 5.9 0 1 0 11.8 0a5.9 5.9 0 1 0 -11.8 0ZM630.2 206.0a5.9 5.9 0 1 0 11.8 0a5.9 5.9 0 1 0 -11.8 0ZM629.4 209.0a5.9 5.9 0 1 0 11.8 0a5.9 5.9 0 1 0 -11.8 0ZM629.8 213.0a5.9 5.9 0 1 0 11.8 0a5.9 5.9 0 1 0 -11.8 0ZM630.5 217.0a5.9 5.9 0 1 0 11.8 0a5.9 5.9 0 1 0 -11.8 0ZM630.6 221.0a5.9 5.9 0 1 0 11.8 0a5.9 5.9 0 1 0 -11.8 0ZM630.6 225.0a5.9 5.9 0 1 0 11.8 0a5.9 5.9 0 1 0 -11.8 0ZM629.7 229.0a5.9 5.9 0 1 0 11.8 0a5.9 5.9 0 1 0 -11.8 0ZM630.0 233.0a5.9 5.9 0 1 0 11.8 0a5.9 5.9 0 1 0 -11.8 0ZM629.6 237.0a5.9 5.9 0 1 0 11.8 0a5.9 5.9 0 1 0 -11.8 0ZM629.2 241.0a5.9 5.9 0 1 0 11.8 0a5.9 5.9 0 1 0 -11.8 0ZM629.9 245.0a5.9 5.9 0 1 0 11.8 0a5.9 5.9 0 1 0 -11.8 0ZM630.5 249.0a5.9 5.9 0 1 0 11.8 0a5.9 5.9 0 1 0 -11.8 0ZM630.5 212.0a5.9 5.9 0 1 0 11.8 0a5.9 5.9 0 1 0 -11.8 0ZM630.3 215.7a5.9 5.9 0 1 0 11.8 0a5.9 5.9 0 1 0 -11.8 0ZM630.7 218.1a5.9 5.9 0 1 0 11.8 0a5.9 5.9 0 1 0 -11.8 0ZM629.5 218.7a5.9 5.9 0 1 0 11.8 0a5.9 5.9 0 1 0 -11.8 0ZM629.3 223.6a5.9 5.9 0 1 0 11.8 0a5.9 5.9 0 1 0 -11.8 0ZM629.8 224.0a5.9 5.9 0 1 0 11.8 0a5.9 5.9 0 1 0 -11.8 0ZM629.5 224.1a5.9 5.9 0 1 0 11.8 0a5.9 5.9 0 1 0 -11.8 0ZM629.4 227.7a5.9 5.9 0 1 0 11.8 0a5.9 5.9 0 1 0 -11.8 0ZM629.7 227.8a5.9 5.9 0 1 0 11.8 0a5.9 5.9 0 1 0 -11.8 0ZM630.1 228.2a5.9 5.9 0 1 0 11.8 0a5.9 5.9 0 1 0 -11.8 0ZM629.9 235.4a5.9 5.9 0 1 0 11.8 0a5.9 5.9 0 1 0 -11.8 0ZM629.6 237.1a5.9 5.9 0 1 0 11.8 0a5.9 5.9 0 1 0 -11.8 0ZM630.5 242.0a5.9 5.9 0 1 0 11.8 0a5.9 5.9 0 1 0 -11.8 0ZM630.8 242.8a5.9 5.9 0 1 0 11.8 0a5.9 5.9 0 1 0 -11.8 0ZM629.8 243.9a5.9 5.9 0 1 0 11.8 0a5.9 5.9 0 1 0 -11.8 0ZM629.1 248.0a5.9 5.9 0 1 0 11.8 0a5.9 5.9 0 1 0 -11.8 0ZM629.1 268.1a5.9 5.9 0 1 0 11.8 0a5.9 5.9 0 1 0 -11.8 0ZM862.2 420.8a5.9 5.9 0 1 0 11.8 0a5.9 5.9 0 1 0 -11.8 0ZM860.7 426.4a5.9 5.9 0 1 0 11.8 0a5.9 5.9 0 1 0 -11.8 0ZM861.9 449.8a5.9 5.9 0 1 0 11.8 0a5.9 5.9 0 1 0 -11.8 0ZM861.6 452.5a5.9 5.9 0 1 0 11.8 0a5.9 5.9 0 1 0 -11.8 0ZM861.2 455.0a5.9 5.9 0 1 0 11.8 0a5.9 5.9 0 1 0 -11.8 0ZM862.0 457.5a5.9 5.9 0 1 0 11.8 0a5.9 5.9 0 1 0 -11.8 0ZM860.6 460.0a5.9 5.9 0 1 0 11.8 0a5.9 5.9 0 1 0 -11.8 0ZM860.8 462.5a5.9 5.9 0 1 0 11.8 0a5.9 5.9 0 1 0 -11.8 0ZM861.4 464.8a5.9 5.9 0 1 0 11.8 0a5.9 5.9 0 1 0 -11.8 0ZM860.6 478.8a5.9 5.9 0 1 0 11.8 0a5.9 5.9 0 1 0 -11.8 0ZM862.1 491.0a5.9 5.9 0 1 0 11.8 0a5.9 5.9 0 1 0 -11.8 0ZM861.0 496.6a5.9 5.9 0 1 0 11.8 0a5.9 5.9 0 1 0 -11.8 0ZM860.9 513.4a5.9 5.9 0 1 0 11.8 0a5.9 5.9 0 1 0 -11.8 0ZM860.7 522.8a5.9 5.9 0 1 0 11.8 0a5.9 5.9 0 1 0 -11.8 0ZM899.1 408.7a5.9 5.9 0 1 0 11.8 0a5.9 5.9 0 1 0 -11.8 0ZM898.8 415.2a5.9 5.9 0 1 0 11.8 0a5.9 5.9 0 1 0 -11.8 0ZM899.1 421.8a5.9 5.9 0 1 0 11.8 0a5.9 5.9 0 1 0 -11.8 0ZM899.2 427.4a5.9 5.9 0 1 0 11.8 0a5.9 5.9 0 1 0 -11.8 0ZM899.5 433.0a5.9 5.9 0 1 0 11.8 0a5.9 5.9 0 1 0 -11.8 0ZM899.7 436.7a5.9 5.9 0 1 0 11.8 0a5.9 5.9 0 1 0 -11.8 0ZM899.2 442.3a5.9 5.9 0 1 0 11.8 0a5.9 5.9 0 1 0 -11.8 0ZM898.4 449.8a5.9 5.9 0 1 0 11.8 0a5.9 5.9 0 1 0 -11.8 0ZM898.9 459.2a5.9 5.9 0 1 0 11.8 0a5.9 5.9 0 1 0 -11.8 0ZM898.3 472.3a5.9 5.9 0 1 0 11.8 0a5.9 5.9 0 1 0 -11.8 0ZM898.0 477.0a5.9 5.9 0 1 0 11.8 0a5.9 5.9 0 1 0 -11.8 0ZM938.1 415.2a5.9 5.9 0 1 0 11.8 0a5.9 5.9 0 1 0 -11.8 0ZM938.6 419.0a5.9 5.9 0 1 0 11.8 0a5.9 5.9 0 1 0 -11.8 0ZM937.6 434.9a5.9 5.9 0 1 0 11.8 0a5.9 5.9 0 1 0 -11.8 0ZM937.8 440.5a5.9 5.9 0 1 0 11.8 0a5.9 5.9 0 1 0 -11.8 0ZM937.9 446.1a5.9 5.9 0 1 0 11.8 0a5.9 5.9 0 1 0 -11.8 0ZM938.6 466.7a5.9 5.9 0 1 0 11.8 0a5.9 5.9 0 1 0 -11.8 0ZM938.2 482.6a5.9 5.9 0 1 0 11.8 0a5.9 5.9 0 1 0 -11.8 0ZM974.9 434.5a5.9 5.9 0 1 0 11.8 0a5.9 5.9 0 1 0 -11.8 0ZM975.2 445.1a5.9 5.9 0 1 0 11.8 0a5.9 5.9 0 1 0 -11.8 0ZM974.5 454.5a5.9 5.9 0 1 0 11.8 0a5.9 5.9 0 1 0 -11.8 0ZM975.2 466.7a5.9 5.9 0 1 0 11.8 0a5.9 5.9 0 1 0 -11.8 0ZM975.4 472.3a5.9 5.9 0 1 0 11.8 0a5.9 5.9 0 1 0 -11.8 0ZM974.0 483.5a5.9 5.9 0 1 0 11.8 0a5.9 5.9 0 1 0 -11.8 0ZM975.5 494.7a5.9 5.9 0 1 0 11.8 0a5.9 5.9 0 1 0 -11.8 0ZM975.1 505.9a5.9 5.9 0 1 0 11.8 0a5.9 5.9 0 1 0 -11.8 0ZM974.0 511.5a5.9 5.9 0 1 0 11.8 0a5.9 5.9 0 1 0 -11.8 0ZM974.6 515.3a5.9 5.9 0 1 0 11.8 0a5.9 5.9 0 1 0 -11.8 0ZM974.9 530.3a5.9 5.9 0 1 0 11.8 0a5.9 5.9 0 1 0 -11.8 0Z" fill="#ff0000" stroke="#ff0000" stroke-width="0.6"/>
<path d="M975.4 460.0a5.9 5.9 0 1 0 11.8 0a5.9 5.9 0 1 0 -11.8 0ZM975.1 478.0a5.9 5.9 0 1 0 11.8 0a5.9 5.9 0 1 0 -11.8 0ZM975.1 489.0a5.9 5.9 0 1 0 11.8 0a5.9 5.9 0 1 0 -11.8 0ZM975.2 500.0a5.9 5.9 0 1 0 11.8 0a5.9 5.9 0 1 0 -11.8 0ZM938.9 453.0a5.9 5.9 0 1 0 11.8 0a5.9 5.9 0 1 0 -11.8 0ZM937.9 460.0a5.9 5.9 0 1 0 11.8 0a5.9 5.9 0 1 0 -11.8 0ZM553.5 128.3a5.9 5.9 0 1 0 11.8 0a5.9 5.9 0 1 0 -11.8 0ZM553.9 137.3a5.9 5.9 0 1 0 11.8 0a5.9 5.9 0 1 0 -11.8 0ZM553.9 142.2a5.9 5.9 0 1 0 11.8 0a5.9 5.9 0 1 0 -11.8 0ZM553.1 147.0a5.9 5.9 0 1 0 11.8 0a5.9 5.9 0 1 0 -11.8 0ZM553.7 148.5a5.9 5.9 0 1 0 11.8 0a5.9 5.9 0 1 0 -11.8 0ZM553.9 153.0a5.9 5.9 0 1 0 11.8 0a5.9 5.9 0 1 0 -11.8 0ZM553.3 154.2a5.9 5.9 0 1 0 11.8 0a5.9 5.9 0 1 0 -11.8 0ZM553.4 154.5a5.9 5.9 0 1 0 11.8 0a5.9 5.9 0 1 0 -11.8 0ZM553.0 154.7a5.9 5.9 0 1 0 11.8 0a5.9 5.9 0 1 0 -11.8 0ZM553.3 155.7a5.9 5.9 0 1 0 11.8 0a5.9 5.9 0 1 0 -11.8 0ZM553.4 155.9a5.9 5.9 0 1 0 11.8 0a5.9 5.9 0 1 0 -11.8 0ZM552.4 156.1a5.9 5.9 0 1 0 11.8 0a5.9 5.9 0 1 0 -11.8 0ZM553.5 158.0a5.9 5.9 0 1 0 11.8 0a5.9 5.9 0 1 0 -11.8 0ZM554.1 161.2a5.9 5.9 0 1 0 11.8 0a5.9 5.9 0 1 0 -11.8 0ZM553.9 161.3a5.9 5.9 0 1 0 11.8 0a5.9 5.9 0 1 0 -11.8 0ZM553.6 163.2a5.9 5.9 0 1 0 11.8 0a5.9 5.9 0 1 0 -11.8 0ZM553.0 170.1a5.9 5.9 0 1 0 11.8 0a5.9 5.9 0 1 0 -11.8 0ZM553.6 171.0a5.9 5.9 0 1 0 11.8 0a5.9 5.9 0 1 0 -11.8 0ZM553.3 172.0a5.9 5.9 0 1 0 11.8 0a5.9 5.9 0 1 0 -11.8 0ZM553.1 174.6a5.9 5.9 0 1 0 11.8 0a5.9 5.9 0 1 0 -11.8 0ZM591.0 135.4a5.9 5.9 0 1 0 11.8 0a5.9 5.9 0 1 0 -11.8 0ZM589.7 140.0a5.9 5.9 0 1 0 11.8 0a5.9 5.9 0 1 0 -11.8 0ZM590.9 144.0a5.9 5.9 0 1 0 11.8 0a5.9 5.9 0 1 0 -11.8 0ZM589.6 148.0a5.9 5.9 0 1 0 11.8 0a5.9 5.9 0 1 0 -11.8 0ZM590.6 152.0a5.9 5.9 0 1 0 11.8 0a5.9 5.9 0 1 0 -11.8 0ZM590.4 156.0a5.9 5.9 0 1 0 11.8 0a5.9 5.9 0 1 0 -11.8 0ZM589.9 161.0a5.9 5.9 0 1 0 11.8 0a5.9 5.9 0 1 0 -11.8 0ZM590.8 165.0a5.9 5.9 0 1 0 11.8 0a5.9 5.9 0 1 0 -11.8 0ZM590.4 168.7a5.9 5.9 0 1 0 11.8 0a5.9 5.9 0 1 0 -11.8 0ZM590.6 142.0a5.9 5.9 0 1 0 11.8 0a5.9 5.9 0 1 0 -11.8 0ZM591.2 142.6a5.9 5.9 0 1 0 11.8 0a5.9 5.9 0 1 0 -11.8 0ZM590.0 147.3a5.9 5.9 0 1 0 11.8 0a5.9 5.9 0 1 0 -11.8 0ZM589.5 147.7a5.9 5.9 0 1 0 11.8 0a5.9 5.9 0 1 0 -11.8 0ZM590.0 149.4a5.9 5.9 0 1 0 11.8 0a5.9 5.9 0 1 0 -11.8 0ZM590.7 155.7a5.9 5.9 0 1 0 11.8 0a5.9 5.9 0 1 0 -11.8 0ZM589.9 159.6a5.9 5.9 0 1 0 11.8 0a5.9 5.9 0 1 0 -11.8 0ZM589.8 160.5a5.9 5.9 0 1 0 11.8 0a5.9 5.9 0 1 0 -11.8 0ZM591.1 161.3a5.9 5.9 0 1 0 11.8 0a5.9 5.9 0 1 0 -11.8 0ZM590.7 166.0a5.9 5.9 0 1 0 11.8 0a5.9 5.9 0 1 0 -11.8 0ZM591.0 183.3a5.9 5.9 0 1 0 11.8 0a5.9 5.9 0 1 0 -11.8 0ZM591.1 184.3a5.9 5.9 0 1 0 11.8 0a5.9 5.9 0 1 0 -11.8 0ZM629.6 203.5a5.9 5.9 0 1 0 11.8 0a5.9 5.9 0 1 0 -11.8 0ZM630.2 206.0a5.9 5.9 0 1 0 11.8 0a5.9 5.9 0 1 0 -11.8 0ZM629.4 209.0a5.9 5.9 0 1 0 11.8 0a5.9 5.9 0 1 0 -11.8 0ZM629.8 213.0a5.9 5.9 0 1 0 11.8 0a5.9 5.9 0 1 0 -11.8 0ZM630.5 217.0a5.9 5.9 0 1 0 11.8 0a5.9 5.9 0 1 0 -11.8 0ZM630.6 221.0a5.9 5.9 0 1 0 11.8 0a5.9 5.9 0 1 0 -11.8 0ZM630.6 225.0a5.9 5.9 0 1 0 11.8 0a5.9 5.9 0 1 0 -11.8 0ZM629.7 229.0a5.9 5.9 0 1 0 11.8 0a5.9 5.9 0 1 0 -11.8 0ZM630.0 233.0a5.9 5.9 0 1 0 11.8 0a5.9 5.9 0 1 0 -11.8 0ZM629.6 237.0a5.9 5.9 0 1 0 11.8 0a5.9 5.9 0 1 0 -11.8 0ZM629.2 241.0a5.9 5.9 0 1 0 11.8 0a5.9 5.9 0 1 0 -11.8 0ZM629.9 245.0a5.9 5.9 0 1 0 11.8 0a5.9 5.9 0 1 0 -11.8 0ZM630.5 249.0a5.9 5.9 0 1 0 11.8 0a5.9 5.9 0 1 0 -11.8 0ZM630.5 212.0a5.9 5.9 0 1 0 11.8 0a5.9 5.9 0 1 0 -11.8 0ZM630.3 215.7a5.9 5.9 0 1 0 11.8 0a5.9 5.9 0 1 0 -11.8 0ZM630.7 218.1a5.9 5.9 0 1 0 11.8 0a5.9 5.9 0 1 0 -11.8 0ZM629.5 218.7a5.9 5.9 0 1 0 11.8 0a5.9 5.9 0 1 0 -11.8 0ZM629.3 223.6a5.9 5.9 0 1 0 11.8 0a5.9 5.9 0 1 0 -11.8 0ZM629.8 224.0a5.9 5.9 0 1 0 11.8 0a5.9 5.9 0 1 0 -11.8 0ZM629.5 224.1a5.9 5.9 0 1 0 11.8 0a5.9 5.9 0 1 0 -11.8 0ZM629.4 227.7a5.9 5.9 0 1 0 11.8 0a5.9 5.9 0 1 0 -11.8 0ZM629.7 227.8a5.9 5.9 0 1 0 11.8 0a5.9 5.9 0 1 0 -11.8 0ZM630.1 228.2a5.9 5.9 0 1 0 11.8 0a5.9 5.9 0 1 0 -11.8 0ZM629.9 235.4a5.9 5.9 0 1 0 11.8 0a5.9 5.9 0 1 0 -11.8 0ZM629.6 237.1a5.9 5.9 0 1 0 11.8 0a5.9 5.9 0 1 0 -11.8 0ZM630.5 242.0a5.9 5.9 0 1 0 11.8 0a5.9 5.9 0 1 0 -11.8 0ZM630.8 242.8a5.9 5.9 0 1 0 11.8 0a5.9 5.9 0 1 0 -11.8 0ZM629.8 243.9a5.9 5.9 0 1 0 11.8 0a5.9 5.9 0 1 0 -11.8 0ZM629.1 248.0a5.9 5.9 0 1 0 11.8 0a5.9 5.9 0 1 0 -11.8 0ZM629.1 268.1a5.9 5.9 0 1 0 11.8 0a5.9 5.9 0 1 0 -11.8 0ZM862.2 420.8a5.9 5.9 0 1 0 11.8 0a5.9 5.9 0 1 0 -11.8 0ZM860.7 426.4a5.9 5.9 0 1 0 11.8 0a5.9 5.9 0 1 0 -11.8 0ZM861.9 449.8a5.9 5.9 0 1 0 11.8 0a5.9 5.9 0 1 0 -11.8 0ZM861.6 452.5a5.9 5.9 0 1 0 11.8 0a5.9 5.9 0 1 0 -11.8 0ZM861.2 455.0a5.9 5.9 0 1 0 11.8 0a5.9 5.9 0 1 0 -11.8 0ZM862.0 457.5a5.9 5.9 0 1 0 11.8 0a5.9 5.9 0 1 0 -11.8 0ZM860.6 460.0a5.9 5.9 0 1 0 11.8 0a5.9 5.9 0 1 0 -11.8 0ZM860.8 462.5a5.9 5.9 0 1 0 11.8 0a5.9 5.9 0 1 0 -11.8 0ZM861.4 464.8a5.9 5.9 0 1 0 11.8 0a5.9 5.9 0 1 0 -11.8 0ZM860.6 478.8a5.9 5.9 0 1 0 11.8 0a5.9 5.9 0 1 0 -11.8 0ZM862.1 491.0a5.9 5.9 0 1 0 11.8 0a5.9 5.9 0 1 0 -11.8 0ZM861.0 496.6a5.9 5.9 0 1 0 11.8 0a5.9 5.9 0 1 0 -11.8 0ZM860.9 513.4a5.9 5.9 0 1 0 11.8 0a5.9 5.9 0 1 0 -11.8 0ZM860.7 522.8a5.9 5.9 0 1 0 11.8 0a5.9 5.9 0 1 0 -11.8 0ZM899.1 408.7a5.9 5.9 0 1 0 11.8 0a5.9 5.9 0 1 0 -11.8 0ZM898.8 415.2a5.9 5.9 0 1 0 11.8 0a5.9 5.9 0 1 0 -11.8 0ZM899.1 421.8a5.9 5.9 0 1 0 11.8 0a5.9 5.9 0 1 0 -11.8 0ZM899.2 427.4a5.9 5.9 0 1 0 11.8 0a5.9 5.9 0 1 0 -11.8 0ZM899.5 433.0a5.9 5.9 0 1 0 11.8 0a5.9 5.9 0 1 0 -11.8 0ZM899.7 436.7a5.9 5.9 0 1 0 11.8 0a5.9 5.9 0 1 0 -11.8 0ZM899.2 442.3a5.9 5.9 0 1 0 11.8 0a5.9 5.9 0 1 0 -11.8 0ZM898.4 449.8a5.9 5.9 0 1 0 11.8 0a5.9 5.9 0 1 0 -11.8 0ZM898.9 459.2a5.9 5.9 0 1 0 11.8 0a5.9 5.9 0 1 0 -11.8 0ZM898.3 472.3a5.9 5.9 0 1 0 11.8 0a5.9 5.9 0 1 0 -11.8 0ZM898.0 477.0a5.9 5.9 0 1 0 11.8 0a5.9 5.9 0 1 0 -11.8 0ZM938.1 415.2a5.9 5.9 0 1 0 11.8 0a5.9 5.9 0 1 0 -11.8 0ZM938.6 419.0a5.9 5.9 0 1 0 11.8 0a5.9 5.9 0 1 0 -11.8 0ZM937.6 434.9a5.9 5.9 0 1 0 11.8 0a5.9 5.9 0 1 0 -11.8 0ZM937.8 440.5a5.9 5.9 0 1 0 11.8 0a5.9 5.9 0 1 0 -11.8 0ZM937.9 446.1a5.9 5.9 0 1 0 11.8 0a5.9 5.9 0 1 0 -11.8 0ZM938.6 466.7a5.9 5.9 0 1 0 11.8 0a5.9 5.9 0 1 0 -11.8 0ZM938.2 482.6a5.9 5.9 0 1 0 11.8 0a5.9 5.9 0 1 0 -11.8 0ZM974.9 434.5a5.9 5.9 0 1 0 11.8 0a5.9 5.9 0 1 0 -11.8 0ZM975.2 445.1a5.9 5.9 0 1 0 11.8 0a5.9 5.9 0 1 0 -11.8 0ZM974.5 454.5a5.9 5.9 0 1 0 11.8 0a5.9 5.9 0 1 0 -11.8 0ZM975.2 466.7a5.9 5.9 0 1 0 11.8 0a5.9 5.9 0 1 0 -11.8 0ZM975.4 472.3a5.9 5.9 0 1 0 11.8 0a5.9 5.9 0 1 0 -11.8 0ZM974.0 483.5a5.9 5.9 0 1 0 11.8 0a5.9 5.9 0 1 0 -11.8 0ZM975.5 494.7a5.9 5.9 0 1 0 11.8 0a5.9 5.9 0 1 0 -11.8 0ZM975.1 505.9a5.9 5.9 0 1 0 11.8 0a5.9 5.9 0 1 0 -11.8 0ZM974.0 511.5a5.9 5.9 0 1 0 11.8 0a5.9 5.9 0 1 0 -11.8 0ZM974.6 515.3a5.9 5.9 0 1 0 11.8 0a5.9 5.9 0 1 0 -11.8 0ZM974.9 530.3a5.9 5.9 0 1 0 11.8 0a5.9 5.9 0 1 0 -11.8 0Z" fill="none" stroke="#000" stroke-width="1.45"/>
<path d="M175.84 933.85L175.84 919.45M175.84 14.40L175.84 28.80M218.03 933.85L218.03 919.45M218.03 14.40L218.03 28.80M260.21 933.85L260.21 919.45M260.21 14.40L260.21 28.80M302.40 933.85L302.40 905.25M302.40 14.40L302.40 43.00M344.59 933.85L344.59 919.45M344.59 14.40L344.59 28.80M386.77 933.85L386.77 919.45M386.77 14.40L386.77 28.80M428.96 933.85L428.96 919.45M428.96 14.40L428.96 28.80M471.14 933.85L471.14 919.45M471.14 14.40L471.14 28.80M513.33 933.85L513.33 905.25M513.33 14.40L513.33 43.00M555.52 933.85L555.52 919.45M555.52 14.40L555.52 28.80M597.70 933.85L597.70 919.45M597.70 14.40L597.70 28.80M639.89 933.85L639.89 919.45M639.89 14.40L639.89 28.80M682.07 933.85L682.07 919.45M682.07 14.40L682.07 28.80M724.26 933.85L724.26 905.25M724.26 14.40L724.26 43.00M766.45 933.85L766.45 919.45M766.45 14.40L766.45 28.80M808.63 933.85L808.63 919.45M808.63 14.40L808.63 28.80M850.82 933.85L850.82 919.45M850.82 14.40L850.82 28.80M893.00 933.85L893.00 919.45M893.00 14.40L893.00 28.80M935.19 933.85L935.19 905.25M935.19 14.40L935.19 43.00M977.38 933.85L977.38 919.45M977.38 14.40L977.38 28.80M1019.56 933.85L1019.56 919.45M1019.56 14.40L1019.56 28.80M151.60 75.70L165.20 75.70M1020.60 75.70L1007.00 75.70M151.60 136.99L165.20 136.99M1020.60 136.99L1007.00 136.99M151.60 198.29L165.20 198.29M1020.60 198.29L1007.00 198.29M151.60 259.59L165.20 259.59M1020.60 259.59L1007.00 259.59M151.60 320.88L178.90 320.88M1020.60 320.88L993.30 320.88M151.60 382.18L165.20 382.18M1020.60 382.18L1007.00 382.18M151.60 443.48L165.20 443.48M1020.60 443.48L1007.00 443.48M151.60 504.77L165.20 504.77M1020.60 504.77L1007.00 504.77M151.60 566.07L165.20 566.07M1020.60 566.07L1007.00 566.07M151.60 627.37L178.90 627.37M1020.60 627.37L993.30 627.37M151.60 688.66L165.20 688.66M1020.60 688.66L1007.00 688.66M151.60 749.96L165.20 749.96M1020.60 749.96L1007.00 749.96M151.60 811.26L165.20 811.26M1020.60 811.26L1007.00 811.26M151.60 872.55L165.20 872.55M1020.60 872.55L1007.00 872.55" stroke="#000" stroke-width="1.30" fill="none"/>
<rect x="151.6" y="14.4" width="869.0" height="919.5" fill="none" stroke="#000" stroke-width="1.30"/>
<path d="M242.46 957.16L239.80 970.53M239.80 970.53L242.46 967.85L246.46 966.52L250.45 966.52L254.45 967.85L257.11 970.53L258.44 974.54L258.44 977.21L257.11 981.22L254.45 983.90L250.45 985.23L246.46 985.23L242.46 983.90L241.13 982.56L239.80 979.88L239.80 978.55L241.13 977.21L242.46 978.55L241.13 979.88M250.45 966.52L253.12 967.85L255.78 970.53L257.11 974.54L257.11 977.21L255.78 981.22L253.12 983.90L250.45 985.23M242.46 957.16L255.78 957.16M242.46 958.49L249.12 958.49L255.78 957.16M278.42 959.83L278.42 985.23M279.76 957.16L279.76 985.23M279.76 957.16L265.10 977.21L286.42 977.21M274.43 985.23L283.75 985.23M301.07 957.16L297.07 958.49L294.41 962.50L293.08 969.19L293.08 973.20L294.41 979.88L297.07 983.90L301.07 985.23L303.73 985.23L307.73 983.90L310.39 979.88L311.72 973.20L311.72 969.19L310.39 962.50L307.73 958.49L303.73 957.16L301.07 957.16M301.07 957.16L298.40 958.49L297.07 959.83L295.74 962.50L294.41 969.19L294.41 973.20L295.74 979.88L297.07 982.56L298.40 983.90L301.07 985.23M303.73 985.23L306.40 983.90L307.73 982.56L309.06 979.88L310.39 973.20L310.39 969.19L309.06 962.50L307.73 959.83L306.40 958.49L303.73 957.16M327.71 957.16L323.71 958.49L321.05 962.50L319.72 969.19L319.72 973.20L321.05 979.88L323.71 983.90L327.71 985.23L330.37 985.23L334.37 983.90L337.03 979.88L338.36 973.20L338.36 969.19L337.03 962.50L334.37 958.49L330.37 957.16L327.71 957.16M327.71 957.16L325.04 958.49L323.71 959.83L322.38 962.50L321.05 969.19L321.05 973.20L322.38 979.88L323.71 982.56L325.04 983.90L327.71 985.23M330.37 985.23L333.04 983.90L334.37 982.56L335.70 979.88L337.03 973.20L337.03 969.19L335.70 962.50L334.37 959.83L333.04 958.49L330.37 957.16M354.35 957.16L350.35 958.49L347.69 962.50L346.36 969.19L346.36 973.20L347.69 979.88L350.35 983.90L354.35 985.23L357.01 985.23L361.01 983.90L363.67 979.88L365.00 973.20L365.00 969.19L363.67 962.50L361.01 958.49L357.01 957.16L354.35 957.16M354.35 957.16L351.68 958.49L350.35 959.83L349.02 962.50L347.69 969.19L347.69 973.20L349.02 979.88L350.35 982.56L351.68 983.90L354.35 985.23M357.01 985.23L359.68 983.90L361.01 982.56L362.34 979.88L363.67 973.20L363.67 969.19L362.34 962.50L361.01 959.83L359.68 958.49L357.01 957.16" stroke="#000" stroke-width="1.30" fill="none" stroke-linecap="round" stroke-linejoin="round"/>
<path d="M453.39 957.16L450.73 970.53M450.73 970.53L453.39 967.85L457.39 966.52L461.38 966.52L465.38 967.85L468.04 970.53L469.37 974.54L469.37 977.21L468.04 981.22L465.38 983.90L461.38 985.23L457.39 985.23L453.39 983.90L452.06 982.56L450.73 979.88L450.73 978.55L452.06 977.21L453.39 978.55L452.06 979.88M461.38 966.52L464.05 967.85L466.71 970.53L468.04 974.54L468.04 977.21L466.71 981.22L464.05 983.90L461.38 985.23M453.39 957.16L466.71 957.16M453.39 958.49L460.05 958.49L466.71 957.16M480.03 957.16L477.37 970.53M477.37 970.53L480.03 967.85L484.03 966.52L488.02 966.52L492.02 967.85L494.68 970.53L496.01 974.54L496.01 977.21L494.68 981.22L492.02 983.90L488.02 985.23L484.03 985.23L480.03 983.90L478.70 982.56L477.37 979.88L477.37 978.55L478.70 977.21L480.03 978.55L478.70 979.88M488.02 966.52L490.69 967.85L493.35 970.53L494.68 974.54L494.68 977.21L493.35 981.22L490.69 983.90L488.02 985.23M480.03 957.16L493.35 957.16M480.03 958.49L486.69 958.49L493.35 957.16M512.00 957.16L508.00 958.49L505.34 962.50L504.01 969.19L504.01 973.20L505.34 979.88L508.00 983.90L512.00 985.23L514.66 985.23L518.66 983.90L521.32 979.88L522.65 973.20L522.65 969.19L521.32 962.50L518.66 958.49L514.66 957.16L512.00 957.16M512.00 957.16L509.33 958.49L508.00 959.83L506.67 962.50L505.34 969.19L505.34 973.20L506.67 979.88L508.00 982.56L509.33 983.90L512.00 985.23M514.66 985.23L517.33 983.90L518.66 982.56L519.99 979.88L521.32 973.20L521.32 969.19L519.99 962.50L518.66 959.83L517.33 958.49L514.66 957.16M538.64 957.16L534.64 958.49L531.98 962.50L530.65 969.19L530.65 973.20L531.98 979.88L534.64 983.90L538.64 985.23L541.30 985.23L545.30 983.90L547.96 979.88L549.29 973.20L549.29 969.19L547.96 962.50L545.30 958.49L541.30 957.16L538.64 957.16M538.64 957.16L535.97 958.49L534.64 959.83L533.31 962.50L531.98 969.19L531.98 973.20L533.31 979.88L534.64 982.56L535.97 983.90L538.64 985.23M541.30 985.23L543.97 983.90L545.30 982.56L546.63 979.88L547.96 973.20L547.96 969.19L546.63 962.50L545.30 959.83L543.97 958.49L541.30 957.16M565.28 957.16L561.28 958.49L558.62 962.50L557.29 969.19L557.29 973.20L558.62 979.88L561.28 983.90L565.28 985.23L567.94 985.23L571.94 983.90L574.60 979.88L575.93 973.20L575.93 969.19L574.60 962.50L571.94 958.49L567.94 957.16L565.28 957.16M565.28 957.16L562.61 958.49L561.28 959.83L559.95 962.50L558.62 969.19L558.62 973.20L559.95 979.88L561.28 982.56L562.61 983.90L565.28 985.23M567.94 985.23L570.61 983.90L571.94 982.56L573.27 979.88L574.60 973.20L574.60 969.19L573.27 962.50L571.94 959.83L570.61 958.49L567.94 957.16" stroke="#000" stroke-width="1.30" fill="none" stroke-linecap="round" stroke-linejoin="round"/>
<path d="M664.32 957.16L661.66 970.53M661.66 970.53L664.32 967.85L668.32 966.52L672.31 966.52L676.31 967.85L678.97 970.53L680.30 974.54L680.30 977.21L678.97 981.22L676.31 983.90L672.31 985.23L668.32 985.23L664.32 983.90L662.99 982.56L661.66 979.88L661.66 978.55L662.99 977.21L664.32 978.55L662.99 979.88M672.31 966.52L674.98 967.85L677.64 970.53L678.97 974.54L678.97 977.21L677.64 981.22L674.98 983.90L672.31 985.23M664.32 957.16L677.64 957.16M664.32 958.49L670.98 958.49L677.64 957.16M704.28 961.17L702.95 962.50L704.28 963.84L705.61 962.50L705.61 961.17L704.28 958.49L701.62 957.16L697.62 957.16L693.62 958.49L690.96 961.17L689.63 963.84L688.30 969.19L688.30 977.21L689.63 981.22L692.29 983.90L696.29 985.23L698.95 985.23L702.95 983.90L705.61 981.22L706.94 977.21L706.94 975.87L705.61 971.86L702.95 969.19L698.95 967.85L697.62 967.85L693.62 969.19L690.96 971.86L689.63 975.87M697.62 957.16L694.96 958.49L692.29 961.17L690.96 963.84L689.63 969.19L689.63 977.21L690.96 981.22L693.62 983.90L696.29 985.23M698.95 985.23L701.62 983.90L704.28 981.22L705.61 977.21L705.61 975.87L704.28 971.86L701.62 969.19L698.95 967.85M722.93 957.16L718.93 958.49L716.27 962.50L714.94 969.19L714.94 973.20L716.27 979.88L718.93 983.90L722.93 985.23L725.59 985.23L729.59 983.90L732.25 979.88L733.58 973.20L733.58 969.19L732.25 962.50L729.59 958.49L725.59 957.16L722.93 957.16M722.93 957.16L720.26 958.49L718.93 959.83L717.60 962.50L716.27 969.19L716.27 973.20L717.60 979.88L718.93 982.56L720.26 983.90L722.93 985.23M725.59 985.23L728.26 983.90L729.59 982.56L730.92 979.88L732.25 973.20L732.25 969.19L730.92 962.50L729.59 959.83L728.26 958.49L725.59 957.16M749.57 957.16L745.57 958.49L742.91 962.50L741.58 969.19L741.58 973.20L742.91 979.88L745.57 983.90L749.57 985.23L752.23 985.23L756.23 983.90L758.89 979.88L760.22 973.20L760.22 969.19L758.89 962.50L756.23 958.49L752.23 957.16L749.57 957.16M749.57 957.16L746.90 958.49L745.57 959.83L744.24 962.50L742.91 969.19L742.91 973.20L744.24 979.88L745.57 982.56L746.90 983.90L749.57 985.23M752.23 985.23L754.90 983.90L756.23 982.56L757.56 979.88L758.89 973.20L758.89 969.19L757.56 962.50L756.23 959.83L754.90 958.49L752.23 957.16M776.21 957.16L772.21 958.49L769.55 962.50L768.22 969.19L768.22 973.20L769.55 979.88L772.21 983.90L776.21 985.23L778.87 985.23L782.87 983.90L785.53 979.88L786.86 973.20L786.86 969.19L785.53 962.50L782.87 958.49L778.87 957.16L776.21 957.16M776.21 957.16L773.54 958.49L772.21 959.83L770.88 962.50L769.55 969.19L769.55 973.20L770.88 979.88L772.21 982.56L773.54 983.90L776.21 985.23M778.87 985.23L781.54 983.90L782.87 982.56L784.20 979.88L785.53 973.20L785.53 969.19L784.20 962.50L782.87 959.83L781.54 958.49L778.87 957.16" stroke="#000" stroke-width="1.30" fill="none" stroke-linecap="round" stroke-linejoin="round"/>
<path d="M875.25 957.16L872.59 970.53M872.59 970.53L875.25 967.85L879.25 966.52L883.24 966.52L887.24 967.85L889.90 970.53L891.23 974.54L891.23 977.21L889.90 981.22L887.24 983.90L883.24 985.23L879.25 985.23L875.25 983.90L873.92 982.56L872.59 979.88L872.59 978.55L873.92 977.21L875.25 978.55L873.92 979.88M883.24 966.52L885.91 967.85L888.57 970.53L889.90 974.54L889.90 977.21L888.57 981.22L885.91 983.90L883.24 985.23M875.25 957.16L888.57 957.16M875.25 958.49L881.91 958.49L888.57 957.16M899.23 957.16L899.23 965.18M899.23 962.50L900.56 959.83L903.22 957.16L905.89 957.16L912.55 961.17L915.21 961.17L916.54 959.83L917.87 957.16M900.56 959.83L903.22 958.49L905.89 958.49L912.55 961.17M917.87 957.16L917.87 961.17L916.54 965.18L911.21 971.86L909.88 974.54L908.55 978.55L908.55 985.23M916.54 965.18L909.88 971.86L908.55 974.54L907.22 978.55L907.22 985.23M933.86 957.16L929.86 958.49L927.20 962.50L925.87 969.19L925.87 973.20L927.20 979.88L929.86 983.90L933.86 985.23L936.52 985.23L940.52 983.90L943.18 979.88L944.51 973.20L944.51 969.19L943.18 962.50L940.52 958.49L936.52 957.16L933.86 957.16M933.86 957.16L931.19 958.49L929.86 959.83L928.53 962.50L927.20 969.19L927.20 973.20L928.53 979.88L929.86 982.56L931.19 983.90L933.86 985.23M936.52 985.23L939.19 983.90L940.52 982.56L941.85 979.88L943.18 973.20L943.18 969.19L941.85 962.50L940.52 959.83L939.19 958.49L936.52 957.16M960.50 957.16L956.50 958.49L953.84 962.50L952.51 969.19L952.51 973.20L953.84 979.88L956.50 983.90L960.50 985.23L963.16 985.23L967.16 983.90L969.82 979.88L971.15 973.20L971.15 969.19L969.82 962.50L967.16 958.49L963.16 957.16L960.50 957.16M960.50 957.16L957.83 958.49L956.50 959.83L955.17 962.50L953.84 969.19L953.84 973.20L955.17 979.88L956.50 982.56L957.83 983.90L960.50 985.23M963.16 985.23L965.83 983.90L967.16 982.56L968.49 979.88L969.82 973.20L969.82 969.19L968.49 962.50L967.16 959.83L965.83 958.49L963.16 957.16M987.14 957.16L983.14 958.49L980.48 962.50L979.15 969.19L979.15 973.20L980.48 979.88L983.14 983.90L987.14 985.23L989.80 985.23L993.80 983.90L996.46 979.88L997.79 973.20L997.79 969.19L996.46 962.50L993.80 958.49L989.80 957.16L987.14 957.16M987.14 957.16L984.47 958.49L983.14 959.83L981.81 962.50L980.48 969.19L980.48 973.20L981.81 979.88L983.14 982.56L984.47 983.90L987.14 985.23M989.80 985.23L992.47 983.90L993.80 982.56L995.13 979.88L996.46 973.20L996.46 969.19L995.13 962.50L993.80 959.83L992.47 958.49L989.80 957.16" stroke="#000" stroke-width="1.30" fill="none" stroke-linecap="round" stroke-linejoin="round"/>
<path d="M82.03 5.70L84.70 4.37L88.69 0.36L88.69 28.43M87.36 1.69L87.36 28.43M82.03 28.43L94.02 28.43M107.34 0.36L104.68 13.73M104.68 13.73L107.34 11.05L111.34 9.71L115.33 9.71L119.33 11.05L121.99 13.73L123.32 17.74L123.32 20.41L121.99 24.42L119.33 27.10L115.33 28.43L111.34 28.43L107.34 27.10L106.01 25.76L104.68 23.08L104.68 21.75L106.01 20.41L107.34 21.75L106.01 23.08M115.33 9.71L118.00 11.05L120.66 13.73L121.99 17.74L121.99 20.41L120.66 24.42L118.00 27.10L115.33 28.43M107.34 0.36L120.66 0.36M107.34 1.69L114.00 1.69L120.66 0.36" stroke="#000" stroke-width="1.30" fill="none" stroke-linecap="round" stroke-linejoin="round"/>
<path d="M82.03 312.19L84.70 310.85L88.69 306.84L88.69 334.92M87.36 308.18L87.36 334.92M82.03 334.92L94.02 334.92M120.66 310.85L119.33 312.19L120.66 313.52L121.99 312.19L121.99 310.85L120.66 308.18L118.00 306.84L114.00 306.84L110.00 308.18L107.34 310.85L106.01 313.52L104.68 318.87L104.68 326.89L106.01 330.91L108.67 333.58L112.67 334.92L115.33 334.92L119.33 333.58L121.99 330.91L123.32 326.89L123.32 325.56L121.99 321.55L119.33 318.87L115.33 317.54L114.00 317.54L110.00 318.87L107.34 321.55L106.01 325.56M114.00 306.84L111.34 308.18L108.67 310.85L107.34 313.52L106.01 318.87L106.01 326.89L107.34 330.91L110.00 333.58L112.67 334.92M115.33 334.92L118.00 333.58L120.66 330.91L121.99 326.89L121.99 325.56L120.66 321.55L118.00 318.87L115.33 317.54" stroke="#000" stroke-width="1.30" fill="none" stroke-linecap="round" stroke-linejoin="round"/>
<path d="M82.03 618.67L84.70 617.33L88.69 613.32L88.69 641.40M87.36 614.66L87.36 641.40M82.03 641.40L94.02 641.40M104.68 613.32L104.68 621.34M104.68 618.67L106.01 616.00L108.67 613.32L111.34 613.32L118.00 617.33L120.66 617.33L121.99 616.00L123.32 613.32M106.01 616.00L108.67 614.66L111.34 614.66L118.00 617.33M123.32 613.32L123.32 617.33L121.99 621.34L116.66 628.03L115.33 630.70L114.00 634.71L114.00 641.40M121.99 621.34L115.33 628.03L114.00 630.70L112.67 634.71L112.67 641.40" stroke="#000" stroke-width="1.30" fill="none" stroke-linecap="round" stroke-linejoin="round"/>
<path d="M82.03 925.15L84.70 923.82L88.69 919.81L88.69 947.88M87.36 921.14L87.36 947.88M82.03 947.88L94.02 947.88M111.34 919.81L107.34 921.14L106.01 923.82L106.01 927.83L107.34 930.50L111.34 931.84L116.66 931.84L120.66 930.50L121.99 927.83L121.99 923.82L120.66 921.14L116.66 919.81L111.34 919.81M111.34 919.81L108.67 921.14L107.34 923.82L107.34 927.83L108.67 930.50L111.34 931.84M116.66 931.84L119.33 930.50L120.66 927.83L120.66 923.82L119.33 921.14L116.66 919.81M111.34 931.84L107.34 933.18L106.01 934.51L104.68 937.19L104.68 942.54L106.01 945.21L107.34 946.55L111.34 947.88L116.66 947.88L120.66 946.55L121.99 945.21L123.32 942.54L123.32 937.19L121.99 934.51L120.66 933.18L116.66 931.84M111.34 931.84L108.67 933.18L107.34 934.51L106.01 937.19L106.01 942.54L107.34 945.21L108.67 946.55L111.34 947.88M116.66 947.88L119.33 946.55L120.66 945.21L121.99 942.54L121.99 937.19L120.66 934.51L119.33 933.18L116.66 931.84" stroke="#000" stroke-width="1.30" fill="none" stroke-linecap="round" stroke-linejoin="round"/>
<path d="M547.40 1011.92L547.40 1043.21M548.87 1011.92L557.74 1038.74M547.40 1011.92L557.74 1043.21M568.08 1011.92L557.74 1043.21M568.08 1011.92L568.08 1043.21M569.55 1011.92L569.55 1043.21M542.97 1011.92L548.87 1011.92M568.08 1011.92L573.98 1011.92M542.97 1043.21L551.83 1043.21M563.64 1043.21L573.98 1043.21M591.71 1011.92L591.71 1037.25L590.23 1041.72L587.28 1043.21L584.32 1043.21L581.37 1041.72L579.89 1038.74L579.89 1035.76L581.37 1034.27L582.85 1035.76L581.37 1037.25M590.23 1011.92L590.23 1037.25L588.75 1041.72L587.28 1043.21M585.80 1011.92L596.14 1011.92M606.48 1011.92L606.48 1043.21M607.95 1011.92L607.95 1043.21M602.05 1011.92L616.82 1011.92L621.25 1013.41L624.20 1016.39L625.68 1019.37L627.16 1023.84L627.16 1031.29L625.68 1035.76L624.20 1038.74L621.25 1041.72L616.82 1043.21L602.05 1043.21M616.82 1011.92L619.77 1013.41L622.72 1016.39L624.20 1019.37L625.68 1023.84L625.68 1031.29L624.20 1035.76L622.72 1038.74L619.77 1041.72L616.82 1043.21" stroke="#000" stroke-width="1.30" fill="none" stroke-linecap="round" stroke-linejoin="round"/>
<path d="M5.82 658.75L37.11 658.75M5.82 657.27L32.64 648.41M5.82 658.75L37.11 648.41M5.82 638.07L37.11 648.41M5.82 638.07L37.11 638.07M5.82 636.60L37.11 636.60M5.82 663.18L5.82 657.27M5.82 638.07L5.82 632.16M37.11 663.18L37.11 654.32M37.11 642.50L37.11 632.16M19.23 621.83L20.72 621.83L20.72 623.30L19.23 623.30L17.74 621.83L16.25 618.87L16.25 612.96L17.74 610.01L19.23 608.53L22.21 607.05L32.64 607.05L35.62 605.58L37.11 604.10M19.23 608.53L32.64 608.53L35.62 607.05L37.11 604.10L37.11 602.62M22.21 608.53L23.70 610.01L25.19 618.87L26.68 623.30L29.66 624.78L32.64 624.78L35.62 623.30L37.11 618.87L37.11 614.44L35.62 611.49L32.64 608.53M25.19 618.87L26.68 621.83L29.66 623.30L32.64 623.30L35.62 621.83L37.11 618.87M16.25 587.85L17.74 590.81L19.23 592.28L22.21 593.76L25.19 593.76L28.17 592.28L29.66 590.81L31.15 587.85L31.15 584.90L29.66 581.95L28.17 580.47L25.19 578.99L22.21 578.99L19.23 580.47L17.74 581.95L16.25 584.90L16.25 587.85M17.74 590.81L20.72 592.28L26.68 592.28L29.66 590.81M29.66 581.95L26.68 580.47L20.72 580.47L17.74 581.95M19.23 580.47L17.74 578.99L16.25 576.04L17.74 576.04L17.74 578.99M28.17 592.28L29.66 593.76L32.64 595.24L34.13 595.24L37.11 593.76L38.60 589.33L38.60 581.95L40.09 577.51L41.58 576.04M34.13 595.24L35.62 593.76L37.11 589.33L37.11 581.95L38.60 577.51L41.58 576.04L43.07 576.04L46.05 577.51L47.54 581.95L47.54 590.81L46.05 595.24L43.07 596.72L41.58 596.72L38.60 595.24L37.11 590.81M16.25 564.22L37.11 564.22M16.25 562.75L37.11 562.75M20.72 562.75L17.74 559.79L16.25 555.36L16.25 552.41L17.74 547.98L20.72 546.50L37.11 546.50M16.25 552.41L17.74 549.45L20.72 547.98L37.11 547.98M16.25 568.65L16.25 562.75M37.11 568.65L37.11 558.31M37.11 552.41L37.11 542.07M5.82 531.73L7.31 533.20L8.80 531.73L7.31 530.25L5.82 531.73M16.25 531.73L37.11 531.73M16.25 530.25L37.11 530.25M16.25 536.16L16.25 530.25M37.11 536.16L37.11 525.82M5.82 515.48L31.15 515.48L35.62 514.00L37.11 511.05L37.11 508.10L35.62 505.14L32.64 503.66M5.82 514.00L31.15 514.00L35.62 512.53L37.11 511.05M16.25 519.91L16.25 508.10M16.25 493.33L32.64 493.33L35.62 491.85L37.11 487.42L37.11 484.46L35.62 480.03L32.64 477.08M16.25 491.85L32.64 491.85L35.62 490.37L37.11 487.42M16.25 477.08L37.11 477.08M16.25 475.60L37.11 475.60M16.25 497.76L16.25 491.85M16.25 481.51L16.25 475.60M37.11 477.08L37.11 471.17M5.82 446.06L37.11 446.06M5.82 444.58L37.11 444.58M20.72 446.06L17.74 449.02L16.25 451.97L16.25 454.92L17.74 459.36L20.72 462.31L25.19 463.79L28.17 463.79L32.64 462.31L35.62 459.36L37.11 454.92L37.11 451.97L35.62 449.02L32.64 446.06M16.25 454.92L17.74 457.88L20.72 460.83L25.19 462.31L28.17 462.31L32.64 460.83L35.62 457.88L37.11 454.92M5.82 450.49L5.82 444.58M37.11 446.06L37.11 440.15M25.19 431.29L25.19 413.57L22.21 413.57L19.23 415.04L17.74 416.52L16.25 419.48L16.25 423.91L17.74 428.34L20.72 431.29L25.19 432.77L28.17 432.77L32.64 431.29L35.62 428.34L37.11 423.91L37.11 420.95L35.62 416.52L32.64 413.57M25.19 415.04L20.72 415.04L17.74 416.52M16.25 423.91L17.74 426.86L20.72 429.81L25.19 431.29L28.17 431.29L32.64 429.81L35.62 426.86L37.11 423.91M-0.14 369.26L2.84 372.21L7.31 375.17L13.27 378.12L20.72 379.60L26.68 379.60L34.13 378.12L40.09 375.17L44.56 372.21L47.54 369.26M2.84 372.21L8.80 375.17L13.27 376.64L20.72 378.12L26.68 378.12L34.13 376.64L38.60 375.17L44.56 372.21M5.82 350.06L37.11 360.40M5.82 350.06L37.11 339.72M10.29 350.06L37.11 341.19M28.17 357.44L28.17 344.15M37.11 363.35L37.11 354.49M37.11 345.63L37.11 336.76M5.82 327.90L37.11 327.90M5.82 326.42L37.11 326.42M5.82 332.33L5.82 314.61L7.31 310.18L8.80 308.70L11.78 307.22L14.76 307.22L17.74 308.70L19.23 310.18L20.72 314.61M5.82 314.61L7.31 311.65L8.80 310.18L11.78 308.70L14.76 308.70L17.74 310.18L19.23 311.65L20.72 314.61M20.72 326.42L20.72 314.61L22.21 310.18L23.70 308.70L26.68 307.22L31.15 307.22L34.13 308.70L35.62 310.18L37.11 314.61L37.11 332.33M20.72 314.61L22.21 311.65L23.70 310.18L26.68 308.70L31.15 308.70L34.13 310.18L35.62 311.65L37.11 314.61M-0.14 298.36L2.84 295.41L7.31 292.45L13.27 289.50L20.72 288.02L26.68 288.02L34.13 289.50L40.09 292.45L44.56 295.41L47.54 298.36M2.84 295.41L8.80 292.45L13.27 290.98L20.72 289.50L26.68 289.50L34.13 290.98L38.60 292.45L44.56 295.41" stroke="#000" stroke-width="1.30" fill="none" stroke-linecap="round" stroke-linejoin="round"/>
<path d="M219.61 95.09L221.09 99.56L221.09 90.62L219.61 95.09L216.66 92.11L212.22 90.62L209.27 90.62L204.84 92.11L201.88 95.09L200.41 98.07L198.93 102.54L198.93 109.99L200.41 114.46L201.88 117.44L204.84 120.42L209.27 121.91L212.22 121.91L216.66 120.42L219.61 117.44L221.09 114.46M209.27 90.62L206.32 92.11L203.36 95.09L201.88 98.07L200.41 102.54L200.41 109.99L201.88 114.46L203.36 117.44L206.32 120.42L209.27 121.91M232.90 90.62L232.90 121.91M234.38 90.62L234.38 121.91M228.47 90.62L246.19 90.62L250.63 92.11L252.10 93.60L253.58 96.58L253.58 99.56L252.10 102.54L250.63 104.03L246.19 105.52L234.38 105.52M246.19 90.62L249.15 92.11L250.63 93.60L252.10 96.58L252.10 99.56L250.63 102.54L249.15 104.03L246.19 105.52M228.47 121.91L238.81 121.91M241.76 105.52L244.72 107.01L246.19 108.50L250.63 118.93L252.10 120.42L253.58 120.42L255.06 118.93M244.72 107.01L246.19 109.99L249.15 120.42L250.63 121.91L253.58 121.91L255.06 118.93L255.06 117.44M271.30 90.62L271.30 121.91M272.78 90.62L272.78 121.91M262.44 90.62L260.97 99.56L260.97 90.62L283.12 90.62L283.12 99.56L281.64 90.62M266.87 121.91L277.21 121.91M309.71 95.09L311.18 90.62L311.18 99.56L309.71 95.09L306.75 92.11L302.32 90.62L297.89 90.62L293.46 92.11L290.50 95.09L290.50 98.07L291.98 101.05L293.46 102.54L296.41 104.03L305.27 107.01L308.23 108.50L311.18 111.48M290.50 98.07L293.46 101.05L296.41 102.54L305.27 105.52L308.23 107.01L309.71 108.50L311.18 111.48L311.18 117.44L308.23 120.42L303.80 121.91L299.37 121.91L294.94 120.42L291.98 117.44L290.50 112.97L290.50 121.91L291.98 117.44" stroke="#2e8b57" stroke-width="1.30" fill="none" stroke-linecap="round" stroke-linejoin="round"/>
<path d="M200.41 146.22L206.32 177.51M201.88 146.22L206.32 170.06M212.22 146.22L206.32 177.51M212.22 146.22L218.13 177.51M213.70 146.22L218.13 170.06M224.04 146.22L218.13 177.51M195.98 146.22L206.32 146.22M219.61 146.22L228.47 146.22M237.33 146.22L237.33 177.51M238.81 146.22L238.81 177.51M232.90 146.22L243.24 146.22M232.90 177.51L243.24 177.51M269.83 150.69L271.30 146.22L271.30 155.16L269.83 150.69L266.87 147.71L262.44 146.22L258.01 146.22L253.58 147.71L250.63 150.69L250.63 153.67L252.10 156.65L253.58 158.14L256.53 159.63L265.40 162.61L268.35 164.10L271.30 167.08M250.63 153.67L253.58 156.65L256.53 158.14L265.40 161.12L268.35 162.61L269.83 164.10L271.30 167.08L271.30 173.04L268.35 176.02L263.92 177.51L259.49 177.51L255.06 176.02L252.10 173.04L250.63 168.57L250.63 177.51L252.10 173.04M283.12 146.22L283.12 177.51M284.60 146.22L284.60 177.51M293.46 155.16L293.46 167.08M278.69 146.22L302.32 146.22L302.32 155.16L300.84 146.22M284.60 161.12L293.46 161.12M278.69 177.51L302.32 177.51L302.32 168.57L300.84 177.51M336.29 146.22L342.20 177.51M337.77 146.22L342.20 170.06M348.11 146.22L342.20 177.51M348.11 146.22L354.02 177.51M349.59 146.22L354.02 170.06M359.92 146.22L354.02 177.51M331.86 146.22L342.20 146.22M355.49 146.22L364.36 146.22M374.69 152.18L377.65 150.69L382.08 146.22L382.08 177.51M380.60 147.71L380.60 177.51M374.69 177.51L387.99 177.51" stroke="#ff00ff" stroke-width="1.30" fill="none" stroke-linecap="round" stroke-linejoin="round"/>
<path d="M200.41 201.72L206.32 233.01M201.88 201.72L206.32 225.56M212.22 201.72L206.32 233.01M212.22 201.72L218.13 233.01M213.70 201.72L218.13 225.56M224.04 201.72L218.13 233.01M195.98 201.72L206.32 201.72M219.61 201.72L228.47 201.72M237.33 201.72L237.33 233.01M238.81 201.72L238.81 233.01M232.90 201.72L243.24 201.72M232.90 233.01L243.24 233.01M269.83 206.19L271.30 201.72L271.30 210.66L269.83 206.19L266.87 203.21L262.44 201.72L258.01 201.72L253.58 203.21L250.63 206.19L250.63 209.17L252.10 212.15L253.58 213.64L256.53 215.13L265.40 218.11L268.35 219.60L271.30 222.58M250.63 209.17L253.58 212.15L256.53 213.64L265.40 216.62L268.35 218.11L269.83 219.60L271.30 222.58L271.30 228.54L268.35 231.52L263.92 233.01L259.49 233.01L255.06 231.52L252.10 228.54L250.63 224.07L250.63 233.01L252.10 228.54M283.12 201.72L283.12 233.01M284.60 201.72L284.60 233.01M293.46 210.66L293.46 222.58M278.69 201.72L302.32 201.72L302.32 210.66L300.84 201.72M284.60 216.62L293.46 216.62M278.69 233.01L302.32 233.01L302.32 224.07L300.84 233.01M336.29 201.72L342.20 233.01M337.77 201.72L342.20 225.56M348.11 201.72L342.20 233.01M348.11 201.72L354.02 233.01M349.59 201.72L354.02 225.56M359.92 201.72L354.02 233.01M331.86 201.72L342.20 201.72M355.49 201.72L364.36 201.72M371.74 207.68L373.22 209.17L371.74 210.66L370.26 209.17L370.26 207.68L371.74 204.70L373.22 203.21L377.65 201.72L383.56 201.72L387.99 203.21L389.46 204.70L390.94 207.68L390.94 210.66L389.46 213.64L385.03 216.62L377.65 219.60L374.69 221.09L371.74 224.07L370.26 228.54L370.26 233.01M383.56 201.72L386.51 203.21L387.99 204.70L389.46 207.68L389.46 210.66L387.99 213.64L383.56 216.62L377.65 219.60M370.26 230.03L371.74 228.54L374.69 228.54L382.08 231.52L386.51 231.52L389.46 230.03L390.94 228.54M374.69 228.54L382.08 233.01L387.99 233.01L389.46 231.52L390.94 228.54L390.94 225.56" stroke="#ff0000" stroke-width="1.30" fill="none" stroke-linecap="round" stroke-linejoin="round"/>
</svg>
</body></html>
